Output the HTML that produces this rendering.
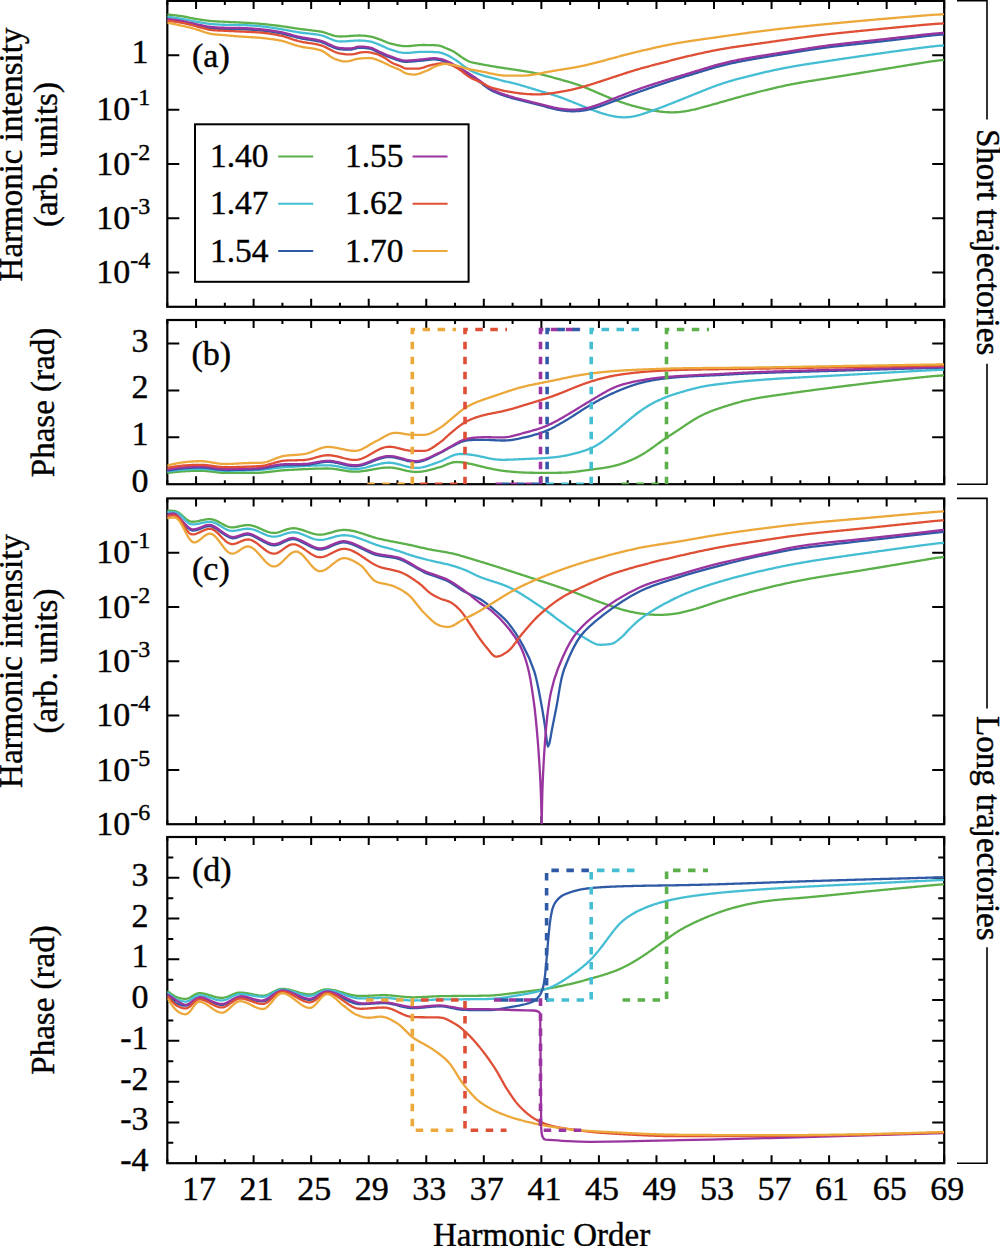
<!DOCTYPE html>
<html><head><meta charset="utf-8"><style>
html,body{margin:0;padding:0;background:#fff;}
svg{display:block;}
text{font-family:"Liberation Serif",serif;font-size:34px;fill:#000;stroke:#000;stroke-width:0.4px;}
</style></head><body>
<svg width="1000" height="1246" viewBox="0 0 1000 1246">
<rect x="167.3" y="0.9" width="776.90" height="305.90" fill="none" stroke="#000" stroke-width="2.2"/>
<path d="M167.30 306.80v-4M167.30 0.90v4M196.07 306.80v-8M196.07 0.90v8M224.85 306.80v-4M224.85 0.90v4M253.62 306.80v-8M253.62 0.90v8M282.40 306.80v-4M282.40 0.90v4M311.17 306.80v-8M311.17 0.90v8M339.94 306.80v-4M339.94 0.90v4M368.72 306.80v-8M368.72 0.90v8M397.49 306.80v-4M397.49 0.90v4M426.27 306.80v-8M426.27 0.90v8M455.04 306.80v-4M455.04 0.90v4M483.81 306.80v-8M483.81 0.90v8M512.59 306.80v-4M512.59 0.90v4M541.36 306.80v-8M541.36 0.90v8M570.14 306.80v-4M570.14 0.90v4M598.91 306.80v-8M598.91 0.90v8M627.69 306.80v-4M627.69 0.90v4M656.46 306.80v-8M656.46 0.90v8M685.23 306.80v-4M685.23 0.90v4M714.01 306.80v-8M714.01 0.90v8M742.78 306.80v-4M742.78 0.90v4M771.56 306.80v-8M771.56 0.90v8M800.33 306.80v-4M800.33 0.90v4M829.10 306.80v-8M829.10 0.90v8M857.88 306.80v-4M857.88 0.90v4M886.65 306.80v-8M886.65 0.90v8M915.43 306.80v-4M915.43 0.90v4M944.20 306.80v-8M944.20 0.90v8" stroke="#000" stroke-width="2" fill="none"/>
<rect x="167.3" y="320.0" width="776.90" height="164.20" fill="none" stroke="#000" stroke-width="2.2"/>
<path d="M167.30 484.20v-4M167.30 320.00v4M196.07 484.20v-8M196.07 320.00v8M224.85 484.20v-4M224.85 320.00v4M253.62 484.20v-8M253.62 320.00v8M282.40 484.20v-4M282.40 320.00v4M311.17 484.20v-8M311.17 320.00v8M339.94 484.20v-4M339.94 320.00v4M368.72 484.20v-8M368.72 320.00v8M397.49 484.20v-4M397.49 320.00v4M426.27 484.20v-8M426.27 320.00v8M455.04 484.20v-4M455.04 320.00v4M483.81 484.20v-8M483.81 320.00v8M512.59 484.20v-4M512.59 320.00v4M541.36 484.20v-8M541.36 320.00v8M570.14 484.20v-4M570.14 320.00v4M598.91 484.20v-8M598.91 320.00v8M627.69 484.20v-4M627.69 320.00v4M656.46 484.20v-8M656.46 320.00v8M685.23 484.20v-4M685.23 320.00v4M714.01 484.20v-8M714.01 320.00v8M742.78 484.20v-4M742.78 320.00v4M771.56 484.20v-8M771.56 320.00v8M800.33 484.20v-4M800.33 320.00v4M829.10 484.20v-8M829.10 320.00v8M857.88 484.20v-4M857.88 320.00v4M886.65 484.20v-8M886.65 320.00v8M915.43 484.20v-4M915.43 320.00v4M944.20 484.20v-8M944.20 320.00v8" stroke="#000" stroke-width="2" fill="none"/>
<rect x="167.3" y="498.4" width="776.90" height="325.80" fill="none" stroke="#000" stroke-width="2.2"/>
<path d="M167.30 824.20v-4M167.30 498.40v4M196.07 824.20v-8M196.07 498.40v8M224.85 824.20v-4M224.85 498.40v4M253.62 824.20v-8M253.62 498.40v8M282.40 824.20v-4M282.40 498.40v4M311.17 824.20v-8M311.17 498.40v8M339.94 824.20v-4M339.94 498.40v4M368.72 824.20v-8M368.72 498.40v8M397.49 824.20v-4M397.49 498.40v4M426.27 824.20v-8M426.27 498.40v8M455.04 824.20v-4M455.04 498.40v4M483.81 824.20v-8M483.81 498.40v8M512.59 824.20v-4M512.59 498.40v4M541.36 824.20v-8M541.36 498.40v8M570.14 824.20v-4M570.14 498.40v4M598.91 824.20v-8M598.91 498.40v8M627.69 824.20v-4M627.69 498.40v4M656.46 824.20v-8M656.46 498.40v8M685.23 824.20v-4M685.23 498.40v4M714.01 824.20v-8M714.01 498.40v8M742.78 824.20v-4M742.78 498.40v4M771.56 824.20v-8M771.56 498.40v8M800.33 824.20v-4M800.33 498.40v4M829.10 824.20v-8M829.10 498.40v8M857.88 824.20v-4M857.88 498.40v4M886.65 824.20v-8M886.65 498.40v8M915.43 824.20v-4M915.43 498.40v4M944.20 824.20v-8M944.20 498.40v8" stroke="#000" stroke-width="2" fill="none"/>
<rect x="167.3" y="837.0" width="776.90" height="326.20" fill="none" stroke="#000" stroke-width="2.2"/>
<path d="M167.30 1163.20v-4M167.30 837.00v4M196.07 1163.20v-8M196.07 837.00v8M224.85 1163.20v-4M224.85 837.00v4M253.62 1163.20v-8M253.62 837.00v8M282.40 1163.20v-4M282.40 837.00v4M311.17 1163.20v-8M311.17 837.00v8M339.94 1163.20v-4M339.94 837.00v4M368.72 1163.20v-8M368.72 837.00v8M397.49 1163.20v-4M397.49 837.00v4M426.27 1163.20v-8M426.27 837.00v8M455.04 1163.20v-4M455.04 837.00v4M483.81 1163.20v-8M483.81 837.00v8M512.59 1163.20v-4M512.59 837.00v4M541.36 1163.20v-8M541.36 837.00v8M570.14 1163.20v-4M570.14 837.00v4M598.91 1163.20v-8M598.91 837.00v8M627.69 1163.20v-4M627.69 837.00v4M656.46 1163.20v-8M656.46 837.00v8M685.23 1163.20v-4M685.23 837.00v4M714.01 1163.20v-8M714.01 837.00v8M742.78 1163.20v-4M742.78 837.00v4M771.56 1163.20v-8M771.56 837.00v8M800.33 1163.20v-4M800.33 837.00v4M829.10 1163.20v-8M829.10 837.00v8M857.88 1163.20v-4M857.88 837.00v4M886.65 1163.20v-8M886.65 837.00v8M915.43 1163.20v-4M915.43 837.00v4M944.20 1163.20v-8M944.20 837.00v8" stroke="#000" stroke-width="2" fill="none"/>
<path d="M167.30 55.30h12M944.20 55.30h-12M167.30 109.63h12M944.20 109.63h-12M167.30 163.96h12M944.20 163.96h-12M167.30 218.29h12M944.20 218.29h-12M167.30 272.62h12M944.20 272.62h-12" stroke="#000" stroke-width="2" fill="none"/>
<path d="M167.30 437.30h12M944.20 437.30h-12M167.30 390.40h12M944.20 390.40h-12M167.30 343.50h12M944.20 343.50h-12" stroke="#000" stroke-width="2" fill="none"/>
<path d="M167.30 552.70h12M944.20 552.70h-12M167.30 607.00h12M944.20 607.00h-12M167.30 661.30h12M944.20 661.30h-12M167.30 715.60h12M944.20 715.60h-12M167.30 769.90h12M944.20 769.90h-12" stroke="#000" stroke-width="2" fill="none"/>
<path d="M167.30 1122.41h12M944.20 1122.41h-12M167.30 1081.64h12M944.20 1081.64h-12M167.30 1040.87h12M944.20 1040.87h-12M167.30 1000.10h12M944.20 1000.10h-12M167.30 959.33h12M944.20 959.33h-12M167.30 918.56h12M944.20 918.56h-12M167.30 877.79h12M944.20 877.79h-12" stroke="#000" stroke-width="2" fill="none"/>
<path d="M167.30 1142.80h6M944.20 1142.80h-6M167.30 1102.03h6M944.20 1102.03h-6M167.30 1061.26h6M944.20 1061.26h-6M167.30 1020.49h6M944.20 1020.49h-6M167.30 979.72h6M944.20 979.72h-6M167.30 938.95h6M944.20 938.95h-6M167.30 898.17h6M944.20 898.17h-6M167.30 857.40h6M944.20 857.40h-6" stroke="#000" stroke-width="2" fill="none"/>
<text x="148.5" y="63.3" text-anchor="end">1</text>
<text x="150.3" y="120.2" text-anchor="end">10<tspan font-size="24" style="font-size:24px" dy="-15">-1</tspan></text>
<text x="150.3" y="174.6" text-anchor="end">10<tspan font-size="24" style="font-size:24px" dy="-15">-2</tspan></text>
<text x="150.3" y="228.9" text-anchor="end">10<tspan font-size="24" style="font-size:24px" dy="-15">-3</tspan></text>
<text x="150.3" y="283.2" text-anchor="end">10<tspan font-size="24" style="font-size:24px" dy="-15">-4</tspan></text>
<text x="148.5" y="492.2" text-anchor="end">0</text>
<text x="148.5" y="445.3" text-anchor="end">1</text>
<text x="148.5" y="398.4" text-anchor="end">2</text>
<text x="148.5" y="351.5" text-anchor="end">3</text>
<text x="150.3" y="563.3" text-anchor="end">10<tspan font-size="24" style="font-size:24px" dy="-15">-1</tspan></text>
<text x="150.3" y="617.6" text-anchor="end">10<tspan font-size="24" style="font-size:24px" dy="-15">-2</tspan></text>
<text x="150.3" y="671.9" text-anchor="end">10<tspan font-size="24" style="font-size:24px" dy="-15">-3</tspan></text>
<text x="150.3" y="726.2" text-anchor="end">10<tspan font-size="24" style="font-size:24px" dy="-15">-4</tspan></text>
<text x="150.3" y="780.5" text-anchor="end">10<tspan font-size="24" style="font-size:24px" dy="-15">-5</tspan></text>
<text x="150.3" y="834.8" text-anchor="end">10<tspan font-size="24" style="font-size:24px" dy="-15">-6</tspan></text>
<text x="148.5" y="1171.2" text-anchor="end">-4</text>
<text x="148.5" y="1130.4" text-anchor="end">-3</text>
<text x="148.5" y="1089.6" text-anchor="end">-2</text>
<text x="148.5" y="1048.9" text-anchor="end">-1</text>
<text x="148.5" y="1008.1" text-anchor="end">0</text>
<text x="148.5" y="967.3" text-anchor="end">1</text>
<text x="148.5" y="926.6" text-anchor="end">2</text>
<text x="148.5" y="885.8" text-anchor="end">3</text>
<text x="199.1" y="1199.5" text-anchor="middle">17</text>
<text x="256.6" y="1199.5" text-anchor="middle">21</text>
<text x="314.2" y="1199.5" text-anchor="middle">25</text>
<text x="371.7" y="1199.5" text-anchor="middle">29</text>
<text x="429.3" y="1199.5" text-anchor="middle">33</text>
<text x="486.8" y="1199.5" text-anchor="middle">37</text>
<text x="544.4" y="1199.5" text-anchor="middle">41</text>
<text x="601.9" y="1199.5" text-anchor="middle">45</text>
<text x="659.5" y="1199.5" text-anchor="middle">49</text>
<text x="717.0" y="1199.5" text-anchor="middle">53</text>
<text x="774.6" y="1199.5" text-anchor="middle">57</text>
<text x="832.1" y="1199.5" text-anchor="middle">61</text>
<text x="889.7" y="1199.5" text-anchor="middle">65</text>
<text x="947.2" y="1199.5" text-anchor="middle">69</text>
<text x="433" y="1246.2" font-size="33" style="font-size:33px">Harmonic Order</text>
<text x="192" y="66.8">(a)</text>
<text x="191.5" y="365.2">(b)</text>
<text x="192" y="580">(c)</text>
<text x="192" y="880.8">(d)</text>
<text transform="translate(22,154.5) rotate(-90)" text-anchor="middle" style="font-size:33px">Harmonic intensity</text>
<text transform="translate(57,154.5) rotate(-90)" text-anchor="middle" style="font-size:33px">(arb. units)</text>
<text transform="translate(54,402.5) rotate(-90)" text-anchor="middle" style="font-size:33px">Phase (rad)</text>
<text transform="translate(22,661) rotate(-90)" text-anchor="middle" style="font-size:33px">Harmonic intensity</text>
<text transform="translate(57,661) rotate(-90)" text-anchor="middle" style="font-size:33px">(arb. units)</text>
<text transform="translate(54,1000) rotate(-90)" text-anchor="middle" style="font-size:33px">Phase (rad)</text>
<path d="M957 0.8H987V119.6 M987 363.8V484.2H957 M957 498.4H987V708.4 M987 947.3V1163.2H957" stroke="#000" stroke-width="1.6" fill="none"/>
<text transform="translate(977,242.1) rotate(90)" text-anchor="middle" style="font-size:33px">Short trajectories</text>
<text transform="translate(977,828.3) rotate(90)" text-anchor="middle" style="font-size:33px">Long trajectories</text>
<defs><clipPath id="clipa"><rect x="167.3" y="0.9" width="776.90" height="305.90"/></clipPath><clipPath id="clipb"><rect x="167.3" y="320.0" width="776.90" height="164.20"/></clipPath><clipPath id="clipc"><rect x="167.3" y="498.4" width="776.90" height="325.80"/></clipPath><clipPath id="clipd"><rect x="167.3" y="837.0" width="776.90" height="326.20"/></clipPath></defs>
<path d="M168.0 14.64L169.0 14.69L170.0 14.77L171.0 14.86L172.0 14.96L173.0 15.07L174.0 15.18L175.0 15.30L176.0 15.42L177.0 15.55L178.0 15.68L179.0 15.82L180.0 15.96L181.0 16.11L182.0 16.25L183.0 16.41L184.0 16.57L185.0 16.75L186.0 16.95L187.0 17.15L188.0 17.37L189.0 17.58L190.0 17.80L191.0 18.02L192.0 18.23L193.0 18.43L194.0 18.62L195.0 18.79L196.0 18.96L197.0 19.12L198.0 19.29L199.0 19.45L200.0 19.60L201.0 19.76L202.0 19.91L203.0 20.06L204.0 20.20L205.0 20.34L206.0 20.47L207.0 20.60L208.0 20.72L209.0 20.83L210.0 20.94L211.0 21.03L212.0 21.12L213.0 21.19L214.0 21.26L215.0 21.33L216.0 21.38L217.0 21.44L218.0 21.49L219.0 21.53L220.0 21.58L221.0 21.62L222.0 21.66L223.0 21.71L224.0 21.75L225.0 21.80L226.0 21.85L227.0 21.89L228.0 21.94L229.0 21.98L230.0 22.03L231.0 22.07L232.0 22.12L233.0 22.16L234.0 22.21L235.0 22.25L236.0 22.30L237.0 22.35L238.0 22.40L239.0 22.45L240.0 22.50L241.0 22.55L242.0 22.61L243.0 22.67L244.0 22.72L245.0 22.78L246.0 22.84L247.0 22.90L248.0 22.96L249.0 23.02L250.0 23.08L251.0 23.15L252.0 23.21L253.0 23.28L254.0 23.35L255.0 23.42L256.0 23.49L257.0 23.57L258.0 23.64L259.0 23.72L260.0 23.80L261.0 23.89L262.0 23.97L263.0 24.06L264.0 24.16L265.0 24.26L266.0 24.36L267.0 24.46L268.0 24.57L269.0 24.68L270.0 24.79L271.0 24.90L272.0 25.02L273.0 25.14L274.0 25.26L275.0 25.38L276.0 25.50L277.0 25.62L278.0 25.75L279.0 25.87L280.0 26.00L281.0 26.13L282.0 26.27L283.0 26.41L284.0 26.55L285.0 26.70L286.0 26.85L287.0 27.00L288.0 27.16L289.0 27.32L290.0 27.48L291.0 27.64L292.0 27.79L293.0 27.95L294.0 28.11L295.0 28.27L296.0 28.42L297.0 28.57L298.0 28.72L299.0 28.86L300.0 29.00L301.0 29.13L302.0 29.26L303.0 29.38L304.0 29.50L305.0 29.62L306.0 29.73L307.0 29.84L308.0 29.95L309.0 30.06L310.0 30.18L311.0 30.29L312.0 30.40L313.0 30.52L314.0 30.65L315.0 30.77L316.0 30.91L317.0 31.04L318.0 31.19L319.0 31.35L320.0 31.52L321.0 31.71L322.0 31.93L323.0 32.18L324.0 32.46L325.0 32.76L326.0 33.08L327.0 33.41L328.0 33.74L329.0 34.08L330.0 34.41L331.0 34.74L332.0 35.05L333.0 35.34L334.0 35.61L335.0 35.85L336.0 36.06L337.0 36.23L338.0 36.36L339.0 36.44L340.0 36.48L341.0 36.48L342.0 36.46L343.0 36.43L344.0 36.39L345.0 36.34L346.0 36.28L347.0 36.22L348.0 36.15L349.0 36.07L350.0 36.00L351.0 35.93L352.0 35.85L353.0 35.78L354.0 35.72L355.0 35.66L356.0 35.61L357.0 35.57L358.0 35.54L359.0 35.52L360.0 35.52L361.0 35.53L362.0 35.57L363.0 35.64L364.0 35.72L365.0 35.82L366.0 35.94L367.0 36.07L368.0 36.21L369.0 36.36L370.0 36.52L371.0 36.70L372.0 36.92L373.0 37.18L374.0 37.46L375.0 37.78L376.0 38.11L377.0 38.45L378.0 38.80L379.0 39.15L380.0 39.51L381.0 39.88L382.0 40.28L383.0 40.69L384.0 41.12L385.0 41.56L386.0 41.98L387.0 42.38L388.0 42.75L389.0 43.09L390.0 43.38L391.0 43.65L392.0 43.90L393.0 44.15L394.0 44.39L395.0 44.63L396.0 44.86L397.0 45.08L398.0 45.29L399.0 45.48L400.0 45.65L401.0 45.80L402.0 45.93L403.0 46.04L404.0 46.11L405.0 46.16L406.0 46.18L407.0 46.17L408.0 46.13L409.0 46.08L410.0 46.00L411.0 45.91L412.0 45.82L413.0 45.71L414.0 45.60L415.0 45.49L416.0 45.38L417.0 45.29L418.0 45.20L419.0 45.12L420.0 45.07L421.0 45.03L422.0 45.01L423.0 45.01L424.0 45.01L425.0 45.02L426.0 45.03L427.0 45.04L428.0 45.06L429.0 45.08L430.0 45.10L431.0 45.13L432.0 45.15L433.0 45.19L434.0 45.22L435.0 45.26L436.0 45.31L437.0 45.36L438.0 45.45L439.0 45.59L440.0 45.81L441.0 46.12L442.0 46.49L443.0 46.90L444.0 47.34L445.0 47.77L446.0 48.19L447.0 48.60L448.0 49.01L449.0 49.43L450.0 49.86L451.0 50.31L452.0 50.79L453.0 51.29L454.0 51.84L455.0 52.44L456.0 53.10L457.0 53.80L458.0 54.54L459.0 55.28L460.0 56.01L461.0 56.71L462.0 57.38L463.0 58.02L464.0 58.66L465.0 59.27L466.0 59.87L467.0 60.43L468.0 60.94L469.0 61.38L470.0 61.76L471.0 62.08L472.0 62.36L473.0 62.60L474.0 62.83L475.0 63.04L476.0 63.24L477.0 63.43L478.0 63.62L479.0 63.81L480.0 64.00L481.0 64.19L482.0 64.39L483.0 64.58L484.0 64.76L485.0 64.95L486.0 65.13L487.0 65.31L488.0 65.49L489.0 65.66L490.0 65.84L491.0 66.01L492.0 66.18L493.0 66.35L494.0 66.52L495.0 66.68L496.0 66.85L497.0 67.01L498.0 67.18L499.0 67.34L500.0 67.50L501.0 67.66L502.0 67.81L503.0 67.97L504.0 68.12L505.0 68.27L506.0 68.42L507.0 68.57L508.0 68.71L509.0 68.86L510.0 69.00L511.0 69.14L512.0 69.29L513.0 69.43L514.0 69.58L515.0 69.73L516.0 69.88L517.0 70.03L518.0 70.19L519.0 70.34L520.0 70.50L521.0 70.66L522.0 70.82L523.0 70.98L524.0 71.15L525.0 71.31L526.0 71.47L527.0 71.64L528.0 71.80L529.0 71.97L530.0 72.15L531.0 72.32L532.0 72.50L533.0 72.68L534.0 72.87L535.0 73.06L536.0 73.26L537.0 73.46L538.0 73.67L539.0 73.88L540.0 74.10L541.0 74.33L542.0 74.57L543.0 74.81L544.0 75.06L545.0 75.32L546.0 75.58L547.0 75.85L548.0 76.12L549.0 76.39L550.0 76.67L551.0 76.95L552.0 77.23L553.0 77.51L554.0 77.79L555.0 78.07L556.0 78.35L557.0 78.63L558.0 78.90L559.0 79.18L560.0 79.45L561.0 79.73L562.0 80.00L563.0 80.27L564.0 80.55L565.0 80.82L566.0 81.10L567.0 81.38L568.0 81.66L569.0 81.95L570.0 82.25L571.0 82.54L572.0 82.85L573.0 83.16L574.0 83.48L575.0 83.80L576.0 84.13L577.0 84.47L578.0 84.82L579.0 85.18L580.0 85.55L581.0 85.91L582.0 86.28L583.0 86.66L584.0 87.05L585.0 87.44L586.0 87.84L587.0 88.25L588.0 88.66L589.0 89.08L590.0 89.50L591.0 89.93L592.0 90.35L593.0 90.78L594.0 91.22L595.0 91.65L596.0 92.09L597.0 92.52L598.0 92.95L599.0 93.39L600.0 93.82L601.0 94.25L602.0 94.68L603.0 95.10L604.0 95.53L605.0 95.95L606.0 96.36L607.0 96.77L608.0 97.18L609.0 97.59L610.0 97.99L611.0 98.38L612.0 98.77L613.0 99.16L614.0 99.54L615.0 99.92L616.0 100.30L617.0 100.66L618.0 101.03L619.0 101.39L620.0 101.74L621.0 102.09L622.0 102.43L623.0 102.77L624.0 103.10L625.0 103.43L626.0 103.76L627.0 104.07L628.0 104.39L629.0 104.69L630.0 104.99L631.0 105.29L632.0 105.58L633.0 105.87L634.0 106.15L635.0 106.42L636.0 106.69L637.0 106.96L638.0 107.21L639.0 107.47L640.0 107.71L641.0 107.96L642.0 108.19L643.0 108.43L644.0 108.65L645.0 108.87L646.0 109.09L647.0 109.30L648.0 109.50L649.0 109.70L650.0 109.90L651.0 110.09L652.0 110.27L653.0 110.45L654.0 110.62L655.0 110.79L656.0 110.95L657.0 111.10L658.0 111.25L659.0 111.39L660.0 111.52L661.0 111.64L662.0 111.75L663.0 111.86L664.0 111.95L665.0 112.04L666.0 112.11L667.0 112.17L668.0 112.23L669.0 112.27L670.0 112.30L671.0 112.32L672.0 112.33L673.0 112.32L674.0 112.30L675.0 112.27L676.0 112.23L677.0 112.18L678.0 112.11L679.0 112.03L680.0 111.94L681.0 111.84L682.0 111.73L683.0 111.60L684.0 111.46L685.0 111.31L686.0 111.15L687.0 110.98L688.0 110.80L689.0 110.61L690.0 110.41L691.0 110.20L692.0 109.98L693.0 109.75L694.0 109.52L695.0 109.28L696.0 109.03L697.0 108.78L698.0 108.53L699.0 108.27L700.0 108.00L701.0 107.74L702.0 107.47L703.0 107.20L704.0 106.92L705.0 106.65L706.0 106.38L707.0 106.10L708.0 105.82L709.0 105.54L710.0 105.27L711.0 104.99L712.0 104.71L713.0 104.43L714.0 104.15L715.0 103.87L716.0 103.59L717.0 103.31L718.0 103.03L719.0 102.75L720.0 102.47L721.0 102.18L722.0 101.90L723.0 101.62L724.0 101.34L725.0 101.05L726.0 100.77L727.0 100.49L728.0 100.20L729.0 99.92L730.0 99.64L731.0 99.35L732.0 99.07L733.0 98.79L734.0 98.50L735.0 98.22L736.0 97.94L737.0 97.66L738.0 97.38L739.0 97.10L740.0 96.82L741.0 96.54L742.0 96.26L743.0 95.99L744.0 95.71L745.0 95.44L746.0 95.16L747.0 94.89L748.0 94.62L749.0 94.36L750.0 94.09L751.0 93.82L752.0 93.56L753.0 93.30L754.0 93.03L755.0 92.77L756.0 92.52L757.0 92.26L758.0 92.00L759.0 91.75L760.0 91.50L761.0 91.25L762.0 91.00L763.0 90.75L764.0 90.50L765.0 90.26L766.0 90.02L767.0 89.77L768.0 89.53L769.0 89.29L770.0 89.05L771.0 88.82L772.0 88.58L773.0 88.35L774.0 88.11L775.0 87.88L776.0 87.65L777.0 87.42L778.0 87.20L779.0 86.97L780.0 86.75L781.0 86.53L782.0 86.31L783.0 86.09L784.0 85.87L785.0 85.66L786.0 85.45L787.0 85.24L788.0 85.03L789.0 84.83L790.0 84.62L791.0 84.43L792.0 84.23L793.0 84.03L794.0 83.84L795.0 83.65L796.0 83.47L797.0 83.28L798.0 83.10L799.0 82.92L800.0 82.75L801.0 82.57L802.0 82.40L803.0 82.23L804.0 82.06L805.0 81.89L806.0 81.72L807.0 81.56L808.0 81.39L809.0 81.23L810.0 81.07L811.0 80.91L812.0 80.75L813.0 80.59L814.0 80.43L815.0 80.27L816.0 80.11L817.0 79.95L818.0 79.79L819.0 79.64L820.0 79.48L821.0 79.32L822.0 79.16L823.0 79.00L824.0 78.84L825.0 78.68L826.0 78.52L827.0 78.36L828.0 78.20L829.0 78.04L830.0 77.88L831.0 77.71L832.0 77.55L833.0 77.39L834.0 77.23L835.0 77.07L836.0 76.91L837.0 76.74L838.0 76.58L839.0 76.42L840.0 76.26L841.0 76.09L842.0 75.93L843.0 75.77L844.0 75.61L845.0 75.44L846.0 75.28L847.0 75.12L848.0 74.95L849.0 74.79L850.0 74.63L851.0 74.47L852.0 74.30L853.0 74.14L854.0 73.98L855.0 73.81L856.0 73.65L857.0 73.49L858.0 73.32L859.0 73.16L860.0 73.00L861.0 72.83L862.0 72.67L863.0 72.51L864.0 72.34L865.0 72.18L866.0 72.02L867.0 71.85L868.0 71.69L869.0 71.53L870.0 71.36L871.0 71.20L872.0 71.03L873.0 70.87L874.0 70.71L875.0 70.54L876.0 70.38L877.0 70.22L878.0 70.05L879.0 69.89L880.0 69.73L881.0 69.56L882.0 69.40L883.0 69.24L884.0 69.07L885.0 68.91L886.0 68.75L887.0 68.58L888.0 68.42L889.0 68.26L890.0 68.09L891.0 67.93L892.0 67.76L893.0 67.60L894.0 67.44L895.0 67.27L896.0 67.11L897.0 66.95L898.0 66.78L899.0 66.62L900.0 66.45L901.0 66.29L902.0 66.13L903.0 65.96L904.0 65.80L905.0 65.64L906.0 65.47L907.0 65.31L908.0 65.14L909.0 64.98L910.0 64.82L911.0 64.65L912.0 64.49L913.0 64.33L914.0 64.16L915.0 64.00L916.0 63.83L917.0 63.67L918.0 63.51L919.0 63.35L920.0 63.18L921.0 63.02L922.0 62.86L923.0 62.70L924.0 62.54L925.0 62.38L926.0 62.22L927.0 62.07L928.0 61.91L929.0 61.76L930.0 61.61L931.0 61.46L932.0 61.32L933.0 61.18L934.0 61.04L935.0 60.91L936.0 60.78L937.0 60.66L938.0 60.55L939.0 60.44L940.0 60.33L941.0 60.23L942.0 60.14L943.0 60.05" stroke="#5bb04a" stroke-width="2.3" fill="none" stroke-linejoin="round" stroke-linecap="round" clip-path="url(#clipa)"/>
<path d="M168.0 16.86L169.0 16.95L170.0 17.07L171.0 17.20L172.0 17.34L173.0 17.49L174.0 17.64L175.0 17.79L176.0 17.94L177.0 18.10L178.0 18.26L179.0 18.42L180.0 18.59L181.0 18.76L182.0 18.93L183.0 19.10L184.0 19.29L185.0 19.48L186.0 19.68L187.0 19.88L188.0 20.09L189.0 20.30L190.0 20.51L191.0 20.72L192.0 20.93L193.0 21.12L194.0 21.31L195.0 21.50L196.0 21.68L197.0 21.85L198.0 22.03L199.0 22.21L200.0 22.39L201.0 22.56L202.0 22.74L203.0 22.91L204.0 23.07L205.0 23.23L206.0 23.39L207.0 23.53L208.0 23.67L209.0 23.80L210.0 23.91L211.0 24.02L212.0 24.11L213.0 24.19L214.0 24.27L215.0 24.34L216.0 24.40L217.0 24.46L218.0 24.52L219.0 24.57L220.0 24.62L221.0 24.67L222.0 24.71L223.0 24.74L224.0 24.77L225.0 24.80L226.0 24.82L227.0 24.84L228.0 24.85L229.0 24.86L230.0 24.88L231.0 24.89L232.0 24.90L233.0 24.91L234.0 24.92L235.0 24.93L236.0 24.94L237.0 24.95L238.0 24.97L239.0 24.98L240.0 25.00L241.0 25.03L242.0 25.06L243.0 25.09L244.0 25.13L245.0 25.17L246.0 25.22L247.0 25.27L248.0 25.32L249.0 25.38L250.0 25.45L251.0 25.51L252.0 25.58L253.0 25.65L254.0 25.72L255.0 25.80L256.0 25.88L257.0 25.95L258.0 26.04L259.0 26.12L260.0 26.20L261.0 26.29L262.0 26.39L263.0 26.50L264.0 26.61L265.0 26.73L266.0 26.86L267.0 26.99L268.0 27.13L269.0 27.28L270.0 27.42L271.0 27.58L272.0 27.73L273.0 27.89L274.0 28.04L275.0 28.20L276.0 28.36L277.0 28.52L278.0 28.68L279.0 28.84L280.0 29.00L281.0 29.16L282.0 29.33L283.0 29.50L284.0 29.67L285.0 29.85L286.0 30.03L287.0 30.22L288.0 30.40L289.0 30.59L290.0 30.77L291.0 30.96L292.0 31.15L293.0 31.33L294.0 31.51L295.0 31.69L296.0 31.86L297.0 32.03L298.0 32.19L299.0 32.35L300.0 32.49L301.0 32.64L302.0 32.77L303.0 32.89L304.0 33.01L305.0 33.13L306.0 33.24L307.0 33.35L308.0 33.45L309.0 33.56L310.0 33.66L311.0 33.77L312.0 33.88L313.0 34.00L314.0 34.12L315.0 34.24L316.0 34.38L317.0 34.52L318.0 34.67L319.0 34.84L320.0 35.02L321.0 35.25L322.0 35.51L323.0 35.82L324.0 36.16L325.0 36.54L326.0 36.95L327.0 37.37L328.0 37.81L329.0 38.25L330.0 38.69L331.0 39.13L332.0 39.54L333.0 39.93L334.0 40.30L335.0 40.62L336.0 40.90L337.0 41.13L338.0 41.30L339.0 41.41L340.0 41.47L341.0 41.48L342.0 41.46L343.0 41.43L344.0 41.39L345.0 41.34L346.0 41.28L347.0 41.22L348.0 41.15L349.0 41.07L350.0 41.00L351.0 40.93L352.0 40.85L353.0 40.78L354.0 40.72L355.0 40.66L356.0 40.61L357.0 40.57L358.0 40.54L359.0 40.52L360.0 40.51L361.0 40.53L362.0 40.57L363.0 40.63L364.0 40.72L365.0 40.82L366.0 40.93L367.0 41.06L368.0 41.20L369.0 41.35L370.0 41.52L371.0 41.73L372.0 41.97L373.0 42.27L374.0 42.61L375.0 42.97L376.0 43.37L377.0 43.77L378.0 44.18L379.0 44.60L380.0 45.01L381.0 45.43L382.0 45.88L383.0 46.34L384.0 46.82L385.0 47.30L386.0 47.77L387.0 48.22L388.0 48.65L389.0 49.03L390.0 49.38L391.0 49.71L392.0 50.02L393.0 50.34L394.0 50.65L395.0 50.95L396.0 51.25L397.0 51.53L398.0 51.80L399.0 52.05L400.0 52.27L401.0 52.47L402.0 52.64L403.0 52.78L404.0 52.88L405.0 52.95L406.0 52.97L407.0 52.97L408.0 52.93L409.0 52.88L410.0 52.80L411.0 52.71L412.0 52.62L413.0 52.51L414.0 52.40L415.0 52.29L416.0 52.18L417.0 52.09L418.0 52.00L419.0 51.92L420.0 51.87L421.0 51.83L422.0 51.81L423.0 51.81L424.0 51.81L425.0 51.82L426.0 51.83L427.0 51.84L428.0 51.86L429.0 51.88L430.0 51.90L431.0 51.93L432.0 51.96L433.0 51.99L434.0 52.03L435.0 52.06L436.0 52.11L437.0 52.16L438.0 52.23L439.0 52.35L440.0 52.54L441.0 52.79L442.0 53.09L443.0 53.44L444.0 53.82L445.0 54.21L446.0 54.62L447.0 55.05L448.0 55.53L449.0 56.04L450.0 56.59L451.0 57.17L452.0 57.77L453.0 58.39L454.0 59.01L455.0 59.66L456.0 60.32L457.0 61.01L458.0 61.72L459.0 62.44L460.0 63.17L461.0 63.89L462.0 64.61L463.0 65.33L464.0 66.07L465.0 66.81L466.0 67.55L467.0 68.26L468.0 68.95L469.0 69.58L470.0 70.17L471.0 70.70L472.0 71.21L473.0 71.69L474.0 72.14L475.0 72.58L476.0 72.99L477.0 73.39L478.0 73.77L479.0 74.14L480.0 74.49L481.0 74.83L482.0 75.16L483.0 75.47L484.0 75.78L485.0 76.07L486.0 76.36L487.0 76.64L488.0 76.92L489.0 77.19L490.0 77.45L491.0 77.71L492.0 77.97L493.0 78.22L494.0 78.47L495.0 78.73L496.0 78.98L497.0 79.23L498.0 79.49L499.0 79.74L500.0 80.00L501.0 80.26L502.0 80.51L503.0 80.76L504.0 81.01L505.0 81.26L506.0 81.51L507.0 81.75L508.0 81.99L509.0 82.23L510.0 82.47L511.0 82.72L512.0 82.96L513.0 83.20L514.0 83.45L515.0 83.70L516.0 83.95L517.0 84.21L518.0 84.47L519.0 84.73L520.0 85.00L521.0 85.28L522.0 85.56L523.0 85.85L524.0 86.14L525.0 86.44L526.0 86.73L527.0 87.03L528.0 87.34L529.0 87.64L530.0 87.94L531.0 88.25L532.0 88.56L533.0 88.86L534.0 89.17L535.0 89.47L536.0 89.78L537.0 90.08L538.0 90.39L539.0 90.69L540.0 90.99L541.0 91.28L542.0 91.58L543.0 91.88L544.0 92.17L545.0 92.46L546.0 92.76L547.0 93.05L548.0 93.35L549.0 93.65L550.0 93.95L551.0 94.26L552.0 94.57L553.0 94.88L554.0 95.19L555.0 95.52L556.0 95.84L557.0 96.18L558.0 96.51L559.0 96.86L560.0 97.21L561.0 97.56L562.0 97.92L563.0 98.29L564.0 98.66L565.0 99.04L566.0 99.43L567.0 99.81L568.0 100.20L569.0 100.59L570.0 100.99L571.0 101.39L572.0 101.79L573.0 102.19L574.0 102.59L575.0 102.99L576.0 103.40L577.0 103.80L578.0 104.21L579.0 104.62L580.0 105.02L581.0 105.43L582.0 105.83L583.0 106.24L584.0 106.64L585.0 107.05L586.0 107.45L587.0 107.84L588.0 108.24L589.0 108.63L590.0 109.02L591.0 109.41L592.0 109.79L593.0 110.16L594.0 110.54L595.0 110.90L596.0 111.26L597.0 111.62L598.0 111.96L599.0 112.31L600.0 112.64L601.0 112.97L602.0 113.28L603.0 113.59L604.0 113.90L605.0 114.19L606.0 114.47L607.0 114.74L608.0 115.01L609.0 115.26L610.0 115.50L611.0 115.72L612.0 115.94L613.0 116.14L614.0 116.33L615.0 116.50L616.0 116.66L617.0 116.80L618.0 116.93L619.0 117.04L620.0 117.13L621.0 117.20L622.0 117.25L623.0 117.29L624.0 117.30L625.0 117.29L626.0 117.26L627.0 117.21L628.0 117.14L629.0 117.05L630.0 116.93L631.0 116.80L632.0 116.64L633.0 116.47L634.0 116.27L635.0 116.06L636.0 115.83L637.0 115.59L638.0 115.33L639.0 115.06L640.0 114.78L641.0 114.48L642.0 114.17L643.0 113.86L644.0 113.54L645.0 113.21L646.0 112.88L647.0 112.54L648.0 112.19L649.0 111.85L650.0 111.50L651.0 111.14L652.0 110.79L653.0 110.43L654.0 110.06L655.0 109.70L656.0 109.34L657.0 108.97L658.0 108.60L659.0 108.23L660.0 107.85L661.0 107.47L662.0 107.10L663.0 106.72L664.0 106.33L665.0 105.95L666.0 105.56L667.0 105.17L668.0 104.78L669.0 104.39L670.0 104.00L671.0 103.60L672.0 103.21L673.0 102.81L674.0 102.41L675.0 102.01L676.0 101.62L677.0 101.22L678.0 100.82L679.0 100.41L680.0 100.01L681.0 99.61L682.0 99.21L683.0 98.81L684.0 98.41L685.0 98.01L686.0 97.60L687.0 97.20L688.0 96.80L689.0 96.40L690.0 95.99L691.0 95.59L692.0 95.19L693.0 94.79L694.0 94.38L695.0 93.98L696.0 93.58L697.0 93.17L698.0 92.77L699.0 92.37L700.0 91.96L701.0 91.56L702.0 91.16L703.0 90.76L704.0 90.36L705.0 89.96L706.0 89.56L707.0 89.17L708.0 88.77L709.0 88.38L710.0 87.99L711.0 87.61L712.0 87.23L713.0 86.85L714.0 86.48L715.0 86.11L716.0 85.74L717.0 85.38L718.0 85.03L719.0 84.68L720.0 84.33L721.0 83.99L722.0 83.66L723.0 83.33L724.0 83.00L725.0 82.68L726.0 82.37L727.0 82.06L728.0 81.75L729.0 81.45L730.0 81.16L731.0 80.86L732.0 80.57L733.0 80.29L734.0 80.00L735.0 79.72L736.0 79.45L737.0 79.17L738.0 78.90L739.0 78.63L740.0 78.36L741.0 78.10L742.0 77.84L743.0 77.57L744.0 77.31L745.0 77.06L746.0 76.80L747.0 76.54L748.0 76.29L749.0 76.04L750.0 75.79L751.0 75.54L752.0 75.29L753.0 75.04L754.0 74.80L755.0 74.55L756.0 74.31L757.0 74.07L758.0 73.83L759.0 73.59L760.0 73.36L761.0 73.12L762.0 72.89L763.0 72.66L764.0 72.43L765.0 72.20L766.0 71.97L767.0 71.74L768.0 71.52L769.0 71.30L770.0 71.08L771.0 70.86L772.0 70.64L773.0 70.42L774.0 70.21L775.0 69.99L776.0 69.78L777.0 69.57L778.0 69.36L779.0 69.16L780.0 68.95L781.0 68.75L782.0 68.55L783.0 68.35L784.0 68.15L785.0 67.96L786.0 67.77L787.0 67.57L788.0 67.38L789.0 67.20L790.0 67.01L791.0 66.83L792.0 66.65L793.0 66.47L794.0 66.29L795.0 66.12L796.0 65.94L797.0 65.77L798.0 65.60L799.0 65.44L800.0 65.27L801.0 65.11L802.0 64.94L803.0 64.78L804.0 64.62L805.0 64.47L806.0 64.31L807.0 64.15L808.0 64.00L809.0 63.84L810.0 63.69L811.0 63.54L812.0 63.39L813.0 63.24L814.0 63.09L815.0 62.94L816.0 62.79L817.0 62.64L818.0 62.49L819.0 62.34L820.0 62.19L821.0 62.04L822.0 61.89L823.0 61.74L824.0 61.60L825.0 61.45L826.0 61.30L827.0 61.15L828.0 61.00L829.0 60.85L830.0 60.70L831.0 60.55L832.0 60.40L833.0 60.25L834.0 60.10L835.0 59.95L836.0 59.81L837.0 59.66L838.0 59.51L839.0 59.36L840.0 59.21L841.0 59.06L842.0 58.91L843.0 58.76L844.0 58.61L845.0 58.47L846.0 58.32L847.0 58.17L848.0 58.02L849.0 57.87L850.0 57.73L851.0 57.58L852.0 57.43L853.0 57.28L854.0 57.14L855.0 56.99L856.0 56.84L857.0 56.70L858.0 56.55L859.0 56.40L860.0 56.26L861.0 56.11L862.0 55.97L863.0 55.82L864.0 55.68L865.0 55.53L866.0 55.39L867.0 55.24L868.0 55.10L869.0 54.96L870.0 54.81L871.0 54.67L872.0 54.53L873.0 54.38L874.0 54.24L875.0 54.10L876.0 53.96L877.0 53.82L878.0 53.68L879.0 53.53L880.0 53.39L881.0 53.25L882.0 53.11L883.0 52.97L884.0 52.83L885.0 52.70L886.0 52.56L887.0 52.42L888.0 52.28L889.0 52.14L890.0 52.00L891.0 51.86L892.0 51.73L893.0 51.59L894.0 51.45L895.0 51.32L896.0 51.18L897.0 51.04L898.0 50.91L899.0 50.77L900.0 50.64L901.0 50.50L902.0 50.36L903.0 50.23L904.0 50.09L905.0 49.96L906.0 49.83L907.0 49.69L908.0 49.56L909.0 49.42L910.0 49.29L911.0 49.16L912.0 49.02L913.0 48.89L914.0 48.76L915.0 48.63L916.0 48.50L917.0 48.36L918.0 48.23L919.0 48.10L920.0 47.97L921.0 47.84L922.0 47.71L923.0 47.59L924.0 47.46L925.0 47.33L926.0 47.21L927.0 47.08L928.0 46.96L929.0 46.84L930.0 46.72L931.0 46.61L932.0 46.50L933.0 46.39L934.0 46.28L935.0 46.18L936.0 46.08L937.0 45.98L938.0 45.89L939.0 45.80L940.0 45.72L941.0 45.65L942.0 45.57L943.0 45.51" stroke="#45bed4" stroke-width="2.3" fill="none" stroke-linejoin="round" stroke-linecap="round" clip-path="url(#clipa)"/>
<path d="M168.0 20.25L169.0 20.32L170.0 20.43L171.0 20.55L172.0 20.67L173.0 20.80L174.0 20.94L175.0 21.09L176.0 21.24L177.0 21.39L178.0 21.55L179.0 21.71L180.0 21.88L181.0 22.05L182.0 22.23L183.0 22.41L184.0 22.60L185.0 22.80L186.0 23.02L187.0 23.24L188.0 23.48L189.0 23.71L190.0 23.96L191.0 24.19L192.0 24.43L193.0 24.66L194.0 24.88L195.0 25.10L196.0 25.31L197.0 25.52L198.0 25.74L199.0 25.96L200.0 26.18L201.0 26.40L202.0 26.61L203.0 26.82L204.0 27.03L205.0 27.23L206.0 27.42L207.0 27.61L208.0 27.77L209.0 27.93L210.0 28.07L211.0 28.19L212.0 28.30L213.0 28.39L214.0 28.47L215.0 28.54L216.0 28.61L217.0 28.67L218.0 28.73L219.0 28.78L220.0 28.83L221.0 28.87L222.0 28.91L223.0 28.94L224.0 28.97L225.0 29.00L226.0 29.02L227.0 29.04L228.0 29.05L229.0 29.06L230.0 29.08L231.0 29.09L232.0 29.10L233.0 29.11L234.0 29.12L235.0 29.13L236.0 29.14L237.0 29.15L238.0 29.17L239.0 29.18L240.0 29.20L241.0 29.23L242.0 29.26L243.0 29.29L244.0 29.33L245.0 29.37L246.0 29.42L247.0 29.47L248.0 29.52L249.0 29.58L250.0 29.65L251.0 29.71L252.0 29.78L253.0 29.85L254.0 29.92L255.0 30.00L256.0 30.08L257.0 30.15L258.0 30.24L259.0 30.32L260.0 30.40L261.0 30.49L262.0 30.59L263.0 30.69L264.0 30.80L265.0 30.91L266.0 31.03L267.0 31.16L268.0 31.29L269.0 31.42L270.0 31.56L271.0 31.71L272.0 31.86L273.0 32.02L274.0 32.18L275.0 32.34L276.0 32.51L277.0 32.68L278.0 32.85L279.0 33.02L280.0 33.21L281.0 33.40L282.0 33.60L283.0 33.82L284.0 34.06L285.0 34.30L286.0 34.55L287.0 34.82L288.0 35.09L289.0 35.36L290.0 35.63L291.0 35.91L292.0 36.19L293.0 36.47L294.0 36.74L295.0 37.00L296.0 37.26L297.0 37.51L298.0 37.75L299.0 37.98L300.0 38.19L301.0 38.39L302.0 38.58L303.0 38.76L304.0 38.93L305.0 39.10L306.0 39.26L307.0 39.41L308.0 39.57L309.0 39.72L310.0 39.87L311.0 40.02L312.0 40.18L313.0 40.34L314.0 40.51L315.0 40.68L316.0 40.86L317.0 41.06L318.0 41.26L319.0 41.48L320.0 41.72L321.0 42.00L322.0 42.31L323.0 42.67L324.0 43.06L325.0 43.48L326.0 43.93L327.0 44.40L328.0 44.87L329.0 45.36L330.0 45.84L331.0 46.31L332.0 46.77L333.0 47.21L334.0 47.62L335.0 47.99L336.0 48.33L337.0 48.62L338.0 48.86L339.0 49.04L340.0 49.17L341.0 49.27L342.0 49.35L343.0 49.42L344.0 49.49L345.0 49.55L346.0 49.60L347.0 49.64L348.0 49.66L349.0 49.68L350.0 49.66L351.0 49.58L352.0 49.44L353.0 49.23L354.0 48.98L355.0 48.70L356.0 48.42L357.0 48.17L358.0 47.96L359.0 47.82L360.0 47.75L361.0 47.74L362.0 47.77L363.0 47.83L364.0 47.91L365.0 48.01L366.0 48.12L367.0 48.25L368.0 48.39L369.0 48.55L370.0 48.74L371.0 48.98L372.0 49.30L373.0 49.68L374.0 50.14L375.0 50.63L376.0 51.15L377.0 51.69L378.0 52.21L379.0 52.71L380.0 53.18L381.0 53.64L382.0 54.09L383.0 54.53L384.0 54.98L385.0 55.41L386.0 55.84L387.0 56.26L388.0 56.65L389.0 57.03L390.0 57.40L391.0 57.75L392.0 58.11L393.0 58.48L394.0 58.85L395.0 59.21L396.0 59.58L397.0 59.93L398.0 60.26L399.0 60.57L400.0 60.86L401.0 61.12L402.0 61.34L403.0 61.52L404.0 61.65L405.0 61.73L406.0 61.77L407.0 61.78L408.0 61.76L409.0 61.72L410.0 61.67L411.0 61.61L412.0 61.54L413.0 61.46L414.0 61.37L415.0 61.28L416.0 61.18L417.0 61.08L418.0 60.98L419.0 60.88L420.0 60.79L421.0 60.69L422.0 60.60L423.0 60.49L424.0 60.38L425.0 60.26L426.0 60.13L427.0 60.00L428.0 59.88L429.0 59.76L430.0 59.65L431.0 59.55L432.0 59.48L433.0 59.44L434.0 59.43L435.0 59.46L436.0 59.54L437.0 59.65L438.0 59.80L439.0 59.98L440.0 60.18L441.0 60.39L442.0 60.63L443.0 60.89L444.0 61.21L445.0 61.57L446.0 61.98L447.0 62.41L448.0 62.87L449.0 63.33L450.0 63.81L451.0 64.30L452.0 64.81L453.0 65.35L454.0 65.90L455.0 66.47L456.0 67.04L457.0 67.62L458.0 68.20L459.0 68.78L460.0 69.35L461.0 69.93L462.0 70.52L463.0 71.11L464.0 71.70L465.0 72.30L466.0 72.91L467.0 73.52L468.0 74.14L469.0 74.77L470.0 75.41L471.0 76.05L472.0 76.71L473.0 77.37L474.0 78.04L475.0 78.72L476.0 79.41L477.0 80.10L478.0 80.80L479.0 81.50L480.0 82.21L481.0 82.94L482.0 83.70L483.0 84.47L484.0 85.26L485.0 86.04L486.0 86.82L487.0 87.57L488.0 88.29L489.0 88.97L490.0 89.59L491.0 90.17L492.0 90.70L493.0 91.20L494.0 91.67L495.0 92.13L496.0 92.57L497.0 93.00L498.0 93.41L499.0 93.80L500.0 94.19L501.0 94.56L502.0 94.92L503.0 95.27L504.0 95.61L505.0 95.95L506.0 96.27L507.0 96.60L508.0 96.91L509.0 97.22L510.0 97.52L511.0 97.81L512.0 98.09L513.0 98.37L514.0 98.65L515.0 98.91L516.0 99.18L517.0 99.43L518.0 99.69L519.0 99.94L520.0 100.18L521.0 100.42L522.0 100.66L523.0 100.90L524.0 101.14L525.0 101.37L526.0 101.61L527.0 101.84L528.0 102.08L529.0 102.31L530.0 102.55L531.0 102.79L532.0 103.03L533.0 103.27L534.0 103.52L535.0 103.77L536.0 104.02L537.0 104.27L538.0 104.53L539.0 104.80L540.0 105.06L541.0 105.34L542.0 105.62L543.0 105.90L544.0 106.19L545.0 106.49L546.0 106.78L547.0 107.07L548.0 107.36L549.0 107.64L550.0 107.92L551.0 108.19L552.0 108.45L553.0 108.71L554.0 108.95L555.0 109.18L556.0 109.39L557.0 109.60L558.0 109.79L559.0 109.96L560.0 110.13L561.0 110.28L562.0 110.42L563.0 110.56L564.0 110.69L565.0 110.80L566.0 110.91L567.0 111.00L568.0 111.08L569.0 111.15L570.0 111.20L571.0 111.24L572.0 111.27L573.0 111.27L574.0 111.27L575.0 111.25L576.0 111.21L577.0 111.15L578.0 111.09L579.0 111.00L580.0 110.90L581.0 110.81L582.0 110.69L583.0 110.56L584.0 110.42L585.0 110.26L586.0 110.09L587.0 109.90L588.0 109.70L589.0 109.48L590.0 109.25L591.0 109.01L592.0 108.75L593.0 108.48L594.0 108.20L595.0 107.91L596.0 107.61L597.0 107.29L598.0 106.97L599.0 106.64L600.0 106.30L601.0 105.95L602.0 105.60L603.0 105.24L604.0 104.87L605.0 104.50L606.0 104.13L607.0 103.76L608.0 103.38L609.0 103.00L610.0 102.62L611.0 102.24L612.0 101.86L613.0 101.48L614.0 101.10L615.0 100.72L616.0 100.34L617.0 99.96L618.0 99.59L619.0 99.21L620.0 98.84L621.0 98.47L622.0 98.09L623.0 97.72L624.0 97.35L625.0 96.98L626.0 96.61L627.0 96.25L628.0 95.88L629.0 95.51L630.0 95.15L631.0 94.78L632.0 94.42L633.0 94.06L634.0 93.69L635.0 93.33L636.0 92.97L637.0 92.61L638.0 92.25L639.0 91.89L640.0 91.53L641.0 91.18L642.0 90.82L643.0 90.47L644.0 90.11L645.0 89.76L646.0 89.40L647.0 89.05L648.0 88.70L649.0 88.35L650.0 88.00L651.0 87.65L652.0 87.30L653.0 86.96L654.0 86.61L655.0 86.27L656.0 85.93L657.0 85.58L658.0 85.24L659.0 84.90L660.0 84.57L661.0 84.23L662.0 83.89L663.0 83.56L664.0 83.22L665.0 82.89L666.0 82.56L667.0 82.23L668.0 81.91L669.0 81.58L670.0 81.25L671.0 80.93L672.0 80.61L673.0 80.29L674.0 79.97L675.0 79.65L676.0 79.33L677.0 79.01L678.0 78.70L679.0 78.38L680.0 78.07L681.0 77.76L682.0 77.45L683.0 77.14L684.0 76.83L685.0 76.52L686.0 76.22L687.0 75.91L688.0 75.60L689.0 75.30L690.0 74.99L691.0 74.69L692.0 74.38L693.0 74.07L694.0 73.77L695.0 73.46L696.0 73.16L697.0 72.85L698.0 72.54L699.0 72.24L700.0 71.93L701.0 71.62L702.0 71.32L703.0 71.01L704.0 70.71L705.0 70.40L706.0 70.10L707.0 69.79L708.0 69.49L709.0 69.19L710.0 68.89L711.0 68.60L712.0 68.30L713.0 68.01L714.0 67.72L715.0 67.44L716.0 67.16L717.0 66.88L718.0 66.61L719.0 66.34L720.0 66.07L721.0 65.81L722.0 65.55L723.0 65.30L724.0 65.05L725.0 64.80L726.0 64.56L727.0 64.33L728.0 64.09L729.0 63.86L730.0 63.64L731.0 63.41L732.0 63.20L733.0 62.98L734.0 62.77L735.0 62.56L736.0 62.35L737.0 62.14L738.0 61.94L739.0 61.74L740.0 61.54L741.0 61.35L742.0 61.16L743.0 60.97L744.0 60.78L745.0 60.59L746.0 60.40L747.0 60.22L748.0 60.04L749.0 59.86L750.0 59.68L751.0 59.50L752.0 59.32L753.0 59.15L754.0 58.97L755.0 58.80L756.0 58.63L757.0 58.46L758.0 58.29L759.0 58.12L760.0 57.95L761.0 57.79L762.0 57.62L763.0 57.45L764.0 57.29L765.0 57.12L766.0 56.95L767.0 56.79L768.0 56.62L769.0 56.46L770.0 56.29L771.0 56.13L772.0 55.96L773.0 55.80L774.0 55.64L775.0 55.47L776.0 55.31L777.0 55.14L778.0 54.98L779.0 54.81L780.0 54.65L781.0 54.49L782.0 54.32L783.0 54.16L784.0 53.99L785.0 53.83L786.0 53.67L787.0 53.50L788.0 53.34L789.0 53.18L790.0 53.02L791.0 52.85L792.0 52.69L793.0 52.53L794.0 52.37L795.0 52.20L796.0 52.04L797.0 51.88L798.0 51.72L799.0 51.56L800.0 51.40L801.0 51.24L802.0 51.08L803.0 50.92L804.0 50.77L805.0 50.61L806.0 50.45L807.0 50.30L808.0 50.14L809.0 49.99L810.0 49.84L811.0 49.69L812.0 49.54L813.0 49.39L814.0 49.24L815.0 49.10L816.0 48.95L817.0 48.81L818.0 48.67L819.0 48.53L820.0 48.39L821.0 48.25L822.0 48.12L823.0 47.98L824.0 47.85L825.0 47.72L826.0 47.59L827.0 47.46L828.0 47.33L829.0 47.21L830.0 47.08L831.0 46.96L832.0 46.84L833.0 46.72L834.0 46.60L835.0 46.48L836.0 46.36L837.0 46.24L838.0 46.13L839.0 46.01L840.0 45.90L841.0 45.78L842.0 45.67L843.0 45.56L844.0 45.45L845.0 45.33L846.0 45.22L847.0 45.11L848.0 45.00L849.0 44.89L850.0 44.78L851.0 44.68L852.0 44.57L853.0 44.46L854.0 44.35L855.0 44.24L856.0 44.14L857.0 44.03L858.0 43.92L859.0 43.81L860.0 43.70L861.0 43.60L862.0 43.49L863.0 43.38L864.0 43.27L865.0 43.17L866.0 43.06L867.0 42.95L868.0 42.84L869.0 42.73L870.0 42.62L871.0 42.51L872.0 42.40L873.0 42.29L874.0 42.18L875.0 42.07L876.0 41.96L877.0 41.85L878.0 41.73L879.0 41.62L880.0 41.51L881.0 41.39L882.0 41.28L883.0 41.17L884.0 41.05L885.0 40.94L886.0 40.82L887.0 40.71L888.0 40.59L889.0 40.47L890.0 40.36L891.0 40.24L892.0 40.12L893.0 40.01L894.0 39.89L895.0 39.77L896.0 39.66L897.0 39.54L898.0 39.42L899.0 39.30L900.0 39.18L901.0 39.07L902.0 38.95L903.0 38.83L904.0 38.71L905.0 38.59L906.0 38.47L907.0 38.35L908.0 38.23L909.0 38.11L910.0 38.00L911.0 37.88L912.0 37.76L913.0 37.64L914.0 37.52L915.0 37.40L916.0 37.28L917.0 37.16L918.0 37.04L919.0 36.92L920.0 36.80L921.0 36.68L922.0 36.56L923.0 36.44L924.0 36.33L925.0 36.21L926.0 36.09L927.0 35.98L928.0 35.86L929.0 35.75L930.0 35.64L931.0 35.53L932.0 35.43L933.0 35.32L934.0 35.22L935.0 35.12L936.0 35.03L937.0 34.94L938.0 34.85L939.0 34.77L940.0 34.69L941.0 34.62L942.0 34.55L943.0 34.49" stroke="#2f5aa6" stroke-width="2.3" fill="none" stroke-linejoin="round" stroke-linecap="round" clip-path="url(#clipa)"/>
<path d="M168.0 19.05L169.0 19.12L170.0 19.23L171.0 19.35L172.0 19.47L173.0 19.60L174.0 19.74L175.0 19.89L176.0 20.04L177.0 20.19L178.0 20.35L179.0 20.51L180.0 20.68L181.0 20.85L182.0 21.03L183.0 21.21L184.0 21.40L185.0 21.60L186.0 21.82L187.0 22.04L188.0 22.28L189.0 22.51L190.0 22.76L191.0 22.99L192.0 23.23L193.0 23.46L194.0 23.68L195.0 23.90L196.0 24.11L197.0 24.32L198.0 24.54L199.0 24.76L200.0 24.98L201.0 25.20L202.0 25.41L203.0 25.62L204.0 25.83L205.0 26.03L206.0 26.22L207.0 26.41L208.0 26.57L209.0 26.73L210.0 26.87L211.0 26.99L212.0 27.10L213.0 27.19L214.0 27.27L215.0 27.34L216.0 27.41L217.0 27.47L218.0 27.53L219.0 27.58L220.0 27.63L221.0 27.67L222.0 27.71L223.0 27.74L224.0 27.77L225.0 27.80L226.0 27.82L227.0 27.84L228.0 27.85L229.0 27.86L230.0 27.88L231.0 27.89L232.0 27.90L233.0 27.91L234.0 27.92L235.0 27.93L236.0 27.94L237.0 27.95L238.0 27.97L239.0 27.98L240.0 28.00L241.0 28.03L242.0 28.06L243.0 28.09L244.0 28.13L245.0 28.17L246.0 28.22L247.0 28.27L248.0 28.32L249.0 28.38L250.0 28.45L251.0 28.51L252.0 28.58L253.0 28.65L254.0 28.72L255.0 28.80L256.0 28.88L257.0 28.95L258.0 29.04L259.0 29.12L260.0 29.20L261.0 29.29L262.0 29.39L263.0 29.49L264.0 29.60L265.0 29.71L266.0 29.83L267.0 29.96L268.0 30.09L269.0 30.22L270.0 30.36L271.0 30.51L272.0 30.66L273.0 30.82L274.0 30.98L275.0 31.14L276.0 31.31L277.0 31.48L278.0 31.65L279.0 31.82L280.0 32.01L281.0 32.20L282.0 32.40L283.0 32.62L284.0 32.86L285.0 33.10L286.0 33.35L287.0 33.62L288.0 33.89L289.0 34.16L290.0 34.43L291.0 34.71L292.0 34.99L293.0 35.27L294.0 35.54L295.0 35.80L296.0 36.06L297.0 36.31L298.0 36.55L299.0 36.78L300.0 36.99L301.0 37.19L302.0 37.38L303.0 37.56L304.0 37.73L305.0 37.90L306.0 38.06L307.0 38.21L308.0 38.37L309.0 38.52L310.0 38.67L311.0 38.82L312.0 38.98L313.0 39.14L314.0 39.31L315.0 39.48L316.0 39.66L317.0 39.86L318.0 40.06L319.0 40.28L320.0 40.52L321.0 40.80L322.0 41.11L323.0 41.47L324.0 41.86L325.0 42.28L326.0 42.73L327.0 43.20L328.0 43.67L329.0 44.16L330.0 44.64L331.0 45.11L332.0 45.57L333.0 46.01L334.0 46.42L335.0 46.79L336.0 47.13L337.0 47.42L338.0 47.66L339.0 47.84L340.0 47.97L341.0 48.07L342.0 48.15L343.0 48.22L344.0 48.29L345.0 48.35L346.0 48.40L347.0 48.44L348.0 48.46L349.0 48.48L350.0 48.46L351.0 48.38L352.0 48.24L353.0 48.03L354.0 47.78L355.0 47.50L356.0 47.22L357.0 46.97L358.0 46.76L359.0 46.62L360.0 46.55L361.0 46.54L362.0 46.57L363.0 46.63L364.0 46.71L365.0 46.81L366.0 46.92L367.0 47.05L368.0 47.19L369.0 47.35L370.0 47.54L371.0 47.78L372.0 48.10L373.0 48.48L374.0 48.94L375.0 49.43L376.0 49.95L377.0 50.49L378.0 51.01L379.0 51.51L380.0 51.98L381.0 52.44L382.0 52.89L383.0 53.33L384.0 53.78L385.0 54.21L386.0 54.64L387.0 55.06L388.0 55.45L389.0 55.83L390.0 56.20L391.0 56.55L392.0 56.91L393.0 57.28L394.0 57.65L395.0 58.01L396.0 58.38L397.0 58.73L398.0 59.06L399.0 59.37L400.0 59.66L401.0 59.92L402.0 60.14L403.0 60.32L404.0 60.45L405.0 60.53L406.0 60.57L407.0 60.58L408.0 60.56L409.0 60.52L410.0 60.47L411.0 60.41L412.0 60.34L413.0 60.26L414.0 60.17L415.0 60.08L416.0 59.98L417.0 59.88L418.0 59.78L419.0 59.68L420.0 59.59L421.0 59.49L422.0 59.40L423.0 59.29L424.0 59.18L425.0 59.06L426.0 58.93L427.0 58.80L428.0 58.68L429.0 58.56L430.0 58.45L431.0 58.35L432.0 58.28L433.0 58.24L434.0 58.23L435.0 58.26L436.0 58.34L437.0 58.45L438.0 58.60L439.0 58.78L440.0 58.98L441.0 59.19L442.0 59.43L443.0 59.69L444.0 60.01L445.0 60.37L446.0 60.78L447.0 61.21L448.0 61.67L449.0 62.13L450.0 62.61L451.0 63.10L452.0 63.61L453.0 64.15L454.0 64.70L455.0 65.27L456.0 65.84L457.0 66.42L458.0 67.00L459.0 67.58L460.0 68.15L461.0 68.73L462.0 69.32L463.0 69.91L464.0 70.50L465.0 71.10L466.0 71.71L467.0 72.32L468.0 72.94L469.0 73.57L470.0 74.21L471.0 74.85L472.0 75.51L473.0 76.17L474.0 76.84L475.0 77.52L476.0 78.21L477.0 78.90L478.0 79.60L479.0 80.30L480.0 81.01L481.0 81.74L482.0 82.50L483.0 83.27L484.0 84.06L485.0 84.84L486.0 85.62L487.0 86.37L488.0 87.09L489.0 87.77L490.0 88.39L491.0 88.97L492.0 89.50L493.0 89.99L494.0 90.47L495.0 90.93L496.0 91.37L497.0 91.79L498.0 92.20L499.0 92.60L500.0 92.98L501.0 93.35L502.0 93.71L503.0 94.06L504.0 94.40L505.0 94.74L506.0 95.07L507.0 95.40L508.0 95.72L509.0 96.03L510.0 96.33L511.0 96.63L512.0 96.93L513.0 97.22L514.0 97.50L515.0 97.78L516.0 98.05L517.0 98.32L518.0 98.59L519.0 98.85L520.0 99.10L521.0 99.36L522.0 99.61L523.0 99.85L524.0 100.10L525.0 100.34L526.0 100.59L527.0 100.83L528.0 101.07L529.0 101.31L530.0 101.55L531.0 101.80L532.0 102.04L533.0 102.28L534.0 102.53L535.0 102.77L536.0 103.02L537.0 103.27L538.0 103.52L539.0 103.78L540.0 104.03L541.0 104.29L542.0 104.55L543.0 104.82L544.0 105.09L545.0 105.36L546.0 105.62L547.0 105.89L548.0 106.15L549.0 106.41L550.0 106.66L551.0 106.90L552.0 107.14L553.0 107.37L554.0 107.59L555.0 107.80L556.0 108.00L557.0 108.19L558.0 108.36L559.0 108.53L560.0 108.68L561.0 108.82L562.0 108.96L563.0 109.09L564.0 109.21L565.0 109.31L566.0 109.41L567.0 109.50L568.0 109.57L569.0 109.63L570.0 109.67L571.0 109.70L572.0 109.71L573.0 109.71L574.0 109.69L575.0 109.65L576.0 109.59L577.0 109.52L578.0 109.43L579.0 109.32L580.0 109.20L581.0 109.08L582.0 108.94L583.0 108.79L584.0 108.62L585.0 108.43L586.0 108.23L587.0 108.01L588.0 107.78L589.0 107.54L590.0 107.28L591.0 107.01L592.0 106.72L593.0 106.42L594.0 106.11L595.0 105.79L596.0 105.46L597.0 105.12L598.0 104.77L599.0 104.41L600.0 104.04L601.0 103.67L602.0 103.29L603.0 102.90L604.0 102.51L605.0 102.12L606.0 101.72L607.0 101.32L608.0 100.92L609.0 100.52L610.0 100.12L611.0 99.71L612.0 99.31L613.0 98.91L614.0 98.51L615.0 98.10L616.0 97.70L617.0 97.31L618.0 96.91L619.0 96.51L620.0 96.12L621.0 95.73L622.0 95.33L623.0 94.95L624.0 94.56L625.0 94.17L626.0 93.79L627.0 93.41L628.0 93.03L629.0 92.65L630.0 92.27L631.0 91.90L632.0 91.53L633.0 91.16L634.0 90.79L635.0 90.43L636.0 90.07L637.0 89.71L638.0 89.35L639.0 89.00L640.0 88.64L641.0 88.29L642.0 87.95L643.0 87.60L644.0 87.26L645.0 86.92L646.0 86.58L647.0 86.25L648.0 85.91L649.0 85.58L650.0 85.25L651.0 84.93L652.0 84.60L653.0 84.28L654.0 83.96L655.0 83.64L656.0 83.32L657.0 83.00L658.0 82.69L659.0 82.38L660.0 82.06L661.0 81.75L662.0 81.44L663.0 81.13L664.0 80.83L665.0 80.52L666.0 80.21L667.0 79.91L668.0 79.61L669.0 79.30L670.0 79.00L671.0 78.70L672.0 78.40L673.0 78.09L674.0 77.79L675.0 77.49L676.0 77.19L677.0 76.89L678.0 76.59L679.0 76.29L680.0 76.00L681.0 75.70L682.0 75.40L683.0 75.10L684.0 74.80L685.0 74.50L686.0 74.20L687.0 73.89L688.0 73.59L689.0 73.29L690.0 72.99L691.0 72.69L692.0 72.38L693.0 72.08L694.0 71.77L695.0 71.47L696.0 71.16L697.0 70.86L698.0 70.55L699.0 70.24L700.0 69.94L701.0 69.63L702.0 69.32L703.0 69.02L704.0 68.71L705.0 68.40L706.0 68.10L707.0 67.79L708.0 67.49L709.0 67.19L710.0 66.89L711.0 66.60L712.0 66.30L713.0 66.01L714.0 65.72L715.0 65.44L716.0 65.15L717.0 64.88L718.0 64.60L719.0 64.33L720.0 64.07L721.0 63.80L722.0 63.55L723.0 63.29L724.0 63.04L725.0 62.80L726.0 62.56L727.0 62.32L728.0 62.09L729.0 61.86L730.0 61.63L731.0 61.41L732.0 61.19L733.0 60.97L734.0 60.76L735.0 60.55L736.0 60.35L737.0 60.14L738.0 59.94L739.0 59.75L740.0 59.55L741.0 59.36L742.0 59.17L743.0 58.98L744.0 58.79L745.0 58.61L746.0 58.43L747.0 58.25L748.0 58.08L749.0 57.90L750.0 57.73L751.0 57.56L752.0 57.39L753.0 57.22L754.0 57.05L755.0 56.88L756.0 56.72L757.0 56.56L758.0 56.39L759.0 56.23L760.0 56.07L761.0 55.91L762.0 55.75L763.0 55.59L764.0 55.43L765.0 55.27L766.0 55.12L767.0 54.96L768.0 54.80L769.0 54.64L770.0 54.48L771.0 54.33L772.0 54.17L773.0 54.01L774.0 53.85L775.0 53.69L776.0 53.53L777.0 53.37L778.0 53.21L779.0 53.05L780.0 52.90L781.0 52.74L782.0 52.58L783.0 52.42L784.0 52.26L785.0 52.10L786.0 51.93L787.0 51.77L788.0 51.61L789.0 51.45L790.0 51.29L791.0 51.13L792.0 50.97L793.0 50.81L794.0 50.64L795.0 50.48L796.0 50.32L797.0 50.16L798.0 50.00L799.0 49.84L800.0 49.67L801.0 49.51L802.0 49.35L803.0 49.19L804.0 49.03L805.0 48.87L806.0 48.71L807.0 48.55L808.0 48.39L809.0 48.24L810.0 48.08L811.0 47.93L812.0 47.77L813.0 47.62L814.0 47.47L815.0 47.32L816.0 47.17L817.0 47.03L818.0 46.88L819.0 46.74L820.0 46.59L821.0 46.45L822.0 46.31L823.0 46.18L824.0 46.04L825.0 45.91L826.0 45.77L827.0 45.64L828.0 45.51L829.0 45.38L830.0 45.26L831.0 45.13L832.0 45.00L833.0 44.88L834.0 44.76L835.0 44.64L836.0 44.52L837.0 44.40L838.0 44.28L839.0 44.16L840.0 44.04L841.0 43.92L842.0 43.81L843.0 43.69L844.0 43.58L845.0 43.46L846.0 43.35L847.0 43.24L848.0 43.13L849.0 43.01L850.0 42.90L851.0 42.79L852.0 42.68L853.0 42.57L854.0 42.46L855.0 42.35L856.0 42.24L857.0 42.13L858.0 42.02L859.0 41.91L860.0 41.80L861.0 41.70L862.0 41.59L863.0 41.48L864.0 41.37L865.0 41.26L866.0 41.15L867.0 41.04L868.0 40.93L869.0 40.83L870.0 40.72L871.0 40.61L872.0 40.50L873.0 40.39L874.0 40.28L875.0 40.17L876.0 40.06L877.0 39.95L878.0 39.83L879.0 39.72L880.0 39.61L881.0 39.50L882.0 39.39L883.0 39.28L884.0 39.16L885.0 39.05L886.0 38.94L887.0 38.83L888.0 38.71L889.0 38.60L890.0 38.49L891.0 38.38L892.0 38.26L893.0 38.15L894.0 38.04L895.0 37.92L896.0 37.81L897.0 37.70L898.0 37.58L899.0 37.47L900.0 37.36L901.0 37.24L902.0 37.13L903.0 37.02L904.0 36.90L905.0 36.79L906.0 36.68L907.0 36.56L908.0 36.45L909.0 36.34L910.0 36.22L911.0 36.11L912.0 36.00L913.0 35.88L914.0 35.77L915.0 35.66L916.0 35.55L917.0 35.43L918.0 35.32L919.0 35.21L920.0 35.10L921.0 34.99L922.0 34.87L923.0 34.76L924.0 34.65L925.0 34.54L926.0 34.44L927.0 34.33L928.0 34.22L929.0 34.12L930.0 34.02L931.0 33.91L932.0 33.82L933.0 33.72L934.0 33.63L935.0 33.54L936.0 33.45L937.0 33.37L938.0 33.29L939.0 33.21L940.0 33.14L941.0 33.07L942.0 33.01L943.0 32.95" stroke="#9a35a0" stroke-width="2.3" fill="none" stroke-linejoin="round" stroke-linecap="round" clip-path="url(#clipa)"/>
<path d="M168.0 20.84L169.0 20.91L170.0 21.01L171.0 21.12L172.0 21.24L173.0 21.37L174.0 21.50L175.0 21.65L176.0 21.80L177.0 21.96L178.0 22.12L179.0 22.29L180.0 22.46L181.0 22.64L182.0 22.82L183.0 23.01L184.0 23.21L185.0 23.43L186.0 23.66L187.0 23.90L188.0 24.16L189.0 24.42L190.0 24.69L191.0 24.96L192.0 25.22L193.0 25.49L194.0 25.75L195.0 26.00L196.0 26.26L197.0 26.52L198.0 26.79L199.0 27.06L200.0 27.35L201.0 27.63L202.0 27.91L203.0 28.19L204.0 28.46L205.0 28.72L206.0 28.97L207.0 29.21L208.0 29.43L209.0 29.63L210.0 29.81L211.0 29.96L212.0 30.08L213.0 30.19L214.0 30.27L215.0 30.34L216.0 30.40L217.0 30.45L218.0 30.50L219.0 30.54L220.0 30.59L221.0 30.63L222.0 30.67L223.0 30.71L224.0 30.76L225.0 30.80L226.0 30.85L227.0 30.90L228.0 30.94L229.0 30.99L230.0 31.04L231.0 31.08L232.0 31.13L233.0 31.17L234.0 31.22L235.0 31.27L236.0 31.31L237.0 31.36L238.0 31.41L239.0 31.45L240.0 31.50L241.0 31.55L242.0 31.59L243.0 31.64L244.0 31.68L245.0 31.72L246.0 31.76L247.0 31.81L248.0 31.85L249.0 31.89L250.0 31.93L251.0 31.98L252.0 32.03L253.0 32.07L254.0 32.13L255.0 32.18L256.0 32.24L257.0 32.30L258.0 32.36L259.0 32.43L260.0 32.51L261.0 32.59L262.0 32.68L263.0 32.77L264.0 32.88L265.0 33.00L266.0 33.12L267.0 33.25L268.0 33.39L269.0 33.54L270.0 33.69L271.0 33.85L272.0 34.02L273.0 34.19L274.0 34.36L275.0 34.54L276.0 34.73L277.0 34.92L278.0 35.11L279.0 35.31L280.0 35.51L281.0 35.73L282.0 35.97L283.0 36.23L284.0 36.51L285.0 36.80L286.0 37.11L287.0 37.44L288.0 37.77L289.0 38.11L290.0 38.45L291.0 38.79L292.0 39.13L293.0 39.47L294.0 39.80L295.0 40.12L296.0 40.43L297.0 40.72L298.0 41.00L299.0 41.25L300.0 41.49L301.0 41.70L302.0 41.90L303.0 42.09L304.0 42.26L305.0 42.43L306.0 42.59L307.0 42.74L308.0 42.89L309.0 43.04L310.0 43.18L311.0 43.33L312.0 43.48L313.0 43.64L314.0 43.80L315.0 43.97L316.0 44.15L317.0 44.34L318.0 44.55L319.0 44.78L320.0 45.03L321.0 45.31L322.0 45.65L323.0 46.03L324.0 46.45L325.0 46.90L326.0 47.39L327.0 47.90L328.0 48.42L329.0 48.95L330.0 49.49L331.0 50.02L332.0 50.53L333.0 51.03L334.0 51.51L335.0 51.95L336.0 52.35L337.0 52.71L338.0 53.02L339.0 53.27L340.0 53.47L341.0 53.64L342.0 53.79L343.0 53.93L344.0 54.06L345.0 54.18L346.0 54.28L347.0 54.36L348.0 54.43L349.0 54.46L350.0 54.47L351.0 54.43L352.0 54.34L353.0 54.21L354.0 54.04L355.0 53.84L356.0 53.61L357.0 53.37L358.0 53.13L359.0 52.89L360.0 52.66L361.0 52.46L362.0 52.29L363.0 52.16L364.0 52.07L365.0 52.04L366.0 52.05L367.0 52.11L368.0 52.20L369.0 52.33L370.0 52.48L371.0 52.66L372.0 52.86L373.0 53.06L374.0 53.28L375.0 53.52L376.0 53.80L377.0 54.12L378.0 54.49L379.0 54.91L380.0 55.37L381.0 55.86L382.0 56.37L383.0 56.91L384.0 57.46L385.0 58.04L386.0 58.66L387.0 59.34L388.0 60.06L389.0 60.80L390.0 61.51L391.0 62.16L392.0 62.74L393.0 63.24L394.0 63.69L395.0 64.10L396.0 64.48L397.0 64.86L398.0 65.23L399.0 65.62L400.0 66.05L401.0 66.53L402.0 67.05L403.0 67.56L404.0 68.01L405.0 68.33L406.0 68.51L407.0 68.58L408.0 68.60L409.0 68.60L410.0 68.60L411.0 68.60L412.0 68.60L413.0 68.60L414.0 68.60L415.0 68.60L416.0 68.60L417.0 68.59L418.0 68.57L419.0 68.50L420.0 68.37L421.0 68.17L422.0 67.92L423.0 67.62L424.0 67.30L425.0 66.95L426.0 66.60L427.0 66.26L428.0 65.95L429.0 65.67L430.0 65.42L431.0 65.19L432.0 64.96L433.0 64.74L434.0 64.52L435.0 64.31L436.0 64.10L437.0 63.92L438.0 63.76L439.0 63.62L440.0 63.52L441.0 63.46L442.0 63.43L443.0 63.46L444.0 63.53L445.0 63.64L446.0 63.79L447.0 63.97L448.0 64.17L449.0 64.39L450.0 64.64L451.0 64.94L452.0 65.32L453.0 65.77L454.0 66.28L455.0 66.83L456.0 67.41L457.0 68.01L458.0 68.62L459.0 69.26L460.0 69.95L461.0 70.68L462.0 71.44L463.0 72.23L464.0 73.04L465.0 73.84L466.0 74.62L467.0 75.38L468.0 76.09L469.0 76.75L470.0 77.36L471.0 77.91L472.0 78.42L473.0 78.90L474.0 79.36L475.0 79.80L476.0 80.24L477.0 80.67L478.0 81.10L479.0 81.55L480.0 82.02L481.0 82.51L482.0 83.02L483.0 83.54L484.0 84.08L485.0 84.61L486.0 85.14L487.0 85.65L488.0 86.14L489.0 86.59L490.0 87.00L491.0 87.38L492.0 87.72L493.0 88.04L494.0 88.35L495.0 88.65L496.0 88.94L497.0 89.22L498.0 89.48L499.0 89.73L500.0 89.98L501.0 90.21L502.0 90.43L503.0 90.65L504.0 90.85L505.0 91.04L506.0 91.22L507.0 91.40L508.0 91.57L509.0 91.73L510.0 91.90L511.0 92.06L512.0 92.22L513.0 92.38L514.0 92.53L515.0 92.68L516.0 92.83L517.0 92.97L518.0 93.11L519.0 93.24L520.0 93.37L521.0 93.49L522.0 93.60L523.0 93.70L524.0 93.80L525.0 93.89L526.0 93.97L527.0 94.04L528.0 94.10L529.0 94.15L530.0 94.20L531.0 94.23L532.0 94.26L533.0 94.29L534.0 94.31L535.0 94.33L536.0 94.34L537.0 94.35L538.0 94.35L539.0 94.34L540.0 94.33L541.0 94.30L542.0 94.25L543.0 94.19L544.0 94.12L545.0 94.03L546.0 93.93L547.0 93.83L548.0 93.71L549.0 93.58L550.0 93.45L551.0 93.31L552.0 93.17L553.0 93.02L554.0 92.87L555.0 92.71L556.0 92.56L557.0 92.40L558.0 92.24L559.0 92.08L560.0 91.91L561.0 91.74L562.0 91.57L563.0 91.40L564.0 91.22L565.0 91.03L566.0 90.84L567.0 90.65L568.0 90.45L569.0 90.25L570.0 90.04L571.0 89.82L572.0 89.60L573.0 89.38L574.0 89.15L575.0 88.91L576.0 88.67L577.0 88.42L578.0 88.17L579.0 87.91L580.0 87.65L581.0 87.38L582.0 87.11L583.0 86.83L584.0 86.55L585.0 86.26L586.0 85.97L587.0 85.68L588.0 85.37L589.0 85.07L590.0 84.76L591.0 84.45L592.0 84.13L593.0 83.82L594.0 83.50L595.0 83.17L596.0 82.85L597.0 82.52L598.0 82.20L599.0 81.87L600.0 81.54L601.0 81.21L602.0 80.89L603.0 80.56L604.0 80.23L605.0 79.90L606.0 79.57L607.0 79.24L608.0 78.91L609.0 78.58L610.0 78.26L611.0 77.93L612.0 77.60L613.0 77.27L614.0 76.94L615.0 76.62L616.0 76.29L617.0 75.96L618.0 75.63L619.0 75.31L620.0 74.98L621.0 74.65L622.0 74.33L623.0 74.00L624.0 73.68L625.0 73.35L626.0 73.03L627.0 72.71L628.0 72.39L629.0 72.07L630.0 71.75L631.0 71.44L632.0 71.13L633.0 70.82L634.0 70.51L635.0 70.21L636.0 69.91L637.0 69.61L638.0 69.31L639.0 69.02L640.0 68.73L641.0 68.45L642.0 68.17L643.0 67.89L644.0 67.61L645.0 67.34L646.0 67.07L647.0 66.80L648.0 66.53L649.0 66.27L650.0 66.00L651.0 65.74L652.0 65.48L653.0 65.22L654.0 64.96L655.0 64.70L656.0 64.44L657.0 64.18L658.0 63.92L659.0 63.65L660.0 63.39L661.0 63.13L662.0 62.87L663.0 62.60L664.0 62.34L665.0 62.07L666.0 61.81L667.0 61.54L668.0 61.28L669.0 61.01L670.0 60.74L671.0 60.48L672.0 60.22L673.0 59.95L674.0 59.69L675.0 59.43L676.0 59.17L677.0 58.92L678.0 58.66L679.0 58.41L680.0 58.16L681.0 57.91L682.0 57.66L683.0 57.41L684.0 57.17L685.0 56.93L686.0 56.69L687.0 56.45L688.0 56.22L689.0 55.98L690.0 55.75L691.0 55.52L692.0 55.29L693.0 55.07L694.0 54.84L695.0 54.61L696.0 54.39L697.0 54.16L698.0 53.94L699.0 53.72L700.0 53.50L701.0 53.28L702.0 53.06L703.0 52.84L704.0 52.62L705.0 52.41L706.0 52.19L707.0 51.98L708.0 51.76L709.0 51.55L710.0 51.35L711.0 51.14L712.0 50.93L713.0 50.73L714.0 50.53L715.0 50.33L716.0 50.14L717.0 49.95L718.0 49.76L719.0 49.57L720.0 49.39L721.0 49.21L722.0 49.03L723.0 48.86L724.0 48.68L725.0 48.51L726.0 48.35L727.0 48.18L728.0 48.02L729.0 47.86L730.0 47.71L731.0 47.55L732.0 47.40L733.0 47.24L734.0 47.09L735.0 46.94L736.0 46.80L737.0 46.65L738.0 46.50L739.0 46.36L740.0 46.21L741.0 46.07L742.0 45.93L743.0 45.79L744.0 45.64L745.0 45.50L746.0 45.36L747.0 45.22L748.0 45.08L749.0 44.94L750.0 44.80L751.0 44.65L752.0 44.51L753.0 44.37L754.0 44.23L755.0 44.09L756.0 43.95L757.0 43.81L758.0 43.67L759.0 43.53L760.0 43.39L761.0 43.25L762.0 43.11L763.0 42.97L764.0 42.83L765.0 42.69L766.0 42.55L767.0 42.41L768.0 42.27L769.0 42.13L770.0 41.99L771.0 41.85L772.0 41.71L773.0 41.57L774.0 41.43L775.0 41.29L776.0 41.15L777.0 41.01L778.0 40.87L779.0 40.73L780.0 40.59L781.0 40.45L782.0 40.31L783.0 40.17L784.0 40.03L785.0 39.90L786.0 39.76L787.0 39.62L788.0 39.48L789.0 39.34L790.0 39.20L791.0 39.06L792.0 38.92L793.0 38.79L794.0 38.65L795.0 38.51L796.0 38.37L797.0 38.24L798.0 38.10L799.0 37.97L800.0 37.83L801.0 37.69L802.0 37.56L803.0 37.43L804.0 37.29L805.0 37.16L806.0 37.03L807.0 36.89L808.0 36.76L809.0 36.63L810.0 36.50L811.0 36.37L812.0 36.25L813.0 36.12L814.0 35.99L815.0 35.87L816.0 35.74L817.0 35.62L818.0 35.50L819.0 35.37L820.0 35.25L821.0 35.13L822.0 35.01L823.0 34.90L824.0 34.78L825.0 34.66L826.0 34.55L827.0 34.43L828.0 34.32L829.0 34.20L830.0 34.09L831.0 33.98L832.0 33.87L833.0 33.76L834.0 33.65L835.0 33.54L836.0 33.43L837.0 33.32L838.0 33.22L839.0 33.11L840.0 33.00L841.0 32.90L842.0 32.79L843.0 32.69L844.0 32.58L845.0 32.48L846.0 32.37L847.0 32.27L848.0 32.17L849.0 32.07L850.0 31.96L851.0 31.86L852.0 31.76L853.0 31.66L854.0 31.56L855.0 31.46L856.0 31.36L857.0 31.26L858.0 31.16L859.0 31.06L860.0 30.96L861.0 30.86L862.0 30.76L863.0 30.66L864.0 30.56L865.0 30.46L866.0 30.37L867.0 30.27L868.0 30.17L869.0 30.07L870.0 29.97L871.0 29.88L872.0 29.78L873.0 29.68L874.0 29.58L875.0 29.48L876.0 29.39L877.0 29.29L878.0 29.19L879.0 29.09L880.0 29.00L881.0 28.90L882.0 28.80L883.0 28.70L884.0 28.61L885.0 28.51L886.0 28.41L887.0 28.32L888.0 28.22L889.0 28.12L890.0 28.03L891.0 27.93L892.0 27.83L893.0 27.74L894.0 27.64L895.0 27.54L896.0 27.45L897.0 27.35L898.0 27.26L899.0 27.16L900.0 27.07L901.0 26.97L902.0 26.88L903.0 26.78L904.0 26.69L905.0 26.59L906.0 26.50L907.0 26.40L908.0 26.31L909.0 26.21L910.0 26.12L911.0 26.03L912.0 25.93L913.0 25.84L914.0 25.75L915.0 25.65L916.0 25.56L917.0 25.47L918.0 25.38L919.0 25.28L920.0 25.19L921.0 25.10L922.0 25.01L923.0 24.92L924.0 24.83L925.0 24.74L926.0 24.65L927.0 24.57L928.0 24.48L929.0 24.40L930.0 24.31L931.0 24.23L932.0 24.15L933.0 24.08L934.0 24.00L935.0 23.93L936.0 23.86L937.0 23.79L938.0 23.73L939.0 23.67L940.0 23.61L941.0 23.55L942.0 23.50L943.0 23.46" stroke="#de4f36" stroke-width="2.3" fill="none" stroke-linejoin="round" stroke-linecap="round" clip-path="url(#clipa)"/>
<path d="M168.0 22.89L169.0 23.02L170.0 23.20L171.0 23.39L172.0 23.60L173.0 23.80L174.0 24.01L175.0 24.22L176.0 24.44L177.0 24.65L178.0 24.87L179.0 25.09L180.0 25.32L181.0 25.54L182.0 25.77L183.0 26.00L184.0 26.24L185.0 26.47L186.0 26.71L187.0 26.95L188.0 27.20L189.0 27.45L190.0 27.70L191.0 27.96L192.0 28.21L193.0 28.47L194.0 28.74L195.0 29.01L196.0 29.29L197.0 29.59L198.0 29.90L199.0 30.22L200.0 30.56L201.0 30.89L202.0 31.24L203.0 31.58L204.0 31.91L205.0 32.24L206.0 32.56L207.0 32.86L208.0 33.15L209.0 33.41L210.0 33.65L211.0 33.85L212.0 34.03L213.0 34.18L214.0 34.31L215.0 34.42L216.0 34.51L217.0 34.60L218.0 34.68L219.0 34.76L220.0 34.83L221.0 34.90L222.0 34.97L223.0 35.05L224.0 35.12L225.0 35.20L226.0 35.29L227.0 35.37L228.0 35.46L229.0 35.55L230.0 35.64L231.0 35.73L232.0 35.82L233.0 35.91L234.0 36.00L235.0 36.09L236.0 36.18L237.0 36.26L238.0 36.34L239.0 36.42L240.0 36.50L241.0 36.57L242.0 36.64L243.0 36.71L244.0 36.77L245.0 36.83L246.0 36.89L247.0 36.95L248.0 37.00L249.0 37.06L250.0 37.12L251.0 37.18L252.0 37.23L253.0 37.29L254.0 37.36L255.0 37.42L256.0 37.49L257.0 37.56L258.0 37.64L259.0 37.72L260.0 37.80L261.0 37.89L262.0 37.99L263.0 38.09L264.0 38.19L265.0 38.30L266.0 38.41L267.0 38.53L268.0 38.65L269.0 38.78L270.0 38.91L271.0 39.04L272.0 39.19L273.0 39.33L274.0 39.48L275.0 39.64L276.0 39.80L277.0 39.97L278.0 40.14L279.0 40.32L280.0 40.51L281.0 40.72L282.0 40.95L283.0 41.20L284.0 41.47L285.0 41.77L286.0 42.07L287.0 42.40L288.0 42.73L289.0 43.07L290.0 43.41L291.0 43.76L292.0 44.11L293.0 44.45L294.0 44.78L295.0 45.11L296.0 45.42L297.0 45.71L298.0 45.99L299.0 46.25L300.0 46.48L301.0 46.70L302.0 46.90L303.0 47.08L304.0 47.24L305.0 47.40L306.0 47.55L307.0 47.69L308.0 47.83L309.0 47.97L310.0 48.11L311.0 48.25L312.0 48.40L313.0 48.55L314.0 48.71L315.0 48.89L316.0 49.08L317.0 49.28L318.0 49.51L319.0 49.76L320.0 50.05L321.0 50.40L322.0 50.84L323.0 51.36L324.0 51.95L325.0 52.60L326.0 53.29L327.0 54.01L328.0 54.75L329.0 55.48L330.0 56.19L331.0 56.86L332.0 57.49L333.0 58.05L334.0 58.54L335.0 58.97L336.0 59.34L337.0 59.69L338.0 60.03L339.0 60.36L340.0 60.65L341.0 60.92L342.0 61.14L343.0 61.31L344.0 61.41L345.0 61.45L346.0 61.42L347.0 61.33L348.0 61.19L349.0 61.01L350.0 60.79L351.0 60.54L352.0 60.28L353.0 60.00L354.0 59.73L355.0 59.46L356.0 59.21L357.0 58.98L358.0 58.79L359.0 58.64L360.0 58.52L361.0 58.43L362.0 58.35L363.0 58.28L364.0 58.22L365.0 58.16L366.0 58.11L367.0 58.07L368.0 58.04L369.0 58.02L370.0 58.04L371.0 58.11L372.0 58.25L373.0 58.46L374.0 58.74L375.0 59.07L376.0 59.43L377.0 59.82L378.0 60.21L379.0 60.61L380.0 61.01L381.0 61.42L382.0 61.85L383.0 62.32L384.0 62.80L385.0 63.31L386.0 63.82L387.0 64.33L388.0 64.83L389.0 65.32L390.0 65.78L391.0 66.22L392.0 66.64L393.0 67.05L394.0 67.45L395.0 67.85L396.0 68.26L397.0 68.67L398.0 69.10L399.0 69.55L400.0 70.05L401.0 70.61L402.0 71.22L403.0 71.85L404.0 72.44L405.0 72.94L406.0 73.32L407.0 73.61L408.0 73.85L409.0 74.05L410.0 74.22L411.0 74.37L412.0 74.47L413.0 74.54L414.0 74.55L415.0 74.50L416.0 74.39L417.0 74.20L418.0 73.96L419.0 73.66L420.0 73.33L421.0 72.96L422.0 72.57L423.0 72.18L424.0 71.78L425.0 71.38L426.0 70.99L427.0 70.57L428.0 70.12L429.0 69.64L430.0 69.13L431.0 68.60L432.0 68.07L433.0 67.54L434.0 67.04L435.0 66.56L436.0 66.13L437.0 65.75L438.0 65.42L439.0 65.13L440.0 64.85L441.0 64.59L442.0 64.35L443.0 64.15L444.0 63.99L445.0 63.89L446.0 63.85L447.0 63.88L448.0 63.98L449.0 64.13L450.0 64.31L451.0 64.53L452.0 64.75L453.0 64.98L454.0 65.20L455.0 65.42L456.0 65.65L457.0 65.89L458.0 66.14L459.0 66.41L460.0 66.67L461.0 66.95L462.0 67.23L463.0 67.50L464.0 67.78L465.0 68.05L466.0 68.32L467.0 68.58L468.0 68.83L469.0 69.07L470.0 69.29L471.0 69.51L472.0 69.71L473.0 69.91L474.0 70.10L475.0 70.29L476.0 70.48L477.0 70.66L478.0 70.84L479.0 71.02L480.0 71.20L481.0 71.39L482.0 71.58L483.0 71.78L484.0 71.99L485.0 72.20L486.0 72.42L487.0 72.64L488.0 72.86L489.0 73.08L490.0 73.30L491.0 73.52L492.0 73.74L493.0 73.95L494.0 74.15L495.0 74.35L496.0 74.54L497.0 74.72L498.0 74.88L499.0 75.04L500.0 75.18L501.0 75.31L502.0 75.42L503.0 75.51L504.0 75.58L505.0 75.64L506.0 75.67L507.0 75.69L508.0 75.70L509.0 75.70L510.0 75.70L511.0 75.70L512.0 75.70L513.0 75.70L514.0 75.70L515.0 75.70L516.0 75.70L517.0 75.70L518.0 75.70L519.0 75.70L520.0 75.70L521.0 75.69L522.0 75.69L523.0 75.67L524.0 75.64L525.0 75.60L526.0 75.54L527.0 75.46L528.0 75.36L529.0 75.25L530.0 75.12L531.0 74.99L532.0 74.85L533.0 74.70L534.0 74.54L535.0 74.38L536.0 74.21L537.0 74.04L538.0 73.87L539.0 73.69L540.0 73.50L541.0 73.30L542.0 73.08L543.0 72.86L544.0 72.64L545.0 72.44L546.0 72.24L547.0 72.05L548.0 71.87L549.0 71.69L550.0 71.51L551.0 71.33L552.0 71.16L553.0 70.99L554.0 70.82L555.0 70.65L556.0 70.48L557.0 70.32L558.0 70.16L559.0 69.99L560.0 69.83L561.0 69.67L562.0 69.51L563.0 69.35L564.0 69.19L565.0 69.03L566.0 68.86L567.0 68.70L568.0 68.54L569.0 68.37L570.0 68.20L571.0 68.03L572.0 67.86L573.0 67.69L574.0 67.51L575.0 67.33L576.0 67.15L577.0 66.96L578.0 66.77L579.0 66.57L580.0 66.38L581.0 66.18L582.0 65.97L583.0 65.77L584.0 65.55L585.0 65.34L586.0 65.12L587.0 64.90L588.0 64.67L589.0 64.44L590.0 64.20L591.0 63.96L592.0 63.71L593.0 63.47L594.0 63.22L595.0 62.96L596.0 62.70L597.0 62.44L598.0 62.18L599.0 61.91L600.0 61.64L601.0 61.37L602.0 61.10L603.0 60.83L604.0 60.56L605.0 60.28L606.0 60.01L607.0 59.73L608.0 59.46L609.0 59.19L610.0 58.91L611.0 58.64L612.0 58.37L613.0 58.10L614.0 57.82L615.0 57.56L616.0 57.29L617.0 57.02L618.0 56.75L619.0 56.49L620.0 56.23L621.0 55.96L622.0 55.70L623.0 55.44L624.0 55.19L625.0 54.93L626.0 54.67L627.0 54.42L628.0 54.16L629.0 53.91L630.0 53.66L631.0 53.41L632.0 53.16L633.0 52.91L634.0 52.66L635.0 52.42L636.0 52.17L637.0 51.93L638.0 51.68L639.0 51.44L640.0 51.20L641.0 50.95L642.0 50.71L643.0 50.47L644.0 50.23L645.0 50.00L646.0 49.76L647.0 49.52L648.0 49.29L649.0 49.06L650.0 48.82L651.0 48.59L652.0 48.36L653.0 48.13L654.0 47.90L655.0 47.68L656.0 47.45L657.0 47.23L658.0 47.01L659.0 46.79L660.0 46.57L661.0 46.36L662.0 46.14L663.0 45.93L664.0 45.72L665.0 45.52L666.0 45.31L667.0 45.11L668.0 44.91L669.0 44.72L670.0 44.52L671.0 44.33L672.0 44.14L673.0 43.95L674.0 43.77L675.0 43.59L676.0 43.41L677.0 43.23L678.0 43.06L679.0 42.88L680.0 42.71L681.0 42.55L682.0 42.38L683.0 42.21L684.0 42.05L685.0 41.89L686.0 41.73L687.0 41.57L688.0 41.41L689.0 41.26L690.0 41.11L691.0 40.95L692.0 40.80L693.0 40.65L694.0 40.50L695.0 40.35L696.0 40.21L697.0 40.06L698.0 39.91L699.0 39.77L700.0 39.62L701.0 39.48L702.0 39.34L703.0 39.19L704.0 39.05L705.0 38.91L706.0 38.77L707.0 38.62L708.0 38.48L709.0 38.34L710.0 38.20L711.0 38.06L712.0 37.92L713.0 37.78L714.0 37.64L715.0 37.50L716.0 37.36L717.0 37.21L718.0 37.07L719.0 36.93L720.0 36.79L721.0 36.65L722.0 36.51L723.0 36.37L724.0 36.22L725.0 36.08L726.0 35.94L727.0 35.80L728.0 35.66L729.0 35.52L730.0 35.37L731.0 35.23L732.0 35.09L733.0 34.95L734.0 34.81L735.0 34.67L736.0 34.53L737.0 34.39L738.0 34.25L739.0 34.11L740.0 33.97L741.0 33.83L742.0 33.69L743.0 33.55L744.0 33.41L745.0 33.28L746.0 33.14L747.0 33.00L748.0 32.87L749.0 32.73L750.0 32.60L751.0 32.46L752.0 32.33L753.0 32.19L754.0 32.06L755.0 31.93L756.0 31.80L757.0 31.67L758.0 31.54L759.0 31.41L760.0 31.28L761.0 31.15L762.0 31.03L763.0 30.90L764.0 30.78L765.0 30.65L766.0 30.53L767.0 30.40L768.0 30.28L769.0 30.16L770.0 30.04L771.0 29.92L772.0 29.80L773.0 29.68L774.0 29.57L775.0 29.45L776.0 29.33L777.0 29.22L778.0 29.10L779.0 28.99L780.0 28.88L781.0 28.76L782.0 28.65L783.0 28.54L784.0 28.43L785.0 28.32L786.0 28.21L787.0 28.10L788.0 27.99L789.0 27.88L790.0 27.77L791.0 27.67L792.0 27.56L793.0 27.45L794.0 27.35L795.0 27.24L796.0 27.14L797.0 27.03L798.0 26.93L799.0 26.82L800.0 26.72L801.0 26.62L802.0 26.52L803.0 26.41L804.0 26.31L805.0 26.21L806.0 26.11L807.0 26.01L808.0 25.90L809.0 25.80L810.0 25.70L811.0 25.60L812.0 25.50L813.0 25.40L814.0 25.30L815.0 25.20L816.0 25.10L817.0 25.01L818.0 24.91L819.0 24.81L820.0 24.71L821.0 24.61L822.0 24.51L823.0 24.42L824.0 24.32L825.0 24.22L826.0 24.12L827.0 24.03L828.0 23.93L829.0 23.83L830.0 23.74L831.0 23.64L832.0 23.55L833.0 23.45L834.0 23.35L835.0 23.26L836.0 23.16L837.0 23.07L838.0 22.98L839.0 22.88L840.0 22.79L841.0 22.69L842.0 22.60L843.0 22.51L844.0 22.41L845.0 22.32L846.0 22.23L847.0 22.13L848.0 22.04L849.0 21.95L850.0 21.86L851.0 21.77L852.0 21.67L853.0 21.58L854.0 21.49L855.0 21.40L856.0 21.31L857.0 21.22L858.0 21.13L859.0 21.04L860.0 20.95L861.0 20.86L862.0 20.77L863.0 20.68L864.0 20.59L865.0 20.50L866.0 20.41L867.0 20.32L868.0 20.23L869.0 20.15L870.0 20.06L871.0 19.97L872.0 19.88L873.0 19.79L874.0 19.70L875.0 19.62L876.0 19.53L877.0 19.44L878.0 19.35L879.0 19.27L880.0 19.18L881.0 19.09L882.0 19.01L883.0 18.92L884.0 18.83L885.0 18.75L886.0 18.66L887.0 18.58L888.0 18.49L889.0 18.40L890.0 18.32L891.0 18.23L892.0 18.15L893.0 18.06L894.0 17.98L895.0 17.89L896.0 17.81L897.0 17.72L898.0 17.64L899.0 17.56L900.0 17.47L901.0 17.39L902.0 17.30L903.0 17.22L904.0 17.14L905.0 17.05L906.0 16.97L907.0 16.89L908.0 16.81L909.0 16.72L910.0 16.64L911.0 16.56L912.0 16.48L913.0 16.39L914.0 16.31L915.0 16.23L916.0 16.15L917.0 16.07L918.0 15.99L919.0 15.91L920.0 15.83L921.0 15.75L922.0 15.67L923.0 15.59L924.0 15.51L925.0 15.43L926.0 15.36L927.0 15.28L928.0 15.20L929.0 15.13L930.0 15.06L931.0 14.99L932.0 14.92L933.0 14.85L934.0 14.78L935.0 14.72L936.0 14.66L937.0 14.60L938.0 14.55L939.0 14.49L940.0 14.44L941.0 14.40L942.0 14.35L943.0 14.31" stroke="#eca83a" stroke-width="2.3" fill="none" stroke-linejoin="round" stroke-linecap="round" clip-path="url(#clipa)"/>
<path d="M168.0 472.93L169.0 472.83L170.0 472.70L171.0 472.57L172.0 472.43L173.0 472.31L174.0 472.19L175.0 472.07L176.0 471.96L177.0 471.86L178.0 471.76L179.0 471.67L180.0 471.58L181.0 471.50L182.0 471.43L183.0 471.36L184.0 471.29L185.0 471.23L186.0 471.17L187.0 471.12L188.0 471.07L189.0 471.03L190.0 470.99L191.0 470.96L192.0 470.93L193.0 470.90L194.0 470.88L195.0 470.86L196.0 470.84L197.0 470.82L198.0 470.81L199.0 470.81L200.0 470.80L201.0 470.81L202.0 470.82L203.0 470.85L204.0 470.90L205.0 470.97L206.0 471.04L207.0 471.14L208.0 471.24L209.0 471.35L210.0 471.47L211.0 471.59L212.0 471.72L213.0 471.85L214.0 471.98L215.0 472.11L216.0 472.23L217.0 472.35L218.0 472.46L219.0 472.56L220.0 472.66L221.0 472.73L222.0 472.80L223.0 472.85L224.0 472.88L225.0 472.89L226.0 472.90L227.0 472.90L228.0 472.90L229.0 472.90L230.0 472.90L231.0 472.90L232.0 472.90L233.0 472.90L234.0 472.90L235.0 472.90L236.0 472.90L237.0 472.90L238.0 472.90L239.0 472.90L240.0 472.90L241.0 472.90L242.0 472.90L243.0 472.90L244.0 472.90L245.0 472.90L246.0 472.90L247.0 472.90L248.0 472.90L249.0 472.90L250.0 472.90L251.0 472.90L252.0 472.90L253.0 472.90L254.0 472.90L255.0 472.90L256.0 472.88L257.0 472.86L258.0 472.83L259.0 472.79L260.0 472.73L261.0 472.67L262.0 472.59L263.0 472.51L264.0 472.42L265.0 472.32L266.0 472.22L267.0 472.11L268.0 472.00L269.0 471.88L270.0 471.76L271.0 471.64L272.0 471.52L273.0 471.39L274.0 471.27L275.0 471.15L276.0 471.03L277.0 470.92L278.0 470.81L279.0 470.70L280.0 470.60L281.0 470.51L282.0 470.42L283.0 470.34L284.0 470.27L285.0 470.20L286.0 470.14L287.0 470.09L288.0 470.03L289.0 469.97L290.0 469.92L291.0 469.86L292.0 469.80L293.0 469.75L294.0 469.69L295.0 469.64L296.0 469.58L297.0 469.53L298.0 469.47L299.0 469.42L300.0 469.37L301.0 469.31L302.0 469.26L303.0 469.21L304.0 469.17L305.0 469.12L306.0 469.07L307.0 469.03L308.0 468.98L309.0 468.94L310.0 468.90L311.0 468.86L312.0 468.82L313.0 468.79L314.0 468.75L315.0 468.72L316.0 468.69L317.0 468.66L318.0 468.63L319.0 468.61L320.0 468.59L321.0 468.57L322.0 468.55L323.0 468.54L324.0 468.52L325.0 468.51L326.0 468.51L327.0 468.51L328.0 468.51L329.0 468.53L330.0 468.57L331.0 468.62L332.0 468.70L333.0 468.80L334.0 468.91L335.0 469.04L336.0 469.18L337.0 469.34L338.0 469.50L339.0 469.66L340.0 469.84L341.0 470.01L342.0 470.19L343.0 470.36L344.0 470.54L345.0 470.70L346.0 470.86L347.0 471.02L348.0 471.16L349.0 471.29L350.0 471.40L351.0 471.50L352.0 471.58L353.0 471.63L354.0 471.67L355.0 471.68L356.0 471.67L357.0 471.64L358.0 471.59L359.0 471.53L360.0 471.44L361.0 471.34L362.0 471.23L363.0 471.10L364.0 470.97L365.0 470.82L366.0 470.66L367.0 470.50L368.0 470.32L369.0 470.15L370.0 469.97L371.0 469.78L372.0 469.60L373.0 469.42L374.0 469.23L375.0 469.05L376.0 468.88L377.0 468.70L378.0 468.54L379.0 468.38L380.0 468.23L381.0 468.10L382.0 467.97L383.0 467.86L384.0 467.76L385.0 467.67L386.0 467.61L387.0 467.56L388.0 467.53L389.0 467.52L390.0 467.54L391.0 467.59L392.0 467.68L393.0 467.79L394.0 467.92L395.0 468.08L396.0 468.26L397.0 468.46L398.0 468.68L399.0 468.90L400.0 469.14L401.0 469.38L402.0 469.63L403.0 469.87L404.0 470.12L405.0 470.36L406.0 470.60L407.0 470.82L408.0 471.04L409.0 471.24L410.0 471.42L411.0 471.58L412.0 471.71L413.0 471.82L414.0 471.91L415.0 471.96L416.0 471.98L417.0 471.97L418.0 471.93L419.0 471.86L420.0 471.77L421.0 471.66L422.0 471.53L423.0 471.38L424.0 471.20L425.0 471.02L426.0 470.81L427.0 470.60L428.0 470.37L429.0 470.13L430.0 469.88L431.0 469.62L432.0 469.36L433.0 469.09L434.0 468.82L435.0 468.54L436.0 468.26L437.0 467.98L438.0 467.70L439.0 467.42L440.0 467.13L441.0 466.81L442.0 466.46L443.0 466.08L444.0 465.67L445.0 465.25L446.0 464.83L447.0 464.40L448.0 463.99L449.0 463.61L450.0 463.25L451.0 462.92L452.0 462.64L453.0 462.41L454.0 462.24L455.0 462.12L456.0 462.05L457.0 462.02L458.0 462.04L459.0 462.08L460.0 462.15L461.0 462.24L462.0 462.35L463.0 462.49L464.0 462.64L465.0 462.80L466.0 462.98L467.0 463.16L468.0 463.36L469.0 463.56L470.0 463.77L471.0 463.98L472.0 464.19L473.0 464.41L474.0 464.63L475.0 464.85L476.0 465.08L477.0 465.31L478.0 465.55L479.0 465.79L480.0 466.04L481.0 466.28L482.0 466.53L483.0 466.78L484.0 467.03L485.0 467.28L486.0 467.53L487.0 467.78L488.0 468.02L489.0 468.26L490.0 468.49L491.0 468.72L492.0 468.94L493.0 469.15L494.0 469.35L495.0 469.55L496.0 469.73L497.0 469.91L498.0 470.07L499.0 470.23L500.0 470.38L501.0 470.52L502.0 470.66L503.0 470.79L504.0 470.91L505.0 471.03L506.0 471.14L507.0 471.25L508.0 471.36L509.0 471.46L510.0 471.56L511.0 471.65L512.0 471.74L513.0 471.83L514.0 471.92L515.0 472.00L516.0 472.08L517.0 472.15L518.0 472.22L519.0 472.29L520.0 472.35L521.0 472.41L522.0 472.46L523.0 472.51L524.0 472.55L525.0 472.59L526.0 472.63L527.0 472.66L528.0 472.69L529.0 472.71L530.0 472.73L531.0 472.74L532.0 472.76L533.0 472.77L534.0 472.78L535.0 472.78L536.0 472.79L537.0 472.79L538.0 472.79L539.0 472.80L540.0 472.80L541.0 472.80L542.0 472.80L543.0 472.80L544.0 472.80L545.0 472.80L546.0 472.80L547.0 472.80L548.0 472.80L549.0 472.80L550.0 472.80L551.0 472.80L552.0 472.80L553.0 472.80L554.0 472.79L555.0 472.79L556.0 472.79L557.0 472.78L558.0 472.77L559.0 472.76L560.0 472.75L561.0 472.73L562.0 472.71L563.0 472.68L564.0 472.64L565.0 472.60L566.0 472.55L567.0 472.50L568.0 472.44L569.0 472.36L570.0 472.28L571.0 472.20L572.0 472.10L573.0 472.00L574.0 471.89L575.0 471.77L576.0 471.65L577.0 471.52L578.0 471.39L579.0 471.26L580.0 471.12L581.0 470.99L582.0 470.85L583.0 470.71L584.0 470.57L585.0 470.43L586.0 470.29L587.0 470.15L588.0 470.02L589.0 469.88L590.0 469.75L591.0 469.62L592.0 469.49L593.0 469.36L594.0 469.23L595.0 469.10L596.0 468.98L597.0 468.85L598.0 468.72L599.0 468.59L600.0 468.45L601.0 468.31L602.0 468.17L603.0 468.02L604.0 467.87L605.0 467.71L606.0 467.55L607.0 467.38L608.0 467.20L609.0 467.01L610.0 466.81L611.0 466.60L612.0 466.38L613.0 466.15L614.0 465.91L615.0 465.66L616.0 465.40L617.0 465.13L618.0 464.84L619.0 464.55L620.0 464.24L621.0 463.92L622.0 463.60L623.0 463.26L624.0 462.91L625.0 462.56L626.0 462.19L627.0 461.81L628.0 461.42L629.0 461.02L630.0 460.61L631.0 460.18L632.0 459.75L633.0 459.30L634.0 458.83L635.0 458.36L636.0 457.86L637.0 457.36L638.0 456.84L639.0 456.30L640.0 455.75L641.0 455.18L642.0 454.60L643.0 454.01L644.0 453.40L645.0 452.77L646.0 452.13L647.0 451.48L648.0 450.82L649.0 450.14L650.0 449.45L651.0 448.75L652.0 448.05L653.0 447.33L654.0 446.61L655.0 445.88L656.0 445.15L657.0 444.42L658.0 443.69L659.0 442.96L660.0 442.24L661.0 441.52L662.0 440.81L663.0 440.11L664.0 439.41L665.0 438.73L666.0 438.05L667.0 437.37L668.0 436.71L669.0 436.05L670.0 435.39L671.0 434.74L672.0 434.09L673.0 433.44L674.0 432.80L675.0 432.15L676.0 431.50L677.0 430.84L678.0 430.19L679.0 429.52L680.0 428.86L681.0 428.19L682.0 427.52L683.0 426.85L684.0 426.17L685.0 425.50L686.0 424.83L687.0 424.16L688.0 423.49L689.0 422.84L690.0 422.19L691.0 421.54L692.0 420.91L693.0 420.29L694.0 419.68L695.0 419.08L696.0 418.49L697.0 417.92L698.0 417.36L699.0 416.81L700.0 416.28L701.0 415.76L702.0 415.26L703.0 414.77L704.0 414.29L705.0 413.82L706.0 413.37L707.0 412.93L708.0 412.50L709.0 412.09L710.0 411.68L711.0 411.28L712.0 410.90L713.0 410.52L714.0 410.15L715.0 409.78L716.0 409.43L717.0 409.08L718.0 408.73L719.0 408.39L720.0 408.06L721.0 407.73L722.0 407.40L723.0 407.07L724.0 406.75L725.0 406.43L726.0 406.12L727.0 405.80L728.0 405.49L729.0 405.18L730.0 404.88L731.0 404.57L732.0 404.27L733.0 403.97L734.0 403.68L735.0 403.39L736.0 403.10L737.0 402.82L738.0 402.54L739.0 402.26L740.0 401.99L741.0 401.73L742.0 401.47L743.0 401.22L744.0 400.97L745.0 400.73L746.0 400.49L747.0 400.26L748.0 400.04L749.0 399.82L750.0 399.60L751.0 399.39L752.0 399.19L753.0 398.99L754.0 398.80L755.0 398.61L756.0 398.42L757.0 398.24L758.0 398.07L759.0 397.89L760.0 397.72L761.0 397.55L762.0 397.39L763.0 397.23L764.0 397.07L765.0 396.91L766.0 396.75L767.0 396.60L768.0 396.45L769.0 396.30L770.0 396.15L771.0 396.00L772.0 395.86L773.0 395.71L774.0 395.57L775.0 395.42L776.0 395.28L777.0 395.14L778.0 394.99L779.0 394.85L780.0 394.71L781.0 394.57L782.0 394.43L783.0 394.28L784.0 394.14L785.0 394.00L786.0 393.85L787.0 393.71L788.0 393.57L789.0 393.43L790.0 393.29L791.0 393.14L792.0 393.00L793.0 392.86L794.0 392.72L795.0 392.58L796.0 392.44L797.0 392.30L798.0 392.16L799.0 392.02L800.0 391.88L801.0 391.74L802.0 391.61L803.0 391.47L804.0 391.33L805.0 391.19L806.0 391.06L807.0 390.92L808.0 390.79L809.0 390.65L810.0 390.52L811.0 390.38L812.0 390.25L813.0 390.12L814.0 389.98L815.0 389.85L816.0 389.72L817.0 389.59L818.0 389.45L819.0 389.32L820.0 389.19L821.0 389.06L822.0 388.93L823.0 388.80L824.0 388.67L825.0 388.54L826.0 388.41L827.0 388.28L828.0 388.15L829.0 388.02L830.0 387.90L831.0 387.77L832.0 387.64L833.0 387.51L834.0 387.39L835.0 387.26L836.0 387.13L837.0 387.01L838.0 386.88L839.0 386.75L840.0 386.63L841.0 386.50L842.0 386.38L843.0 386.25L844.0 386.13L845.0 386.00L846.0 385.88L847.0 385.76L848.0 385.63L849.0 385.51L850.0 385.38L851.0 385.26L852.0 385.14L853.0 385.02L854.0 384.89L855.0 384.77L856.0 384.65L857.0 384.53L858.0 384.40L859.0 384.28L860.0 384.16L861.0 384.04L862.0 383.92L863.0 383.80L864.0 383.68L865.0 383.56L866.0 383.44L867.0 383.32L868.0 383.20L869.0 383.08L870.0 382.96L871.0 382.85L872.0 382.73L873.0 382.61L874.0 382.49L875.0 382.37L876.0 382.26L877.0 382.14L878.0 382.03L879.0 381.91L880.0 381.79L881.0 381.68L882.0 381.56L883.0 381.45L884.0 381.33L885.0 381.22L886.0 381.11L887.0 380.99L888.0 380.88L889.0 380.77L890.0 380.65L891.0 380.54L892.0 380.43L893.0 380.32L894.0 380.21L895.0 380.10L896.0 379.99L897.0 379.87L898.0 379.77L899.0 379.66L900.0 379.55L901.0 379.44L902.0 379.33L903.0 379.22L904.0 379.11L905.0 379.01L906.0 378.90L907.0 378.79L908.0 378.69L909.0 378.58L910.0 378.48L911.0 378.37L912.0 378.27L913.0 378.16L914.0 378.06L915.0 377.96L916.0 377.85L917.0 377.75L918.0 377.65L919.0 377.55L920.0 377.44L921.0 377.34L922.0 377.24L923.0 377.14L924.0 377.04L925.0 376.94L926.0 376.84L927.0 376.74L928.0 376.65L929.0 376.55L930.0 376.45L931.0 376.36L932.0 376.26L933.0 376.17L934.0 376.08L935.0 375.99L936.0 375.90L937.0 375.82L938.0 375.74L939.0 375.67L940.0 375.60L941.0 375.53L942.0 375.48L943.0 375.43" stroke="#5bb04a" stroke-width="2.3" fill="none" stroke-linejoin="round" stroke-linecap="round" clip-path="url(#clipb)"/>
<path d="M168.0 471.43L169.0 471.32L170.0 471.19L171.0 471.04L172.0 470.90L173.0 470.76L174.0 470.63L175.0 470.51L176.0 470.39L177.0 470.27L178.0 470.16L179.0 470.06L180.0 469.96L181.0 469.87L182.0 469.78L183.0 469.70L184.0 469.62L185.0 469.55L186.0 469.48L187.0 469.41L188.0 469.36L189.0 469.30L190.0 469.25L191.0 469.21L192.0 469.17L193.0 469.13L194.0 469.10L195.0 469.08L196.0 469.05L197.0 469.03L198.0 469.02L199.0 469.01L200.0 469.01L201.0 469.01L202.0 469.02L203.0 469.05L204.0 469.09L205.0 469.14L206.0 469.21L207.0 469.29L208.0 469.38L209.0 469.47L210.0 469.57L211.0 469.68L212.0 469.79L213.0 469.90L214.0 470.01L215.0 470.12L216.0 470.23L217.0 470.33L218.0 470.42L219.0 470.51L220.0 470.59L221.0 470.66L222.0 470.71L223.0 470.75L224.0 470.78L225.0 470.79L226.0 470.80L227.0 470.80L228.0 470.79L229.0 470.79L230.0 470.78L231.0 470.77L232.0 470.76L233.0 470.75L234.0 470.73L235.0 470.72L236.0 470.70L237.0 470.68L238.0 470.67L239.0 470.65L240.0 470.62L241.0 470.60L242.0 470.58L243.0 470.55L244.0 470.53L245.0 470.50L246.0 470.48L247.0 470.45L248.0 470.42L249.0 470.39L250.0 470.36L251.0 470.33L252.0 470.30L253.0 470.27L254.0 470.23L255.0 470.20L256.0 470.15L257.0 470.10L258.0 470.05L259.0 469.98L260.0 469.90L261.0 469.82L262.0 469.72L263.0 469.62L264.0 469.52L265.0 469.41L266.0 469.30L267.0 469.18L268.0 469.06L269.0 468.93L270.0 468.81L271.0 468.68L272.0 468.56L273.0 468.43L274.0 468.31L275.0 468.18L276.0 468.06L277.0 467.95L278.0 467.83L279.0 467.72L280.0 467.62L281.0 467.52L282.0 467.43L283.0 467.35L284.0 467.27L285.0 467.20L286.0 467.14L287.0 467.07L288.0 467.01L289.0 466.95L290.0 466.88L291.0 466.82L292.0 466.76L293.0 466.69L294.0 466.63L295.0 466.57L296.0 466.51L297.0 466.45L298.0 466.39L299.0 466.33L300.0 466.27L301.0 466.21L302.0 466.15L303.0 466.10L304.0 466.04L305.0 465.99L306.0 465.94L307.0 465.89L308.0 465.84L309.0 465.79L310.0 465.75L311.0 465.70L312.0 465.66L313.0 465.62L314.0 465.58L315.0 465.55L316.0 465.51L317.0 465.48L318.0 465.45L319.0 465.42L320.0 465.40L321.0 465.38L322.0 465.36L323.0 465.34L324.0 465.33L325.0 465.32L326.0 465.31L327.0 465.31L328.0 465.31L329.0 465.33L330.0 465.38L331.0 465.45L332.0 465.54L333.0 465.66L334.0 465.79L335.0 465.94L336.0 466.11L337.0 466.29L338.0 466.48L339.0 466.68L340.0 466.89L341.0 467.10L342.0 467.30L343.0 467.51L344.0 467.72L345.0 467.92L346.0 468.11L347.0 468.29L348.0 468.46L349.0 468.61L350.0 468.74L351.0 468.86L352.0 468.95L353.0 469.02L354.0 469.06L355.0 469.08L356.0 469.06L357.0 469.02L358.0 468.94L359.0 468.84L360.0 468.71L361.0 468.56L362.0 468.38L363.0 468.19L364.0 467.98L365.0 467.75L366.0 467.52L367.0 467.26L368.0 467.00L369.0 466.73L370.0 466.46L371.0 466.18L372.0 465.90L373.0 465.62L374.0 465.34L375.0 465.07L376.0 464.80L377.0 464.54L378.0 464.28L379.0 464.05L380.0 463.82L381.0 463.61L382.0 463.42L383.0 463.24L384.0 463.09L385.0 462.96L386.0 462.86L387.0 462.79L388.0 462.74L389.0 462.73L390.0 462.75L391.0 462.81L392.0 462.91L393.0 463.04L394.0 463.20L395.0 463.39L396.0 463.60L397.0 463.83L398.0 464.08L399.0 464.35L400.0 464.63L401.0 464.91L402.0 465.20L403.0 465.50L404.0 465.79L405.0 466.07L406.0 466.35L407.0 466.62L408.0 466.87L409.0 467.10L410.0 467.31L411.0 467.50L412.0 467.66L413.0 467.79L414.0 467.89L415.0 467.95L416.0 467.97L417.0 467.95L418.0 467.90L419.0 467.81L420.0 467.69L421.0 467.53L422.0 467.35L423.0 467.14L424.0 466.91L425.0 466.66L426.0 466.38L427.0 466.09L428.0 465.78L429.0 465.46L430.0 465.12L431.0 464.77L432.0 464.42L433.0 464.06L434.0 463.70L435.0 463.34L436.0 462.98L437.0 462.62L438.0 462.26L439.0 461.90L440.0 461.53L441.0 461.14L442.0 460.71L443.0 460.26L444.0 459.77L445.0 459.26L446.0 458.74L447.0 458.22L448.0 457.70L449.0 457.19L450.0 456.70L451.0 456.24L452.0 455.81L453.0 455.41L454.0 455.06L455.0 454.76L456.0 454.50L457.0 454.31L458.0 454.16L459.0 454.07L460.0 454.02L461.0 454.00L462.0 454.00L463.0 454.02L464.0 454.06L465.0 454.12L466.0 454.20L467.0 454.29L468.0 454.39L469.0 454.50L470.0 454.62L471.0 454.75L472.0 454.89L473.0 455.04L474.0 455.19L475.0 455.36L476.0 455.54L477.0 455.72L478.0 455.92L479.0 456.12L480.0 456.33L481.0 456.55L482.0 456.77L483.0 456.99L484.0 457.22L485.0 457.44L486.0 457.67L487.0 457.89L488.0 458.11L489.0 458.32L490.0 458.52L491.0 458.71L492.0 458.89L493.0 459.05L494.0 459.20L495.0 459.33L496.0 459.44L497.0 459.54L498.0 459.62L499.0 459.68L500.0 459.73L501.0 459.76L502.0 459.79L503.0 459.80L504.0 459.80L505.0 459.79L506.0 459.77L507.0 459.75L508.0 459.72L509.0 459.69L510.0 459.65L511.0 459.61L512.0 459.57L513.0 459.53L514.0 459.48L515.0 459.44L516.0 459.40L517.0 459.35L518.0 459.31L519.0 459.26L520.0 459.22L521.0 459.17L522.0 459.13L523.0 459.09L524.0 459.04L525.0 459.00L526.0 458.96L527.0 458.92L528.0 458.88L529.0 458.84L530.0 458.79L531.0 458.75L532.0 458.71L533.0 458.66L534.0 458.62L535.0 458.58L536.0 458.53L537.0 458.48L538.0 458.43L539.0 458.38L540.0 458.33L541.0 458.28L542.0 458.22L543.0 458.16L544.0 458.10L545.0 458.04L546.0 457.97L547.0 457.91L548.0 457.83L549.0 457.76L550.0 457.67L551.0 457.59L552.0 457.50L553.0 457.40L554.0 457.30L555.0 457.19L556.0 457.07L557.0 456.95L558.0 456.82L559.0 456.68L560.0 456.54L561.0 456.38L562.0 456.22L563.0 456.05L564.0 455.88L565.0 455.70L566.0 455.50L567.0 455.31L568.0 455.10L569.0 454.89L570.0 454.67L571.0 454.44L572.0 454.20L573.0 453.96L574.0 453.71L575.0 453.45L576.0 453.19L577.0 452.92L578.0 452.64L579.0 452.36L580.0 452.07L581.0 451.77L582.0 451.46L583.0 451.14L584.0 450.81L585.0 450.47L586.0 450.12L587.0 449.76L588.0 449.38L589.0 448.99L590.0 448.58L591.0 448.14L592.0 447.69L593.0 447.22L594.0 446.72L595.0 446.19L596.0 445.64L597.0 445.07L598.0 444.47L599.0 443.85L600.0 443.20L601.0 442.53L602.0 441.83L603.0 441.12L604.0 440.39L605.0 439.65L606.0 438.88L607.0 438.11L608.0 437.32L609.0 436.52L610.0 435.72L611.0 434.91L612.0 434.09L613.0 433.27L614.0 432.44L615.0 431.62L616.0 430.79L617.0 429.96L618.0 429.12L619.0 428.29L620.0 427.45L621.0 426.62L622.0 425.78L623.0 424.94L624.0 424.11L625.0 423.27L626.0 422.43L627.0 421.59L628.0 420.76L629.0 419.93L630.0 419.10L631.0 418.28L632.0 417.46L633.0 416.65L634.0 415.85L635.0 415.06L636.0 414.28L637.0 413.51L638.0 412.75L639.0 412.01L640.0 411.28L641.0 410.56L642.0 409.86L643.0 409.17L644.0 408.50L645.0 407.84L646.0 407.20L647.0 406.57L648.0 405.96L649.0 405.36L650.0 404.78L651.0 404.21L652.0 403.65L653.0 403.11L654.0 402.58L655.0 402.07L656.0 401.57L657.0 401.08L658.0 400.60L659.0 400.13L660.0 399.68L661.0 399.23L662.0 398.80L663.0 398.37L664.0 397.96L665.0 397.56L666.0 397.16L667.0 396.78L668.0 396.41L669.0 396.04L670.0 395.69L671.0 395.34L672.0 395.00L673.0 394.67L674.0 394.35L675.0 394.03L676.0 393.71L677.0 393.40L678.0 393.10L679.0 392.79L680.0 392.49L681.0 392.19L682.0 391.89L683.0 391.59L684.0 391.30L685.0 391.01L686.0 390.72L687.0 390.43L688.0 390.15L689.0 389.87L690.0 389.59L691.0 389.32L692.0 389.05L693.0 388.79L694.0 388.53L695.0 388.28L696.0 388.04L697.0 387.80L698.0 387.57L699.0 387.35L700.0 387.13L701.0 386.92L702.0 386.71L703.0 386.51L704.0 386.32L705.0 386.14L706.0 385.96L707.0 385.79L708.0 385.63L709.0 385.47L710.0 385.31L711.0 385.16L712.0 385.02L713.0 384.88L714.0 384.75L715.0 384.62L716.0 384.49L717.0 384.36L718.0 384.24L719.0 384.12L720.0 384.00L721.0 383.88L722.0 383.76L723.0 383.64L724.0 383.52L725.0 383.41L726.0 383.29L727.0 383.17L728.0 383.05L729.0 382.94L730.0 382.82L731.0 382.70L732.0 382.59L733.0 382.47L734.0 382.36L735.0 382.24L736.0 382.13L737.0 382.02L738.0 381.91L739.0 381.80L740.0 381.70L741.0 381.59L742.0 381.49L743.0 381.39L744.0 381.29L745.0 381.19L746.0 381.09L747.0 381.00L748.0 380.91L749.0 380.82L750.0 380.73L751.0 380.65L752.0 380.56L753.0 380.48L754.0 380.40L755.0 380.32L756.0 380.24L757.0 380.16L758.0 380.09L759.0 380.01L760.0 379.94L761.0 379.86L762.0 379.79L763.0 379.72L764.0 379.65L765.0 379.57L766.0 379.50L767.0 379.44L768.0 379.37L769.0 379.30L770.0 379.23L771.0 379.16L772.0 379.10L773.0 379.03L774.0 378.97L775.0 378.90L776.0 378.84L777.0 378.77L778.0 378.71L779.0 378.65L780.0 378.59L781.0 378.52L782.0 378.46L783.0 378.40L784.0 378.34L785.0 378.28L786.0 378.22L787.0 378.16L788.0 378.11L789.0 378.05L790.0 377.99L791.0 377.93L792.0 377.87L793.0 377.82L794.0 377.76L795.0 377.70L796.0 377.65L797.0 377.59L798.0 377.54L799.0 377.48L800.0 377.43L801.0 377.37L802.0 377.32L803.0 377.26L804.0 377.21L805.0 377.16L806.0 377.10L807.0 377.05L808.0 377.00L809.0 376.94L810.0 376.89L811.0 376.84L812.0 376.78L813.0 376.73L814.0 376.68L815.0 376.62L816.0 376.57L817.0 376.52L818.0 376.46L819.0 376.41L820.0 376.36L821.0 376.31L822.0 376.25L823.0 376.20L824.0 376.15L825.0 376.09L826.0 376.04L827.0 375.99L828.0 375.93L829.0 375.88L830.0 375.83L831.0 375.77L832.0 375.72L833.0 375.66L834.0 375.61L835.0 375.56L836.0 375.50L837.0 375.45L838.0 375.39L839.0 375.33L840.0 375.28L841.0 375.22L842.0 375.17L843.0 375.11L844.0 375.05L845.0 375.00L846.0 374.94L847.0 374.88L848.0 374.83L849.0 374.77L850.0 374.71L851.0 374.66L852.0 374.60L853.0 374.54L854.0 374.49L855.0 374.43L856.0 374.37L857.0 374.31L858.0 374.26L859.0 374.20L860.0 374.14L861.0 374.09L862.0 374.03L863.0 373.97L864.0 373.92L865.0 373.86L866.0 373.80L867.0 373.75L868.0 373.69L869.0 373.64L870.0 373.58L871.0 373.52L872.0 373.47L873.0 373.41L874.0 373.35L875.0 373.30L876.0 373.24L877.0 373.19L878.0 373.13L879.0 373.07L880.0 373.02L881.0 372.96L882.0 372.91L883.0 372.85L884.0 372.80L885.0 372.74L886.0 372.68L887.0 372.63L888.0 372.57L889.0 372.52L890.0 372.46L891.0 372.41L892.0 372.35L893.0 372.30L894.0 372.24L895.0 372.19L896.0 372.13L897.0 372.08L898.0 372.02L899.0 371.97L900.0 371.91L901.0 371.86L902.0 371.80L903.0 371.75L904.0 371.69L905.0 371.64L906.0 371.58L907.0 371.53L908.0 371.47L909.0 371.42L910.0 371.37L911.0 371.31L912.0 371.26L913.0 371.20L914.0 371.15L915.0 371.09L916.0 371.04L917.0 370.99L918.0 370.93L919.0 370.88L920.0 370.83L921.0 370.77L922.0 370.72L923.0 370.66L924.0 370.61L925.0 370.56L926.0 370.50L927.0 370.45L928.0 370.40L929.0 370.34L930.0 370.29L931.0 370.24L932.0 370.19L933.0 370.14L934.0 370.09L935.0 370.04L936.0 369.99L937.0 369.94L938.0 369.90L939.0 369.86L940.0 369.82L941.0 369.79L942.0 369.75L943.0 369.73" stroke="#45bed4" stroke-width="2.3" fill="none" stroke-linejoin="round" stroke-linecap="round" clip-path="url(#clipb)"/>
<path d="M168.0 470.51L169.0 470.38L170.0 470.21L171.0 470.04L172.0 469.86L173.0 469.69L174.0 469.53L175.0 469.38L176.0 469.24L177.0 469.10L178.0 468.97L179.0 468.84L180.0 468.72L181.0 468.61L182.0 468.51L183.0 468.41L184.0 468.32L185.0 468.23L186.0 468.15L187.0 468.08L188.0 468.01L189.0 467.95L190.0 467.89L191.0 467.84L192.0 467.79L193.0 467.75L194.0 467.72L195.0 467.69L196.0 467.66L197.0 467.64L198.0 467.62L199.0 467.61L200.0 467.61L201.0 467.61L202.0 467.63L203.0 467.66L204.0 467.72L205.0 467.79L206.0 467.88L207.0 467.98L208.0 468.10L209.0 468.23L210.0 468.36L211.0 468.51L212.0 468.65L213.0 468.80L214.0 468.95L215.0 469.09L216.0 469.24L217.0 469.37L218.0 469.50L219.0 469.62L220.0 469.72L221.0 469.81L222.0 469.88L223.0 469.94L224.0 469.97L225.0 469.99L226.0 470.00L227.0 470.00L228.0 469.99L229.0 469.99L230.0 469.98L231.0 469.97L232.0 469.96L233.0 469.95L234.0 469.94L235.0 469.92L236.0 469.91L237.0 469.89L238.0 469.87L239.0 469.85L240.0 469.83L241.0 469.81L242.0 469.79L243.0 469.76L244.0 469.74L245.0 469.71L246.0 469.68L247.0 469.66L248.0 469.63L249.0 469.60L250.0 469.57L251.0 469.53L252.0 469.50L253.0 469.47L254.0 469.43L255.0 469.39L256.0 469.34L257.0 469.27L258.0 469.19L259.0 469.09L260.0 468.97L261.0 468.84L262.0 468.69L263.0 468.53L264.0 468.37L265.0 468.19L266.0 468.01L267.0 467.82L268.0 467.63L269.0 467.43L270.0 467.24L271.0 467.04L272.0 466.85L273.0 466.66L274.0 466.48L275.0 466.30L276.0 466.13L277.0 465.97L278.0 465.82L279.0 465.68L280.0 465.56L281.0 465.46L282.0 465.37L283.0 465.30L284.0 465.24L285.0 465.21L286.0 465.19L287.0 465.17L288.0 465.16L289.0 465.14L290.0 465.13L291.0 465.13L292.0 465.12L293.0 465.11L294.0 465.10L295.0 465.10L296.0 465.09L297.0 465.08L298.0 465.08L299.0 465.07L300.0 465.06L301.0 465.04L302.0 465.03L303.0 465.01L304.0 464.99L305.0 464.95L306.0 464.89L307.0 464.80L308.0 464.70L309.0 464.57L310.0 464.43L311.0 464.27L312.0 464.10L313.0 463.92L314.0 463.73L315.0 463.54L316.0 463.34L317.0 463.15L318.0 462.96L319.0 462.78L320.0 462.60L321.0 462.44L322.0 462.29L323.0 462.16L324.0 462.04L325.0 461.95L326.0 461.88L327.0 461.84L328.0 461.82L329.0 461.84L330.0 461.89L331.0 461.98L332.0 462.09L333.0 462.22L334.0 462.38L335.0 462.56L336.0 462.76L337.0 462.98L338.0 463.20L339.0 463.44L340.0 463.68L341.0 463.93L342.0 464.17L343.0 464.42L344.0 464.66L345.0 464.90L346.0 465.12L347.0 465.34L348.0 465.54L349.0 465.72L350.0 465.88L351.0 466.01L352.0 466.12L353.0 466.21L354.0 466.26L355.0 466.27L356.0 466.24L357.0 466.18L358.0 466.07L359.0 465.92L360.0 465.73L361.0 465.51L362.0 465.26L363.0 464.98L364.0 464.67L365.0 464.35L366.0 464.00L367.0 463.63L368.0 463.25L369.0 462.86L370.0 462.46L371.0 462.06L372.0 461.65L373.0 461.24L374.0 460.84L375.0 460.44L376.0 460.05L377.0 459.67L378.0 459.30L379.0 458.95L380.0 458.63L381.0 458.32L382.0 458.04L383.0 457.79L384.0 457.57L385.0 457.38L386.0 457.23L387.0 457.12L388.0 457.06L389.0 457.03L390.0 457.05L391.0 457.11L392.0 457.20L393.0 457.32L394.0 457.48L395.0 457.66L396.0 457.87L397.0 458.09L398.0 458.33L399.0 458.59L400.0 458.86L401.0 459.13L402.0 459.41L403.0 459.69L404.0 459.97L405.0 460.24L406.0 460.51L407.0 460.77L408.0 461.01L409.0 461.23L410.0 461.44L411.0 461.62L412.0 461.78L413.0 461.90L414.0 461.99L415.0 462.05L416.0 462.07L417.0 462.04L418.0 461.95L419.0 461.83L420.0 461.65L421.0 461.43L422.0 461.17L423.0 460.87L424.0 460.53L425.0 460.17L426.0 459.77L427.0 459.35L428.0 458.91L429.0 458.45L430.0 457.97L431.0 457.48L432.0 456.98L433.0 456.47L434.0 455.96L435.0 455.45L436.0 454.95L437.0 454.44L438.0 453.95L439.0 453.46L440.0 452.97L441.0 452.47L442.0 451.96L443.0 451.42L444.0 450.87L445.0 450.31L446.0 449.74L447.0 449.18L448.0 448.62L449.0 448.08L450.0 447.54L451.0 447.01L452.0 446.49L453.0 445.96L454.0 445.42L455.0 444.89L456.0 444.36L457.0 443.85L458.0 443.36L459.0 442.89L460.0 442.45L461.0 442.04L462.0 441.67L463.0 441.35L464.0 441.07L465.0 440.83L466.0 440.63L467.0 440.47L468.0 440.34L469.0 440.23L470.0 440.14L471.0 440.06L472.0 440.00L473.0 439.94L474.0 439.90L475.0 439.86L476.0 439.83L477.0 439.81L478.0 439.80L479.0 439.79L480.0 439.78L481.0 439.78L482.0 439.79L483.0 439.80L484.0 439.81L485.0 439.83L486.0 439.86L487.0 439.89L488.0 439.92L489.0 439.96L490.0 440.00L491.0 440.05L492.0 440.09L493.0 440.14L494.0 440.19L495.0 440.25L496.0 440.30L497.0 440.34L498.0 440.39L499.0 440.43L500.0 440.46L501.0 440.49L502.0 440.51L503.0 440.52L504.0 440.51L505.0 440.49L506.0 440.46L507.0 440.41L508.0 440.34L509.0 440.26L510.0 440.16L511.0 440.04L512.0 439.91L513.0 439.76L514.0 439.59L515.0 439.42L516.0 439.23L517.0 439.03L518.0 438.82L519.0 438.61L520.0 438.40L521.0 438.17L522.0 437.95L523.0 437.72L524.0 437.49L525.0 437.26L526.0 437.02L527.0 436.78L528.0 436.54L529.0 436.29L530.0 436.04L531.0 435.78L532.0 435.52L533.0 435.25L534.0 434.97L535.0 434.69L536.0 434.40L537.0 434.10L538.0 433.80L539.0 433.48L540.0 433.15L541.0 432.82L542.0 432.47L543.0 432.10L544.0 431.73L545.0 431.34L546.0 430.93L547.0 430.51L548.0 430.08L549.0 429.63L550.0 429.17L551.0 428.69L552.0 428.20L553.0 427.70L554.0 427.18L555.0 426.65L556.0 426.11L557.0 425.56L558.0 425.01L559.0 424.44L560.0 423.87L561.0 423.29L562.0 422.71L563.0 422.12L564.0 421.53L565.0 420.93L566.0 420.33L567.0 419.72L568.0 419.11L569.0 418.49L570.0 417.87L571.0 417.24L572.0 416.61L573.0 415.98L574.0 415.34L575.0 414.69L576.0 414.05L577.0 413.40L578.0 412.75L579.0 412.10L580.0 411.44L581.0 410.80L582.0 410.15L583.0 409.51L584.0 408.87L585.0 408.24L586.0 407.62L587.0 407.00L588.0 406.39L589.0 405.79L590.0 405.19L591.0 404.60L592.0 404.02L593.0 403.45L594.0 402.88L595.0 402.32L596.0 401.76L597.0 401.21L598.0 400.67L599.0 400.13L600.0 399.60L601.0 399.07L602.0 398.55L603.0 398.03L604.0 397.52L605.0 397.01L606.0 396.51L607.0 396.01L608.0 395.52L609.0 395.04L610.0 394.56L611.0 394.08L612.0 393.62L613.0 393.16L614.0 392.70L615.0 392.25L616.0 391.81L617.0 391.37L618.0 390.94L619.0 390.52L620.0 390.10L621.0 389.69L622.0 389.28L623.0 388.88L624.0 388.49L625.0 388.10L626.0 387.72L627.0 387.34L628.0 386.97L629.0 386.61L630.0 386.25L631.0 385.91L632.0 385.57L633.0 385.24L634.0 384.91L635.0 384.60L636.0 384.29L637.0 383.99L638.0 383.70L639.0 383.42L640.0 383.15L641.0 382.88L642.0 382.62L643.0 382.37L644.0 382.13L645.0 381.89L646.0 381.66L647.0 381.44L648.0 381.22L649.0 381.01L650.0 380.81L651.0 380.61L652.0 380.42L653.0 380.23L654.0 380.05L655.0 379.88L656.0 379.71L657.0 379.55L658.0 379.39L659.0 379.24L660.0 379.10L661.0 378.96L662.0 378.82L663.0 378.69L664.0 378.57L665.0 378.45L666.0 378.33L667.0 378.22L668.0 378.11L669.0 378.00L670.0 377.90L671.0 377.80L672.0 377.70L673.0 377.61L674.0 377.52L675.0 377.43L676.0 377.35L677.0 377.27L678.0 377.19L679.0 377.12L680.0 377.04L681.0 376.97L682.0 376.90L683.0 376.84L684.0 376.77L685.0 376.71L686.0 376.65L687.0 376.59L688.0 376.53L689.0 376.47L690.0 376.42L691.0 376.36L692.0 376.31L693.0 376.26L694.0 376.21L695.0 376.16L696.0 376.11L697.0 376.06L698.0 376.01L699.0 375.97L700.0 375.92L701.0 375.87L702.0 375.83L703.0 375.78L704.0 375.74L705.0 375.69L706.0 375.65L707.0 375.60L708.0 375.56L709.0 375.51L710.0 375.47L711.0 375.42L712.0 375.38L713.0 375.33L714.0 375.28L715.0 375.23L716.0 375.19L717.0 375.14L718.0 375.09L719.0 375.04L720.0 374.99L721.0 374.93L722.0 374.88L723.0 374.83L724.0 374.77L725.0 374.72L726.0 374.67L727.0 374.61L728.0 374.56L729.0 374.50L730.0 374.44L731.0 374.39L732.0 374.33L733.0 374.28L734.0 374.22L735.0 374.17L736.0 374.11L737.0 374.06L738.0 374.00L739.0 373.95L740.0 373.90L741.0 373.84L742.0 373.79L743.0 373.74L744.0 373.69L745.0 373.64L746.0 373.60L747.0 373.55L748.0 373.51L749.0 373.46L750.0 373.42L751.0 373.37L752.0 373.33L753.0 373.29L754.0 373.25L755.0 373.21L756.0 373.17L757.0 373.13L758.0 373.09L759.0 373.06L760.0 373.02L761.0 372.98L762.0 372.95L763.0 372.91L764.0 372.87L765.0 372.84L766.0 372.80L767.0 372.77L768.0 372.73L769.0 372.70L770.0 372.67L771.0 372.63L772.0 372.60L773.0 372.57L774.0 372.53L775.0 372.50L776.0 372.47L777.0 372.44L778.0 372.40L779.0 372.37L780.0 372.34L781.0 372.31L782.0 372.28L783.0 372.25L784.0 372.22L785.0 372.19L786.0 372.16L787.0 372.13L788.0 372.10L789.0 372.07L790.0 372.04L791.0 372.01L792.0 371.98L793.0 371.95L794.0 371.92L795.0 371.90L796.0 371.87L797.0 371.84L798.0 371.81L799.0 371.78L800.0 371.75L801.0 371.73L802.0 371.70L803.0 371.67L804.0 371.64L805.0 371.62L806.0 371.59L807.0 371.56L808.0 371.53L809.0 371.51L810.0 371.48L811.0 371.45L812.0 371.42L813.0 371.40L814.0 371.37L815.0 371.34L816.0 371.32L817.0 371.29L818.0 371.26L819.0 371.23L820.0 371.21L821.0 371.18L822.0 371.15L823.0 371.12L824.0 371.10L825.0 371.07L826.0 371.04L827.0 371.01L828.0 370.99L829.0 370.96L830.0 370.93L831.0 370.90L832.0 370.87L833.0 370.85L834.0 370.82L835.0 370.79L836.0 370.76L837.0 370.73L838.0 370.70L839.0 370.67L840.0 370.65L841.0 370.62L842.0 370.59L843.0 370.56L844.0 370.53L845.0 370.50L846.0 370.47L847.0 370.44L848.0 370.41L849.0 370.38L850.0 370.35L851.0 370.32L852.0 370.29L853.0 370.26L854.0 370.23L855.0 370.20L856.0 370.17L857.0 370.14L858.0 370.11L859.0 370.08L860.0 370.05L861.0 370.02L862.0 369.99L863.0 369.96L864.0 369.93L865.0 369.90L866.0 369.87L867.0 369.84L868.0 369.81L869.0 369.78L870.0 369.75L871.0 369.72L872.0 369.69L873.0 369.66L874.0 369.63L875.0 369.60L876.0 369.57L877.0 369.54L878.0 369.51L879.0 369.48L880.0 369.45L881.0 369.42L882.0 369.39L883.0 369.36L884.0 369.34L885.0 369.31L886.0 369.28L887.0 369.25L888.0 369.22L889.0 369.19L890.0 369.16L891.0 369.13L892.0 369.10L893.0 369.07L894.0 369.04L895.0 369.01L896.0 368.98L897.0 368.95L898.0 368.92L899.0 368.89L900.0 368.86L901.0 368.83L902.0 368.80L903.0 368.77L904.0 368.74L905.0 368.71L906.0 368.68L907.0 368.65L908.0 368.63L909.0 368.60L910.0 368.57L911.0 368.54L912.0 368.51L913.0 368.48L914.0 368.45L915.0 368.42L916.0 368.39L917.0 368.36L918.0 368.33L919.0 368.30L920.0 368.27L921.0 368.24L922.0 368.21L923.0 368.18L924.0 368.16L925.0 368.13L926.0 368.10L927.0 368.07L928.0 368.04L929.0 368.01L930.0 367.98L931.0 367.95L932.0 367.92L933.0 367.90L934.0 367.87L935.0 367.84L936.0 367.81L937.0 367.79L938.0 367.77L939.0 367.74L940.0 367.72L941.0 367.70L942.0 367.69L943.0 367.67" stroke="#2f5aa6" stroke-width="2.3" fill="none" stroke-linejoin="round" stroke-linecap="round" clip-path="url(#clipb)"/>
<path d="M168.0 469.51L169.0 469.38L170.0 469.21L171.0 469.04L172.0 468.86L173.0 468.69L174.0 468.53L175.0 468.38L176.0 468.24L177.0 468.10L178.0 467.97L179.0 467.84L180.0 467.72L181.0 467.61L182.0 467.51L183.0 467.41L184.0 467.32L185.0 467.23L186.0 467.15L187.0 467.08L188.0 467.01L189.0 466.95L190.0 466.89L191.0 466.84L192.0 466.79L193.0 466.75L194.0 466.72L195.0 466.69L196.0 466.66L197.0 466.64L198.0 466.62L199.0 466.61L200.0 466.61L201.0 466.61L202.0 466.63L203.0 466.66L204.0 466.72L205.0 466.79L206.0 466.88L207.0 466.98L208.0 467.10L209.0 467.23L210.0 467.36L211.0 467.51L212.0 467.65L213.0 467.80L214.0 467.95L215.0 468.09L216.0 468.24L217.0 468.37L218.0 468.50L219.0 468.62L220.0 468.72L221.0 468.81L222.0 468.88L223.0 468.94L224.0 468.97L225.0 468.99L226.0 469.00L227.0 469.00L228.0 468.99L229.0 468.99L230.0 468.98L231.0 468.97L232.0 468.96L233.0 468.95L234.0 468.94L235.0 468.92L236.0 468.91L237.0 468.89L238.0 468.87L239.0 468.85L240.0 468.83L241.0 468.81L242.0 468.79L243.0 468.76L244.0 468.74L245.0 468.71L246.0 468.68L247.0 468.66L248.0 468.63L249.0 468.60L250.0 468.57L251.0 468.53L252.0 468.50L253.0 468.47L254.0 468.43L255.0 468.39L256.0 468.34L257.0 468.27L258.0 468.19L259.0 468.09L260.0 467.97L261.0 467.84L262.0 467.69L263.0 467.53L264.0 467.37L265.0 467.19L266.0 467.01L267.0 466.82L268.0 466.63L269.0 466.43L270.0 466.24L271.0 466.04L272.0 465.85L273.0 465.66L274.0 465.48L275.0 465.30L276.0 465.13L277.0 464.97L278.0 464.82L279.0 464.68L280.0 464.56L281.0 464.46L282.0 464.37L283.0 464.30L284.0 464.24L285.0 464.21L286.0 464.19L287.0 464.17L288.0 464.16L289.0 464.14L290.0 464.13L291.0 464.13L292.0 464.12L293.0 464.11L294.0 464.10L295.0 464.10L296.0 464.09L297.0 464.08L298.0 464.08L299.0 464.07L300.0 464.06L301.0 464.04L302.0 464.03L303.0 464.01L304.0 463.99L305.0 463.95L306.0 463.89L307.0 463.80L308.0 463.70L309.0 463.57L310.0 463.43L311.0 463.27L312.0 463.10L313.0 462.92L314.0 462.73L315.0 462.54L316.0 462.34L317.0 462.15L318.0 461.96L319.0 461.78L320.0 461.60L321.0 461.44L322.0 461.29L323.0 461.16L324.0 461.04L325.0 460.95L326.0 460.88L327.0 460.84L328.0 460.82L329.0 460.84L330.0 460.89L331.0 460.98L332.0 461.09L333.0 461.22L334.0 461.38L335.0 461.56L336.0 461.76L337.0 461.98L338.0 462.20L339.0 462.44L340.0 462.68L341.0 462.93L342.0 463.17L343.0 463.42L344.0 463.66L345.0 463.90L346.0 464.12L347.0 464.34L348.0 464.54L349.0 464.72L350.0 464.88L351.0 465.01L352.0 465.12L353.0 465.21L354.0 465.26L355.0 465.27L356.0 465.24L357.0 465.18L358.0 465.07L359.0 464.92L360.0 464.73L361.0 464.51L362.0 464.26L363.0 463.98L364.0 463.67L365.0 463.35L366.0 463.00L367.0 462.63L368.0 462.25L369.0 461.86L370.0 461.46L371.0 461.06L372.0 460.65L373.0 460.24L374.0 459.84L375.0 459.44L376.0 459.05L377.0 458.67L378.0 458.30L379.0 457.95L380.0 457.63L381.0 457.32L382.0 457.04L383.0 456.79L384.0 456.57L385.0 456.38L386.0 456.23L387.0 456.12L388.0 456.06L389.0 456.03L390.0 456.05L391.0 456.11L392.0 456.20L393.0 456.32L394.0 456.48L395.0 456.66L396.0 456.87L397.0 457.09L398.0 457.33L399.0 457.59L400.0 457.86L401.0 458.13L402.0 458.41L403.0 458.69L404.0 458.97L405.0 459.24L406.0 459.51L407.0 459.77L408.0 460.01L409.0 460.23L410.0 460.44L411.0 460.62L412.0 460.78L413.0 460.90L414.0 460.99L415.0 461.05L416.0 461.07L417.0 461.04L418.0 460.97L419.0 460.85L420.0 460.68L421.0 460.48L422.0 460.23L423.0 459.96L424.0 459.64L425.0 459.30L426.0 458.93L427.0 458.54L428.0 458.13L429.0 457.70L430.0 457.25L431.0 456.78L432.0 456.31L433.0 455.83L434.0 455.34L435.0 454.86L436.0 454.37L437.0 453.89L438.0 453.41L439.0 452.94L440.0 452.46L441.0 451.97L442.0 451.46L443.0 450.92L444.0 450.37L445.0 449.80L446.0 449.23L447.0 448.65L448.0 448.08L449.0 447.51L450.0 446.94L451.0 446.38L452.0 445.82L453.0 445.25L454.0 444.67L455.0 444.09L456.0 443.52L457.0 442.95L458.0 442.40L459.0 441.87L460.0 441.37L461.0 440.90L462.0 440.46L463.0 440.06L464.0 439.70L465.0 439.38L466.0 439.10L467.0 438.86L468.0 438.65L469.0 438.45L470.0 438.28L471.0 438.12L472.0 437.98L473.0 437.85L474.0 437.74L475.0 437.64L476.0 437.56L477.0 437.48L478.0 437.42L479.0 437.37L480.0 437.33L481.0 437.29L482.0 437.26L483.0 437.24L484.0 437.22L485.0 437.21L486.0 437.21L487.0 437.21L488.0 437.22L489.0 437.23L490.0 437.25L491.0 437.26L492.0 437.28L493.0 437.30L494.0 437.32L495.0 437.34L496.0 437.36L497.0 437.38L498.0 437.39L499.0 437.40L500.0 437.40L501.0 437.40L502.0 437.38L503.0 437.35L504.0 437.31L505.0 437.25L506.0 437.16L507.0 437.06L508.0 436.94L509.0 436.79L510.0 436.63L511.0 436.43L512.0 436.22L513.0 435.99L514.0 435.74L515.0 435.48L516.0 435.21L517.0 434.93L518.0 434.64L519.0 434.35L520.0 434.06L521.0 433.77L522.0 433.48L523.0 433.20L524.0 432.92L525.0 432.64L526.0 432.37L527.0 432.09L528.0 431.82L529.0 431.55L530.0 431.28L531.0 431.01L532.0 430.74L533.0 430.46L534.0 430.18L535.0 429.90L536.0 429.60L537.0 429.30L538.0 429.00L539.0 428.68L540.0 428.35L541.0 428.01L542.0 427.65L543.0 427.29L544.0 426.91L545.0 426.52L546.0 426.11L547.0 425.68L548.0 425.24L549.0 424.79L550.0 424.32L551.0 423.84L552.0 423.35L553.0 422.84L554.0 422.32L555.0 421.79L556.0 421.25L557.0 420.71L558.0 420.15L559.0 419.59L560.0 419.02L561.0 418.45L562.0 417.88L563.0 417.30L564.0 416.72L565.0 416.13L566.0 415.55L567.0 414.96L568.0 414.37L569.0 413.77L570.0 413.18L571.0 412.58L572.0 411.98L573.0 411.38L574.0 410.77L575.0 410.17L576.0 409.56L577.0 408.95L578.0 408.34L579.0 407.73L580.0 407.11L581.0 406.50L582.0 405.89L583.0 405.28L584.0 404.67L585.0 404.06L586.0 403.46L587.0 402.85L588.0 402.25L589.0 401.65L590.0 401.05L591.0 400.45L592.0 399.85L593.0 399.25L594.0 398.66L595.0 398.06L596.0 397.46L597.0 396.87L598.0 396.27L599.0 395.68L600.0 395.09L601.0 394.50L602.0 393.92L603.0 393.34L604.0 392.77L605.0 392.20L606.0 391.65L607.0 391.10L608.0 390.57L609.0 390.04L610.0 389.53L611.0 389.04L612.0 388.56L613.0 388.09L614.0 387.64L615.0 387.21L616.0 386.80L617.0 386.40L618.0 386.02L619.0 385.66L620.0 385.31L621.0 384.98L622.0 384.66L623.0 384.36L624.0 384.06L625.0 383.79L626.0 383.52L627.0 383.26L628.0 383.02L629.0 382.78L630.0 382.55L631.0 382.32L632.0 382.11L633.0 381.90L634.0 381.69L635.0 381.49L636.0 381.29L637.0 381.10L638.0 380.91L639.0 380.72L640.0 380.54L641.0 380.36L642.0 380.18L643.0 380.01L644.0 379.84L645.0 379.67L646.0 379.50L647.0 379.34L648.0 379.18L649.0 379.02L650.0 378.87L651.0 378.72L652.0 378.58L653.0 378.44L654.0 378.30L655.0 378.17L656.0 378.04L657.0 377.92L658.0 377.80L659.0 377.69L660.0 377.58L661.0 377.48L662.0 377.38L663.0 377.28L664.0 377.19L665.0 377.10L666.0 377.01L667.0 376.93L668.0 376.84L669.0 376.77L670.0 376.69L671.0 376.61L672.0 376.54L673.0 376.47L674.0 376.40L675.0 376.34L676.0 376.27L677.0 376.20L678.0 376.14L679.0 376.08L680.0 376.02L681.0 375.96L682.0 375.90L683.0 375.84L684.0 375.78L685.0 375.72L686.0 375.67L687.0 375.61L688.0 375.56L689.0 375.50L690.0 375.45L691.0 375.40L692.0 375.35L693.0 375.30L694.0 375.25L695.0 375.20L696.0 375.15L697.0 375.10L698.0 375.05L699.0 375.00L700.0 374.96L701.0 374.91L702.0 374.86L703.0 374.81L704.0 374.77L705.0 374.72L706.0 374.67L707.0 374.63L708.0 374.58L709.0 374.53L710.0 374.48L711.0 374.44L712.0 374.39L713.0 374.34L714.0 374.29L715.0 374.24L716.0 374.19L717.0 374.14L718.0 374.09L719.0 374.04L720.0 373.99L721.0 373.94L722.0 373.88L723.0 373.83L724.0 373.78L725.0 373.72L726.0 373.67L727.0 373.61L728.0 373.56L729.0 373.50L730.0 373.44L731.0 373.39L732.0 373.33L733.0 373.28L734.0 373.22L735.0 373.17L736.0 373.11L737.0 373.06L738.0 373.00L739.0 372.95L740.0 372.90L741.0 372.84L742.0 372.79L743.0 372.74L744.0 372.69L745.0 372.64L746.0 372.60L747.0 372.55L748.0 372.50L749.0 372.46L750.0 372.42L751.0 372.37L752.0 372.33L753.0 372.29L754.0 372.25L755.0 372.21L756.0 372.17L757.0 372.13L758.0 372.09L759.0 372.05L760.0 372.02L761.0 371.98L762.0 371.94L763.0 371.91L764.0 371.87L765.0 371.83L766.0 371.80L767.0 371.76L768.0 371.73L769.0 371.69L770.0 371.66L771.0 371.62L772.0 371.59L773.0 371.56L774.0 371.52L775.0 371.49L776.0 371.46L777.0 371.42L778.0 371.39L779.0 371.36L780.0 371.33L781.0 371.30L782.0 371.26L783.0 371.23L784.0 371.20L785.0 371.17L786.0 371.14L787.0 371.11L788.0 371.08L789.0 371.05L790.0 371.02L791.0 370.99L792.0 370.96L793.0 370.93L794.0 370.90L795.0 370.87L796.0 370.84L797.0 370.81L798.0 370.78L799.0 370.76L800.0 370.73L801.0 370.70L802.0 370.67L803.0 370.64L804.0 370.61L805.0 370.59L806.0 370.56L807.0 370.53L808.0 370.50L809.0 370.48L810.0 370.45L811.0 370.42L812.0 370.39L813.0 370.37L814.0 370.34L815.0 370.31L816.0 370.29L817.0 370.26L818.0 370.23L819.0 370.20L820.0 370.18L821.0 370.15L822.0 370.12L823.0 370.10L824.0 370.07L825.0 370.04L826.0 370.02L827.0 369.99L828.0 369.96L829.0 369.94L830.0 369.91L831.0 369.88L832.0 369.85L833.0 369.83L834.0 369.80L835.0 369.77L836.0 369.75L837.0 369.72L838.0 369.69L839.0 369.66L840.0 369.64L841.0 369.61L842.0 369.58L843.0 369.55L844.0 369.53L845.0 369.50L846.0 369.47L847.0 369.44L848.0 369.42L849.0 369.39L850.0 369.36L851.0 369.33L852.0 369.31L853.0 369.28L854.0 369.25L855.0 369.22L856.0 369.20L857.0 369.17L858.0 369.14L859.0 369.12L860.0 369.09L861.0 369.06L862.0 369.03L863.0 369.01L864.0 368.98L865.0 368.95L866.0 368.93L867.0 368.90L868.0 368.87L869.0 368.85L870.0 368.82L871.0 368.79L872.0 368.77L873.0 368.74L874.0 368.71L875.0 368.69L876.0 368.66L877.0 368.63L878.0 368.61L879.0 368.58L880.0 368.55L881.0 368.53L882.0 368.50L883.0 368.48L884.0 368.45L885.0 368.42L886.0 368.40L887.0 368.37L888.0 368.35L889.0 368.32L890.0 368.29L891.0 368.27L892.0 368.24L893.0 368.22L894.0 368.19L895.0 368.17L896.0 368.14L897.0 368.12L898.0 368.09L899.0 368.06L900.0 368.04L901.0 368.01L902.0 367.99L903.0 367.96L904.0 367.94L905.0 367.91L906.0 367.89L907.0 367.86L908.0 367.84L909.0 367.81L910.0 367.79L911.0 367.76L912.0 367.74L913.0 367.71L914.0 367.69L915.0 367.67L916.0 367.64L917.0 367.62L918.0 367.59L919.0 367.57L920.0 367.54L921.0 367.52L922.0 367.50L923.0 367.47L924.0 367.45L925.0 367.42L926.0 367.40L927.0 367.38L928.0 367.35L929.0 367.33L930.0 367.30L931.0 367.28L932.0 367.26L933.0 367.24L934.0 367.21L935.0 367.19L936.0 367.17L937.0 367.15L938.0 367.13L939.0 367.11L940.0 367.10L941.0 367.08L942.0 367.07L943.0 367.06" stroke="#9a35a0" stroke-width="2.3" fill="none" stroke-linejoin="round" stroke-linecap="round" clip-path="url(#clipb)"/>
<path d="M168.0 467.71L169.0 467.58L170.0 467.41L171.0 467.24L172.0 467.06L173.0 466.89L174.0 466.73L175.0 466.58L176.0 466.44L177.0 466.30L178.0 466.17L179.0 466.04L180.0 465.92L181.0 465.81L182.0 465.71L183.0 465.61L184.0 465.52L185.0 465.43L186.0 465.35L187.0 465.28L188.0 465.21L189.0 465.15L190.0 465.09L191.0 465.04L192.0 464.99L193.0 464.95L194.0 464.92L195.0 464.89L196.0 464.86L197.0 464.84L198.0 464.82L199.0 464.81L200.0 464.81L201.0 464.81L202.0 464.83L203.0 464.86L204.0 464.92L205.0 464.99L206.0 465.08L207.0 465.18L208.0 465.30L209.0 465.43L210.0 465.56L211.0 465.71L212.0 465.85L213.0 466.00L214.0 466.15L215.0 466.29L216.0 466.44L217.0 466.57L218.0 466.70L219.0 466.82L220.0 466.92L221.0 467.01L222.0 467.08L223.0 467.14L224.0 467.17L225.0 467.19L226.0 467.19L227.0 467.19L228.0 467.18L229.0 467.17L230.0 467.16L231.0 467.14L232.0 467.13L233.0 467.10L234.0 467.08L235.0 467.06L236.0 467.03L237.0 467.00L238.0 466.97L239.0 466.94L240.0 466.91L241.0 466.88L242.0 466.84L243.0 466.81L244.0 466.78L245.0 466.74L246.0 466.71L247.0 466.67L248.0 466.63L249.0 466.60L250.0 466.56L251.0 466.53L252.0 466.49L253.0 466.45L254.0 466.41L255.0 466.36L256.0 466.31L257.0 466.26L258.0 466.20L259.0 466.14L260.0 466.07L261.0 465.98L262.0 465.88L263.0 465.75L264.0 465.59L265.0 465.40L266.0 465.18L267.0 464.95L268.0 464.69L269.0 464.42L270.0 464.13L271.0 463.84L272.0 463.54L273.0 463.23L274.0 462.93L275.0 462.63L276.0 462.34L277.0 462.07L278.0 461.80L279.0 461.55L280.0 461.33L281.0 461.13L282.0 460.95L283.0 460.81L284.0 460.70L285.0 460.62L286.0 460.56L287.0 460.51L288.0 460.47L289.0 460.44L290.0 460.40L291.0 460.38L292.0 460.35L293.0 460.33L294.0 460.31L295.0 460.29L296.0 460.27L297.0 460.24L298.0 460.22L299.0 460.19L300.0 460.16L301.0 460.13L302.0 460.09L303.0 460.04L304.0 459.98L305.0 459.90L306.0 459.79L307.0 459.65L308.0 459.48L309.0 459.28L310.0 459.06L311.0 458.82L312.0 458.56L313.0 458.29L314.0 458.01L315.0 457.73L316.0 457.44L317.0 457.16L318.0 456.88L319.0 456.62L320.0 456.36L321.0 456.12L322.0 455.91L323.0 455.71L324.0 455.55L325.0 455.41L326.0 455.31L327.0 455.25L328.0 455.23L329.0 455.25L330.0 455.30L331.0 455.39L332.0 455.50L333.0 455.65L334.0 455.82L335.0 456.01L336.0 456.23L337.0 456.45L338.0 456.69L339.0 456.95L340.0 457.20L341.0 457.47L342.0 457.73L343.0 458.00L344.0 458.25L345.0 458.51L346.0 458.75L347.0 458.97L348.0 459.19L349.0 459.38L350.0 459.55L351.0 459.70L352.0 459.81L353.0 459.90L354.0 459.95L355.0 459.96L356.0 459.92L357.0 459.82L358.0 459.67L359.0 459.45L360.0 459.19L361.0 458.87L362.0 458.51L363.0 458.11L364.0 457.67L365.0 457.20L366.0 456.71L367.0 456.18L368.0 455.64L369.0 455.08L370.0 454.51L371.0 453.93L372.0 453.35L373.0 452.77L374.0 452.19L375.0 451.62L376.0 451.06L377.0 450.52L378.0 449.99L379.0 449.50L380.0 449.03L381.0 448.59L382.0 448.19L383.0 447.83L384.0 447.51L385.0 447.25L386.0 447.03L387.0 446.88L388.0 446.78L389.0 446.74L390.0 446.75L391.0 446.81L392.0 446.90L393.0 447.03L394.0 447.19L395.0 447.37L396.0 447.58L397.0 447.80L398.0 448.04L399.0 448.29L400.0 448.54L401.0 448.80L402.0 449.06L403.0 449.31L404.0 449.56L405.0 449.80L406.0 450.02L407.0 450.23L408.0 450.41L409.0 450.57L410.0 450.70L411.0 450.79L412.0 450.85L413.0 450.89L414.0 450.90L415.0 450.90L416.0 450.90L417.0 450.90L418.0 450.90L419.0 450.90L420.0 450.90L421.0 450.90L422.0 450.90L423.0 450.89L424.0 450.86L425.0 450.78L426.0 450.62L427.0 450.37L428.0 450.03L429.0 449.62L430.0 449.14L431.0 448.58L432.0 447.98L433.0 447.34L434.0 446.67L435.0 445.97L436.0 445.27L437.0 444.55L438.0 443.84L439.0 443.12L440.0 442.40L441.0 441.65L442.0 440.86L443.0 440.02L444.0 439.14L445.0 438.24L446.0 437.33L447.0 436.41L448.0 435.50L449.0 434.61L450.0 433.73L451.0 432.88L452.0 432.04L453.0 431.20L454.0 430.37L455.0 429.54L456.0 428.72L457.0 427.92L458.0 427.13L459.0 426.35L460.0 425.61L461.0 424.89L462.0 424.20L463.0 423.54L464.0 422.91L465.0 422.31L466.0 421.75L467.0 421.22L468.0 420.72L469.0 420.24L470.0 419.79L471.0 419.35L472.0 418.94L473.0 418.54L474.0 418.17L475.0 417.80L476.0 417.46L477.0 417.13L478.0 416.81L479.0 416.50L480.0 416.21L481.0 415.92L482.0 415.64L483.0 415.38L484.0 415.12L485.0 414.88L486.0 414.64L487.0 414.41L488.0 414.19L489.0 413.97L490.0 413.76L491.0 413.56L492.0 413.36L493.0 413.16L494.0 412.97L495.0 412.77L496.0 412.58L497.0 412.39L498.0 412.19L499.0 411.99L500.0 411.79L501.0 411.59L502.0 411.37L503.0 411.16L504.0 410.93L505.0 410.70L506.0 410.46L507.0 410.21L508.0 409.95L509.0 409.69L510.0 409.42L511.0 409.14L512.0 408.85L513.0 408.56L514.0 408.27L515.0 407.97L516.0 407.66L517.0 407.36L518.0 407.05L519.0 406.74L520.0 406.43L521.0 406.13L522.0 405.82L523.0 405.51L524.0 405.20L525.0 404.90L526.0 404.60L527.0 404.29L528.0 403.99L529.0 403.69L530.0 403.39L531.0 403.08L532.0 402.78L533.0 402.48L534.0 402.18L535.0 401.87L536.0 401.57L537.0 401.26L538.0 400.96L539.0 400.65L540.0 400.34L541.0 400.03L542.0 399.71L543.0 399.40L544.0 399.08L545.0 398.76L546.0 398.43L547.0 398.10L548.0 397.77L549.0 397.44L550.0 397.09L551.0 396.75L552.0 396.40L553.0 396.05L554.0 395.69L555.0 395.32L556.0 394.95L557.0 394.58L558.0 394.19L559.0 393.81L560.0 393.42L561.0 393.03L562.0 392.63L563.0 392.23L564.0 391.82L565.0 391.41L566.0 391.01L567.0 390.59L568.0 390.18L569.0 389.77L570.0 389.36L571.0 388.94L572.0 388.53L573.0 388.12L574.0 387.72L575.0 387.31L576.0 386.91L577.0 386.51L578.0 386.12L579.0 385.73L580.0 385.34L581.0 384.96L582.0 384.59L583.0 384.22L584.0 383.86L585.0 383.51L586.0 383.16L587.0 382.82L588.0 382.48L589.0 382.16L590.0 381.83L591.0 381.52L592.0 381.20L593.0 380.90L594.0 380.60L595.0 380.30L596.0 380.01L597.0 379.72L598.0 379.44L599.0 379.16L600.0 378.89L601.0 378.62L602.0 378.36L603.0 378.10L604.0 377.85L605.0 377.60L606.0 377.36L607.0 377.13L608.0 376.90L609.0 376.68L610.0 376.46L611.0 376.25L612.0 376.05L613.0 375.86L614.0 375.67L615.0 375.48L616.0 375.31L617.0 375.13L618.0 374.97L619.0 374.80L620.0 374.65L621.0 374.49L622.0 374.35L623.0 374.20L624.0 374.06L625.0 373.92L626.0 373.79L627.0 373.65L628.0 373.53L629.0 373.40L630.0 373.28L631.0 373.16L632.0 373.04L633.0 372.92L634.0 372.81L635.0 372.70L636.0 372.60L637.0 372.50L638.0 372.39L639.0 372.30L640.0 372.20L641.0 372.11L642.0 372.02L643.0 371.93L644.0 371.85L645.0 371.77L646.0 371.69L647.0 371.61L648.0 371.54L649.0 371.46L650.0 371.39L651.0 371.32L652.0 371.25L653.0 371.19L654.0 371.12L655.0 371.06L656.0 371.00L657.0 370.94L658.0 370.88L659.0 370.82L660.0 370.76L661.0 370.71L662.0 370.65L663.0 370.60L664.0 370.55L665.0 370.50L666.0 370.45L667.0 370.40L668.0 370.36L669.0 370.31L670.0 370.27L671.0 370.23L672.0 370.19L673.0 370.15L674.0 370.11L675.0 370.08L676.0 370.04L677.0 370.01L678.0 369.98L679.0 369.95L680.0 369.92L681.0 369.89L682.0 369.87L683.0 369.84L684.0 369.81L685.0 369.79L686.0 369.77L687.0 369.74L688.0 369.72L689.0 369.70L690.0 369.68L691.0 369.66L692.0 369.64L693.0 369.62L694.0 369.60L695.0 369.58L696.0 369.56L697.0 369.54L698.0 369.53L699.0 369.51L700.0 369.49L701.0 369.48L702.0 369.46L703.0 369.44L704.0 369.43L705.0 369.41L706.0 369.40L707.0 369.38L708.0 369.37L709.0 369.35L710.0 369.34L711.0 369.33L712.0 369.31L713.0 369.30L714.0 369.28L715.0 369.27L716.0 369.26L717.0 369.24L718.0 369.23L719.0 369.22L720.0 369.21L721.0 369.19L722.0 369.18L723.0 369.17L724.0 369.15L725.0 369.14L726.0 369.13L727.0 369.12L728.0 369.10L729.0 369.09L730.0 369.08L731.0 369.07L732.0 369.05L733.0 369.04L734.0 369.03L735.0 369.01L736.0 369.00L737.0 368.99L738.0 368.97L739.0 368.96L740.0 368.95L741.0 368.93L742.0 368.92L743.0 368.90L744.0 368.89L745.0 368.87L746.0 368.86L747.0 368.84L748.0 368.83L749.0 368.81L750.0 368.80L751.0 368.78L752.0 368.77L753.0 368.75L754.0 368.73L755.0 368.72L756.0 368.70L757.0 368.68L758.0 368.67L759.0 368.65L760.0 368.64L761.0 368.62L762.0 368.60L763.0 368.59L764.0 368.57L765.0 368.55L766.0 368.54L767.0 368.52L768.0 368.50L769.0 368.49L770.0 368.47L771.0 368.45L772.0 368.44L773.0 368.42L774.0 368.40L775.0 368.39L776.0 368.37L777.0 368.35L778.0 368.34L779.0 368.32L780.0 368.30L781.0 368.28L782.0 368.27L783.0 368.25L784.0 368.23L785.0 368.22L786.0 368.20L787.0 368.18L788.0 368.17L789.0 368.15L790.0 368.13L791.0 368.11L792.0 368.10L793.0 368.08L794.0 368.06L795.0 368.05L796.0 368.03L797.0 368.01L798.0 368.00L799.0 367.98L800.0 367.96L801.0 367.94L802.0 367.93L803.0 367.91L804.0 367.89L805.0 367.88L806.0 367.86L807.0 367.84L808.0 367.82L809.0 367.81L810.0 367.79L811.0 367.77L812.0 367.76L813.0 367.74L814.0 367.72L815.0 367.71L816.0 367.69L817.0 367.67L818.0 367.65L819.0 367.64L820.0 367.62L821.0 367.60L822.0 367.59L823.0 367.57L824.0 367.55L825.0 367.54L826.0 367.52L827.0 367.50L828.0 367.49L829.0 367.47L830.0 367.45L831.0 367.43L832.0 367.42L833.0 367.40L834.0 367.38L835.0 367.37L836.0 367.35L837.0 367.33L838.0 367.32L839.0 367.30L840.0 367.28L841.0 367.27L842.0 367.25L843.0 367.23L844.0 367.22L845.0 367.20L846.0 367.18L847.0 367.17L848.0 367.15L849.0 367.13L850.0 367.12L851.0 367.10L852.0 367.08L853.0 367.07L854.0 367.05L855.0 367.03L856.0 367.02L857.0 367.00L858.0 366.98L859.0 366.97L860.0 366.95L861.0 366.94L862.0 366.92L863.0 366.90L864.0 366.89L865.0 366.87L866.0 366.85L867.0 366.84L868.0 366.82L869.0 366.80L870.0 366.79L871.0 366.77L872.0 366.75L873.0 366.74L874.0 366.72L875.0 366.70L876.0 366.69L877.0 366.67L878.0 366.66L879.0 366.64L880.0 366.62L881.0 366.61L882.0 366.59L883.0 366.57L884.0 366.56L885.0 366.54L886.0 366.52L887.0 366.51L888.0 366.49L889.0 366.48L890.0 366.46L891.0 366.44L892.0 366.43L893.0 366.41L894.0 366.39L895.0 366.38L896.0 366.36L897.0 366.34L898.0 366.33L899.0 366.31L900.0 366.30L901.0 366.28L902.0 366.26L903.0 366.25L904.0 366.23L905.0 366.21L906.0 366.20L907.0 366.18L908.0 366.17L909.0 366.15L910.0 366.13L911.0 366.12L912.0 366.10L913.0 366.08L914.0 366.07L915.0 366.05L916.0 366.04L917.0 366.02L918.0 366.00L919.0 365.99L920.0 365.97L921.0 365.95L922.0 365.94L923.0 365.92L924.0 365.91L925.0 365.89L926.0 365.87L927.0 365.86L928.0 365.84L929.0 365.83L930.0 365.81L931.0 365.79L932.0 365.78L933.0 365.76L934.0 365.75L935.0 365.73L936.0 365.72L937.0 365.70L938.0 365.69L939.0 365.68L940.0 365.67L941.0 365.66L942.0 365.65L943.0 365.64" stroke="#de4f36" stroke-width="2.3" fill="none" stroke-linejoin="round" stroke-linecap="round" clip-path="url(#clipb)"/>
<path d="M168.0 465.28L169.0 465.11L170.0 464.88L171.0 464.64L172.0 464.41L173.0 464.18L174.0 463.96L175.0 463.75L176.0 463.55L177.0 463.36L178.0 463.18L179.0 463.00L180.0 462.84L181.0 462.68L182.0 462.53L183.0 462.39L184.0 462.26L185.0 462.14L186.0 462.02L187.0 461.91L188.0 461.81L189.0 461.72L190.0 461.64L191.0 461.56L192.0 461.49L193.0 461.43L194.0 461.38L195.0 461.33L196.0 461.29L197.0 461.26L198.0 461.24L199.0 461.22L200.0 461.21L201.0 461.21L202.0 461.23L203.0 461.27L204.0 461.34L205.0 461.42L206.0 461.53L207.0 461.65L208.0 461.78L209.0 461.93L210.0 462.09L211.0 462.26L212.0 462.43L213.0 462.60L214.0 462.77L215.0 462.94L216.0 463.11L217.0 463.27L218.0 463.42L219.0 463.55L220.0 463.67L221.0 463.78L222.0 463.86L223.0 463.93L224.0 463.97L225.0 463.99L226.0 463.99L227.0 463.98L228.0 463.96L229.0 463.93L230.0 463.90L231.0 463.87L232.0 463.82L233.0 463.78L234.0 463.73L235.0 463.68L236.0 463.62L237.0 463.57L238.0 463.51L239.0 463.45L240.0 463.40L241.0 463.34L242.0 463.29L243.0 463.23L244.0 463.19L245.0 463.14L246.0 463.10L247.0 463.06L248.0 463.03L249.0 463.00L250.0 462.98L251.0 462.96L252.0 462.95L253.0 462.93L254.0 462.92L255.0 462.91L256.0 462.90L257.0 462.88L258.0 462.86L259.0 462.85L260.0 462.82L261.0 462.78L262.0 462.71L263.0 462.60L264.0 462.45L265.0 462.25L266.0 462.01L267.0 461.74L268.0 461.44L269.0 461.11L270.0 460.75L271.0 460.39L272.0 460.00L273.0 459.61L274.0 459.22L275.0 458.82L276.0 458.43L277.0 458.05L278.0 457.68L279.0 457.33L280.0 457.00L281.0 456.70L282.0 456.42L283.0 456.19L284.0 455.99L285.0 455.82L286.0 455.68L287.0 455.57L288.0 455.46L289.0 455.37L290.0 455.28L291.0 455.20L292.0 455.13L293.0 455.05L294.0 454.99L295.0 454.92L296.0 454.85L297.0 454.78L298.0 454.70L299.0 454.62L300.0 454.54L301.0 454.44L302.0 454.33L303.0 454.22L304.0 454.08L305.0 453.91L306.0 453.70L307.0 453.45L308.0 453.17L309.0 452.85L310.0 452.50L311.0 452.13L312.0 451.74L313.0 451.34L314.0 450.93L315.0 450.51L316.0 450.10L317.0 449.69L318.0 449.29L319.0 448.91L320.0 448.54L321.0 448.21L322.0 447.90L323.0 447.62L324.0 447.39L325.0 447.20L326.0 447.06L327.0 446.97L328.0 446.93L329.0 446.94L330.0 446.98L331.0 447.06L332.0 447.15L333.0 447.28L334.0 447.42L335.0 447.58L336.0 447.76L337.0 447.94L338.0 448.15L339.0 448.36L340.0 448.57L341.0 448.79L342.0 449.01L343.0 449.23L344.0 449.44L345.0 449.65L346.0 449.86L347.0 450.04L348.0 450.22L349.0 450.38L350.0 450.52L351.0 450.65L352.0 450.74L353.0 450.82L354.0 450.86L355.0 450.86L356.0 450.80L357.0 450.68L358.0 450.48L359.0 450.22L360.0 449.90L361.0 449.51L362.0 449.08L363.0 448.61L364.0 448.10L365.0 447.55L366.0 446.98L367.0 446.40L368.0 445.80L369.0 445.20L370.0 444.59L371.0 444.00L372.0 443.41L373.0 442.85L374.0 442.31L375.0 441.79L376.0 441.30L377.0 440.81L378.0 440.29L379.0 439.75L380.0 439.19L381.0 438.61L382.0 438.02L383.0 437.43L384.0 436.85L385.0 436.27L386.0 435.72L387.0 435.20L388.0 434.71L389.0 434.26L390.0 433.86L391.0 433.52L392.0 433.24L393.0 433.03L394.0 432.90L395.0 432.85L396.0 432.85L397.0 432.89L398.0 432.97L399.0 433.08L400.0 433.21L401.0 433.35L402.0 433.51L403.0 433.68L404.0 433.85L405.0 434.02L406.0 434.19L407.0 434.35L408.0 434.49L409.0 434.62L410.0 434.73L411.0 434.81L412.0 434.86L413.0 434.89L414.0 434.90L415.0 434.90L416.0 434.90L417.0 434.90L418.0 434.90L419.0 434.90L420.0 434.90L421.0 434.90L422.0 434.90L423.0 434.89L424.0 434.87L425.0 434.80L426.0 434.67L427.0 434.47L428.0 434.20L429.0 433.87L430.0 433.48L431.0 433.03L432.0 432.54L433.0 432.02L434.0 431.47L435.0 430.90L436.0 430.31L437.0 429.72L438.0 429.12L439.0 428.51L440.0 427.89L441.0 427.24L442.0 426.55L443.0 425.81L444.0 425.03L445.0 424.22L446.0 423.38L447.0 422.54L448.0 421.69L449.0 420.85L450.0 420.01L451.0 419.18L452.0 418.35L453.0 417.50L454.0 416.66L455.0 415.80L456.0 414.95L457.0 414.10L458.0 413.27L459.0 412.44L460.0 411.64L461.0 410.86L462.0 410.11L463.0 409.39L464.0 408.70L465.0 408.04L466.0 407.42L467.0 406.82L468.0 406.26L469.0 405.72L470.0 405.20L471.0 404.70L472.0 404.22L473.0 403.75L474.0 403.30L475.0 402.87L476.0 402.44L477.0 402.03L478.0 401.64L479.0 401.25L480.0 400.87L481.0 400.50L482.0 400.13L483.0 399.77L484.0 399.42L485.0 399.07L486.0 398.72L487.0 398.38L488.0 398.05L489.0 397.71L490.0 397.38L491.0 397.04L492.0 396.71L493.0 396.38L494.0 396.04L495.0 395.71L496.0 395.37L497.0 395.04L498.0 394.70L499.0 394.36L500.0 394.02L501.0 393.67L502.0 393.33L503.0 392.99L504.0 392.65L505.0 392.30L506.0 391.96L507.0 391.63L508.0 391.29L509.0 390.96L510.0 390.63L511.0 390.30L512.0 389.98L513.0 389.67L514.0 389.36L515.0 389.05L516.0 388.75L517.0 388.46L518.0 388.18L519.0 387.90L520.0 387.63L521.0 387.36L522.0 387.10L523.0 386.85L524.0 386.60L525.0 386.36L526.0 386.12L527.0 385.89L528.0 385.66L529.0 385.44L530.0 385.22L531.0 385.00L532.0 384.79L533.0 384.58L534.0 384.37L535.0 384.16L536.0 383.96L537.0 383.76L538.0 383.56L539.0 383.36L540.0 383.16L541.0 382.96L542.0 382.77L543.0 382.57L544.0 382.37L545.0 382.17L546.0 381.98L547.0 381.78L548.0 381.58L549.0 381.38L550.0 381.17L551.0 380.97L552.0 380.77L553.0 380.56L554.0 380.35L555.0 380.14L556.0 379.93L557.0 379.72L558.0 379.51L559.0 379.30L560.0 379.08L561.0 378.87L562.0 378.65L563.0 378.44L564.0 378.23L565.0 378.01L566.0 377.80L567.0 377.59L568.0 377.38L569.0 377.18L570.0 376.97L571.0 376.77L572.0 376.57L573.0 376.37L574.0 376.18L575.0 375.99L576.0 375.81L577.0 375.63L578.0 375.45L579.0 375.27L580.0 375.11L581.0 374.94L582.0 374.78L583.0 374.62L584.0 374.47L585.0 374.32L586.0 374.17L587.0 374.03L588.0 373.89L589.0 373.75L590.0 373.62L591.0 373.49L592.0 373.36L593.0 373.23L594.0 373.10L595.0 372.98L596.0 372.86L597.0 372.74L598.0 372.63L599.0 372.51L600.0 372.40L601.0 372.29L602.0 372.18L603.0 372.08L604.0 371.98L605.0 371.88L606.0 371.78L607.0 371.68L608.0 371.59L609.0 371.50L610.0 371.41L611.0 371.33L612.0 371.25L613.0 371.17L614.0 371.09L615.0 371.01L616.0 370.94L617.0 370.87L618.0 370.80L619.0 370.73L620.0 370.67L621.0 370.60L622.0 370.54L623.0 370.48L624.0 370.42L625.0 370.37L626.0 370.31L627.0 370.25L628.0 370.20L629.0 370.15L630.0 370.10L631.0 370.05L632.0 370.00L633.0 369.95L634.0 369.90L635.0 369.85L636.0 369.81L637.0 369.76L638.0 369.72L639.0 369.67L640.0 369.63L641.0 369.59L642.0 369.55L643.0 369.51L644.0 369.46L645.0 369.42L646.0 369.38L647.0 369.34L648.0 369.30L649.0 369.27L650.0 369.23L651.0 369.19L652.0 369.15L653.0 369.11L654.0 369.08L655.0 369.04L656.0 369.00L657.0 368.96L658.0 368.93L659.0 368.89L660.0 368.86L661.0 368.82L662.0 368.79L663.0 368.76L664.0 368.72L665.0 368.69L666.0 368.66L667.0 368.63L668.0 368.60L669.0 368.57L670.0 368.54L671.0 368.52L672.0 368.49L673.0 368.46L674.0 368.44L675.0 368.42L676.0 368.40L677.0 368.37L678.0 368.35L679.0 368.33L680.0 368.32L681.0 368.30L682.0 368.28L683.0 368.26L684.0 368.25L685.0 368.23L686.0 368.22L687.0 368.20L688.0 368.19L689.0 368.18L690.0 368.16L691.0 368.15L692.0 368.14L693.0 368.13L694.0 368.11L695.0 368.10L696.0 368.09L697.0 368.08L698.0 368.07L699.0 368.06L700.0 368.05L701.0 368.04L702.0 368.03L703.0 368.02L704.0 368.01L705.0 368.00L706.0 367.99L707.0 367.98L708.0 367.98L709.0 367.97L710.0 367.96L711.0 367.95L712.0 367.94L713.0 367.93L714.0 367.93L715.0 367.92L716.0 367.91L717.0 367.90L718.0 367.89L719.0 367.89L720.0 367.88L721.0 367.87L722.0 367.86L723.0 367.85L724.0 367.85L725.0 367.84L726.0 367.83L727.0 367.82L728.0 367.81L729.0 367.81L730.0 367.80L731.0 367.79L732.0 367.78L733.0 367.77L734.0 367.76L735.0 367.75L736.0 367.74L737.0 367.74L738.0 367.73L739.0 367.72L740.0 367.71L741.0 367.70L742.0 367.69L743.0 367.68L744.0 367.66L745.0 367.65L746.0 367.64L747.0 367.63L748.0 367.62L749.0 367.61L750.0 367.60L751.0 367.58L752.0 367.57L753.0 367.56L754.0 367.55L755.0 367.53L756.0 367.52L757.0 367.51L758.0 367.49L759.0 367.48L760.0 367.46L761.0 367.45L762.0 367.44L763.0 367.42L764.0 367.41L765.0 367.39L766.0 367.38L767.0 367.36L768.0 367.35L769.0 367.33L770.0 367.32L771.0 367.30L772.0 367.28L773.0 367.27L774.0 367.25L775.0 367.24L776.0 367.22L777.0 367.20L778.0 367.19L779.0 367.17L780.0 367.15L781.0 367.14L782.0 367.12L783.0 367.10L784.0 367.09L785.0 367.07L786.0 367.05L787.0 367.03L788.0 367.02L789.0 367.00L790.0 366.98L791.0 366.96L792.0 366.95L793.0 366.93L794.0 366.91L795.0 366.89L796.0 366.88L797.0 366.86L798.0 366.84L799.0 366.82L800.0 366.80L801.0 366.79L802.0 366.77L803.0 366.75L804.0 366.73L805.0 366.71L806.0 366.70L807.0 366.68L808.0 366.66L809.0 366.64L810.0 366.62L811.0 366.60L812.0 366.59L813.0 366.57L814.0 366.55L815.0 366.53L816.0 366.51L817.0 366.49L818.0 366.48L819.0 366.46L820.0 366.44L821.0 366.42L822.0 366.40L823.0 366.39L824.0 366.37L825.0 366.35L826.0 366.33L827.0 366.31L828.0 366.30L829.0 366.28L830.0 366.26L831.0 366.24L832.0 366.22L833.0 366.21L834.0 366.19L835.0 366.17L836.0 366.15L837.0 366.14L838.0 366.12L839.0 366.10L840.0 366.09L841.0 366.07L842.0 366.05L843.0 366.03L844.0 366.02L845.0 366.00L846.0 365.98L847.0 365.97L848.0 365.95L849.0 365.93L850.0 365.92L851.0 365.90L852.0 365.88L853.0 365.87L854.0 365.85L855.0 365.83L856.0 365.82L857.0 365.80L858.0 365.78L859.0 365.77L860.0 365.75L861.0 365.74L862.0 365.72L863.0 365.70L864.0 365.69L865.0 365.67L866.0 365.65L867.0 365.64L868.0 365.62L869.0 365.60L870.0 365.59L871.0 365.57L872.0 365.55L873.0 365.54L874.0 365.52L875.0 365.50L876.0 365.49L877.0 365.47L878.0 365.46L879.0 365.44L880.0 365.42L881.0 365.41L882.0 365.39L883.0 365.37L884.0 365.36L885.0 365.34L886.0 365.32L887.0 365.31L888.0 365.29L889.0 365.28L890.0 365.26L891.0 365.24L892.0 365.23L893.0 365.21L894.0 365.19L895.0 365.18L896.0 365.16L897.0 365.14L898.0 365.13L899.0 365.11L900.0 365.10L901.0 365.08L902.0 365.06L903.0 365.05L904.0 365.03L905.0 365.01L906.0 365.00L907.0 364.98L908.0 364.97L909.0 364.95L910.0 364.93L911.0 364.92L912.0 364.90L913.0 364.88L914.0 364.87L915.0 364.85L916.0 364.84L917.0 364.82L918.0 364.80L919.0 364.79L920.0 364.77L921.0 364.75L922.0 364.74L923.0 364.72L924.0 364.71L925.0 364.69L926.0 364.67L927.0 364.66L928.0 364.64L929.0 364.63L930.0 364.61L931.0 364.59L932.0 364.58L933.0 364.56L934.0 364.55L935.0 364.53L936.0 364.52L937.0 364.50L938.0 364.49L939.0 364.48L940.0 364.47L941.0 364.46L942.0 364.45L943.0 364.44" stroke="#eca83a" stroke-width="2.3" fill="none" stroke-linejoin="round" stroke-linecap="round" clip-path="url(#clipb)"/>
<path d="M168.0 510.61L169.0 510.63L170.0 510.67L171.0 510.72L172.0 510.80L173.0 510.89L174.0 511.01L175.0 511.17L176.0 511.42L177.0 511.79L178.0 512.31L179.0 512.94L180.0 513.68L181.0 514.49L182.0 515.35L183.0 516.24L184.0 517.14L185.0 518.02L186.0 518.85L187.0 519.62L188.0 520.30L189.0 520.87L190.0 521.30L191.0 521.58L192.0 521.71L193.0 521.73L194.0 521.68L195.0 521.58L196.0 521.44L197.0 521.27L198.0 521.09L199.0 520.88L200.0 520.67L201.0 520.45L202.0 520.23L203.0 520.02L204.0 519.81L205.0 519.63L206.0 519.46L207.0 519.32L208.0 519.22L209.0 519.16L210.0 519.15L211.0 519.21L212.0 519.35L213.0 519.57L214.0 519.87L215.0 520.23L216.0 520.65L217.0 521.11L218.0 521.61L219.0 522.14L220.0 522.69L221.0 523.25L222.0 523.81L223.0 524.36L224.0 524.89L225.0 525.39L226.0 525.85L227.0 526.27L228.0 526.63L229.0 526.93L230.0 527.15L231.0 527.29L232.0 527.35L233.0 527.33L234.0 527.27L235.0 527.15L236.0 527.00L237.0 526.83L238.0 526.63L239.0 526.42L240.0 526.20L241.0 525.98L242.0 525.77L243.0 525.57L244.0 525.40L245.0 525.25L246.0 525.13L247.0 525.06L248.0 525.04L249.0 525.08L250.0 525.18L251.0 525.33L252.0 525.55L253.0 525.81L254.0 526.11L255.0 526.45L256.0 526.83L257.0 527.23L258.0 527.65L259.0 528.09L260.0 528.54L261.0 529.00L262.0 529.46L263.0 529.91L264.0 530.35L265.0 530.77L266.0 531.17L267.0 531.55L268.0 531.89L269.0 532.19L270.0 532.45L271.0 532.67L272.0 532.82L273.0 532.92L274.0 532.95L275.0 532.91L276.0 532.81L277.0 532.64L278.0 532.42L279.0 532.15L280.0 531.85L281.0 531.51L282.0 531.15L283.0 530.79L284.0 530.41L285.0 530.05L286.0 529.69L287.0 529.35L288.0 529.05L289.0 528.78L290.0 528.56L291.0 528.39L292.0 528.29L293.0 528.25L294.0 528.26L295.0 528.33L296.0 528.45L297.0 528.61L298.0 528.81L299.0 529.04L300.0 529.30L301.0 529.59L302.0 529.90L303.0 530.22L304.0 530.56L305.0 530.91L306.0 531.27L307.0 531.63L308.0 531.99L309.0 532.34L310.0 532.68L311.0 533.00L312.0 533.31L313.0 533.60L314.0 533.86L315.0 534.09L316.0 534.29L317.0 534.45L318.0 534.57L319.0 534.64L320.0 534.66L321.0 534.64L322.0 534.58L323.0 534.47L324.0 534.32L325.0 534.14L326.0 533.93L327.0 533.70L328.0 533.44L329.0 533.17L330.0 532.89L331.0 532.60L332.0 532.30L333.0 532.00L334.0 531.71L335.0 531.43L336.0 531.16L337.0 530.90L338.0 530.67L339.0 530.46L340.0 530.28L341.0 530.13L342.0 530.02L343.0 529.96L344.0 529.93L345.0 529.94L346.0 529.98L347.0 530.05L348.0 530.14L349.0 530.26L350.0 530.40L351.0 530.57L352.0 530.75L353.0 530.96L354.0 531.18L355.0 531.42L356.0 531.68L357.0 531.94L358.0 532.23L359.0 532.52L360.0 532.82L361.0 533.13L362.0 533.45L363.0 533.78L364.0 534.11L365.0 534.44L366.0 534.78L367.0 535.12L368.0 535.45L369.0 535.79L370.0 536.12L371.0 536.45L372.0 536.77L373.0 537.08L374.0 537.39L375.0 537.69L376.0 537.98L377.0 538.25L378.0 538.51L379.0 538.76L380.0 538.99L381.0 539.22L382.0 539.44L383.0 539.65L384.0 539.86L385.0 540.07L386.0 540.27L387.0 540.48L388.0 540.68L389.0 540.87L390.0 541.07L391.0 541.27L392.0 541.46L393.0 541.65L394.0 541.85L395.0 542.04L396.0 542.23L397.0 542.42L398.0 542.61L399.0 542.80L400.0 542.99L401.0 543.19L402.0 543.38L403.0 543.58L404.0 543.77L405.0 543.97L406.0 544.17L407.0 544.38L408.0 544.58L409.0 544.79L410.0 545.00L411.0 545.22L412.0 545.44L413.0 545.66L414.0 545.89L415.0 546.12L416.0 546.35L417.0 546.58L418.0 546.82L419.0 547.05L420.0 547.29L421.0 547.52L422.0 547.76L423.0 547.99L424.0 548.21L425.0 548.44L426.0 548.66L427.0 548.88L428.0 549.09L429.0 549.30L430.0 549.49L431.0 549.69L432.0 549.87L433.0 550.05L434.0 550.23L435.0 550.40L436.0 550.56L437.0 550.73L438.0 550.89L439.0 551.05L440.0 551.21L441.0 551.37L442.0 551.53L443.0 551.70L444.0 551.87L445.0 552.04L446.0 552.22L447.0 552.41L448.0 552.60L449.0 552.80L450.0 553.01L451.0 553.22L452.0 553.45L453.0 553.68L454.0 553.92L455.0 554.17L456.0 554.42L457.0 554.68L458.0 554.94L459.0 555.21L460.0 555.49L461.0 555.77L462.0 556.05L463.0 556.34L464.0 556.63L465.0 556.93L466.0 557.23L467.0 557.53L468.0 557.83L469.0 558.14L470.0 558.44L471.0 558.75L472.0 559.06L473.0 559.36L474.0 559.67L475.0 559.98L476.0 560.29L477.0 560.59L478.0 560.90L479.0 561.20L480.0 561.50L481.0 561.80L482.0 562.10L483.0 562.40L484.0 562.71L485.0 563.01L486.0 563.32L487.0 563.63L488.0 563.94L489.0 564.25L490.0 564.56L491.0 564.87L492.0 565.18L493.0 565.50L494.0 565.81L495.0 566.13L496.0 566.45L497.0 566.77L498.0 567.08L499.0 567.40L500.0 567.72L501.0 568.05L502.0 568.37L503.0 568.69L504.0 569.01L505.0 569.34L506.0 569.66L507.0 569.98L508.0 570.31L509.0 570.63L510.0 570.96L511.0 571.29L512.0 571.61L513.0 571.94L514.0 572.26L515.0 572.59L516.0 572.92L517.0 573.24L518.0 573.57L519.0 573.90L520.0 574.22L521.0 574.55L522.0 574.87L523.0 575.20L524.0 575.53L525.0 575.85L526.0 576.18L527.0 576.50L528.0 576.83L529.0 577.15L530.0 577.48L531.0 577.80L532.0 578.13L533.0 578.45L534.0 578.78L535.0 579.10L536.0 579.43L537.0 579.75L538.0 580.08L539.0 580.40L540.0 580.73L541.0 581.06L542.0 581.39L543.0 581.71L544.0 582.04L545.0 582.37L546.0 582.70L547.0 583.03L548.0 583.36L549.0 583.69L550.0 584.02L551.0 584.35L552.0 584.69L553.0 585.02L554.0 585.36L555.0 585.69L556.0 586.03L557.0 586.36L558.0 586.70L559.0 587.04L560.0 587.38L561.0 587.72L562.0 588.07L563.0 588.41L564.0 588.75L565.0 589.10L566.0 589.45L567.0 589.79L568.0 590.14L569.0 590.50L570.0 590.85L571.0 591.20L572.0 591.56L573.0 591.92L574.0 592.29L575.0 592.65L576.0 593.03L577.0 593.40L578.0 593.78L579.0 594.16L580.0 594.55L581.0 594.93L582.0 595.32L583.0 595.70L584.0 596.09L585.0 596.48L586.0 596.87L587.0 597.26L588.0 597.65L589.0 598.04L590.0 598.42L591.0 598.81L592.0 599.19L593.0 599.57L594.0 599.95L595.0 600.33L596.0 600.70L597.0 601.07L598.0 601.44L599.0 601.80L600.0 602.15L601.0 602.51L602.0 602.85L603.0 603.20L604.0 603.54L605.0 603.89L606.0 604.23L607.0 604.58L608.0 604.93L609.0 605.28L610.0 605.62L611.0 605.97L612.0 606.32L613.0 606.66L614.0 607.00L615.0 607.34L616.0 607.67L617.0 608.00L618.0 608.33L619.0 608.65L620.0 608.96L621.0 609.26L622.0 609.56L623.0 609.85L624.0 610.13L625.0 610.40L626.0 610.66L627.0 610.91L628.0 611.14L629.0 611.37L630.0 611.58L631.0 611.79L632.0 611.99L633.0 612.19L634.0 612.39L635.0 612.58L636.0 612.76L637.0 612.94L638.0 613.11L639.0 613.27L640.0 613.43L641.0 613.57L642.0 613.71L643.0 613.83L644.0 613.95L645.0 614.05L646.0 614.15L647.0 614.24L648.0 614.32L649.0 614.41L650.0 614.48L651.0 614.56L652.0 614.62L653.0 614.68L654.0 614.74L655.0 614.78L656.0 614.82L657.0 614.85L658.0 614.87L659.0 614.87L660.0 614.87L661.0 614.86L662.0 614.84L663.0 614.80L664.0 614.76L665.0 614.70L666.0 614.64L667.0 614.57L668.0 614.49L669.0 614.40L670.0 614.31L671.0 614.20L672.0 614.09L673.0 613.97L674.0 613.84L675.0 613.70L676.0 613.55L677.0 613.38L678.0 613.21L679.0 613.03L680.0 612.83L681.0 612.63L682.0 612.42L683.0 612.20L684.0 611.97L685.0 611.73L686.0 611.48L687.0 611.23L688.0 610.97L689.0 610.71L690.0 610.44L691.0 610.16L692.0 609.89L693.0 609.60L694.0 609.32L695.0 609.02L696.0 608.73L697.0 608.43L698.0 608.13L699.0 607.82L700.0 607.51L701.0 607.19L702.0 606.87L703.0 606.54L704.0 606.21L705.0 605.88L706.0 605.55L707.0 605.21L708.0 604.87L709.0 604.53L710.0 604.19L711.0 603.85L712.0 603.51L713.0 603.17L714.0 602.83L715.0 602.50L716.0 602.17L717.0 601.84L718.0 601.51L719.0 601.19L720.0 600.87L721.0 600.55L722.0 600.24L723.0 599.93L724.0 599.62L725.0 599.32L726.0 599.01L727.0 598.71L728.0 598.41L729.0 598.12L730.0 597.82L731.0 597.53L732.0 597.24L733.0 596.94L734.0 596.65L735.0 596.37L736.0 596.08L737.0 595.79L738.0 595.51L739.0 595.23L740.0 594.95L741.0 594.67L742.0 594.39L743.0 594.11L744.0 593.84L745.0 593.56L746.0 593.29L747.0 593.02L748.0 592.75L749.0 592.48L750.0 592.21L751.0 591.95L752.0 591.68L753.0 591.42L754.0 591.16L755.0 590.90L756.0 590.64L757.0 590.38L758.0 590.13L759.0 589.87L760.0 589.62L761.0 589.37L762.0 589.12L763.0 588.87L764.0 588.62L765.0 588.37L766.0 588.12L767.0 587.88L768.0 587.63L769.0 587.39L770.0 587.15L771.0 586.91L772.0 586.67L773.0 586.43L774.0 586.19L775.0 585.95L776.0 585.72L777.0 585.48L778.0 585.25L779.0 585.02L780.0 584.79L781.0 584.56L782.0 584.33L783.0 584.11L784.0 583.88L785.0 583.66L786.0 583.44L787.0 583.22L788.0 583.00L789.0 582.79L790.0 582.57L791.0 582.36L792.0 582.15L793.0 581.94L794.0 581.73L795.0 581.53L796.0 581.33L797.0 581.13L798.0 580.93L799.0 580.73L800.0 580.53L801.0 580.34L802.0 580.15L803.0 579.96L804.0 579.77L805.0 579.58L806.0 579.40L807.0 579.21L808.0 579.03L809.0 578.85L810.0 578.67L811.0 578.49L812.0 578.31L813.0 578.14L814.0 577.96L815.0 577.79L816.0 577.62L817.0 577.45L818.0 577.28L819.0 577.11L820.0 576.94L821.0 576.77L822.0 576.61L823.0 576.44L824.0 576.28L825.0 576.12L826.0 575.95L827.0 575.79L828.0 575.63L829.0 575.47L830.0 575.31L831.0 575.15L832.0 574.99L833.0 574.83L834.0 574.68L835.0 574.52L836.0 574.36L837.0 574.20L838.0 574.05L839.0 573.89L840.0 573.74L841.0 573.58L842.0 573.43L843.0 573.27L844.0 573.12L845.0 572.96L846.0 572.80L847.0 572.65L848.0 572.49L849.0 572.34L850.0 572.18L851.0 572.03L852.0 571.87L853.0 571.72L854.0 571.56L855.0 571.40L856.0 571.25L857.0 571.09L858.0 570.93L859.0 570.77L860.0 570.61L861.0 570.45L862.0 570.29L863.0 570.13L864.0 569.97L865.0 569.81L866.0 569.65L867.0 569.48L868.0 569.32L869.0 569.16L870.0 568.99L871.0 568.83L872.0 568.66L873.0 568.50L874.0 568.33L875.0 568.16L876.0 568.00L877.0 567.83L878.0 567.67L879.0 567.50L880.0 567.33L881.0 567.17L882.0 567.00L883.0 566.83L884.0 566.66L885.0 566.50L886.0 566.33L887.0 566.16L888.0 566.00L889.0 565.83L890.0 565.66L891.0 565.49L892.0 565.33L893.0 565.16L894.0 564.99L895.0 564.82L896.0 564.65L897.0 564.49L898.0 564.32L899.0 564.15L900.0 563.98L901.0 563.81L902.0 563.65L903.0 563.48L904.0 563.31L905.0 563.14L906.0 562.97L907.0 562.80L908.0 562.64L909.0 562.47L910.0 562.30L911.0 562.13L912.0 561.96L913.0 561.79L914.0 561.62L915.0 561.45L916.0 561.28L917.0 561.12L918.0 560.95L919.0 560.78L920.0 560.61L921.0 560.44L922.0 560.27L923.0 560.10L924.0 559.93L925.0 559.76L926.0 559.59L927.0 559.42L928.0 559.25L929.0 559.09L930.0 558.92L931.0 558.75L932.0 558.59L933.0 558.42L934.0 558.26L935.0 558.11L936.0 557.95L937.0 557.81L938.0 557.67L939.0 557.54L940.0 557.41L941.0 557.30L942.0 557.20L943.0 557.11" stroke="#5bb04a" stroke-width="2.3" fill="none" stroke-linejoin="round" stroke-linecap="round" clip-path="url(#clipc)"/>
<path d="M168.0 512.20L169.0 512.20L170.0 512.20L171.0 512.20L172.0 512.20L173.0 512.20L174.0 512.22L175.0 512.29L176.0 512.46L177.0 512.81L178.0 513.33L179.0 514.02L180.0 514.84L181.0 515.77L182.0 516.77L183.0 517.82L184.0 518.88L185.0 519.93L186.0 520.93L187.0 521.86L188.0 522.68L189.0 523.37L190.0 523.89L191.0 524.23L192.0 524.40L193.0 524.43L194.0 524.38L195.0 524.28L196.0 524.14L197.0 523.97L198.0 523.79L199.0 523.58L200.0 523.37L201.0 523.15L202.0 522.93L203.0 522.72L204.0 522.51L205.0 522.33L206.0 522.16L207.0 522.02L208.0 521.92L209.0 521.86L210.0 521.85L211.0 521.92L212.0 522.08L213.0 522.32L214.0 522.64L215.0 523.04L216.0 523.50L217.0 524.01L218.0 524.56L219.0 525.14L220.0 525.74L221.0 526.35L222.0 526.96L223.0 527.56L224.0 528.14L225.0 528.69L226.0 529.20L227.0 529.66L228.0 530.06L229.0 530.38L230.0 530.62L231.0 530.78L232.0 530.84L233.0 530.84L234.0 530.78L235.0 530.67L236.0 530.54L237.0 530.38L238.0 530.19L239.0 530.00L240.0 529.80L241.0 529.60L242.0 529.41L243.0 529.22L244.0 529.06L245.0 528.93L246.0 528.82L247.0 528.76L248.0 528.74L249.0 528.78L250.0 528.88L251.0 529.03L252.0 529.25L253.0 529.51L254.0 529.81L255.0 530.15L256.0 530.53L257.0 530.93L258.0 531.35L259.0 531.79L260.0 532.24L261.0 532.70L262.0 533.16L263.0 533.61L264.0 534.05L265.0 534.47L266.0 534.87L267.0 535.25L268.0 535.59L269.0 535.89L270.0 536.15L271.0 536.37L272.0 536.52L273.0 536.62L274.0 536.65L275.0 536.62L276.0 536.52L277.0 536.36L278.0 536.15L279.0 535.90L280.0 535.62L281.0 535.30L282.0 534.97L283.0 534.62L284.0 534.28L285.0 533.93L286.0 533.60L287.0 533.28L288.0 533.00L289.0 532.75L290.0 532.54L291.0 532.38L292.0 532.28L293.0 532.25L294.0 532.27L295.0 532.36L296.0 532.50L297.0 532.70L298.0 532.93L299.0 533.21L300.0 533.52L301.0 533.87L302.0 534.24L303.0 534.63L304.0 535.04L305.0 535.46L306.0 535.89L307.0 536.31L308.0 536.74L309.0 537.16L310.0 537.57L311.0 537.96L312.0 538.33L313.0 538.68L314.0 538.99L315.0 539.27L316.0 539.50L317.0 539.70L318.0 539.84L319.0 539.93L320.0 539.96L321.0 539.94L322.0 539.88L323.0 539.77L324.0 539.62L325.0 539.44L326.0 539.23L327.0 539.00L328.0 538.74L329.0 538.47L330.0 538.19L331.0 537.90L332.0 537.60L333.0 537.30L334.0 537.01L335.0 536.73L336.0 536.46L337.0 536.20L338.0 535.97L339.0 535.76L340.0 535.58L341.0 535.43L342.0 535.32L343.0 535.26L344.0 535.23L345.0 535.24L346.0 535.29L347.0 535.37L348.0 535.48L349.0 535.62L350.0 535.78L351.0 535.97L352.0 536.18L353.0 536.42L354.0 536.68L355.0 536.95L356.0 537.25L357.0 537.56L358.0 537.89L359.0 538.23L360.0 538.58L361.0 538.95L362.0 539.32L363.0 539.70L364.0 540.09L365.0 540.48L366.0 540.88L367.0 541.28L368.0 541.68L369.0 542.07L370.0 542.47L371.0 542.86L372.0 543.25L373.0 543.63L374.0 544.00L375.0 544.37L376.0 544.72L377.0 545.06L378.0 545.38L379.0 545.69L380.0 545.99L381.0 546.28L382.0 546.56L383.0 546.83L384.0 547.10L385.0 547.37L386.0 547.63L387.0 547.90L388.0 548.16L389.0 548.42L390.0 548.68L391.0 548.95L392.0 549.22L393.0 549.48L394.0 549.76L395.0 550.03L396.0 550.32L397.0 550.60L398.0 550.90L399.0 551.20L400.0 551.51L401.0 551.83L402.0 552.17L403.0 552.52L404.0 552.89L405.0 553.25L406.0 553.61L407.0 553.98L408.0 554.33L409.0 554.67L410.0 554.99L411.0 555.31L412.0 555.61L413.0 555.91L414.0 556.21L415.0 556.50L416.0 556.79L417.0 557.08L418.0 557.36L419.0 557.63L420.0 557.91L421.0 558.18L422.0 558.45L423.0 558.71L424.0 558.98L425.0 559.24L426.0 559.49L427.0 559.75L428.0 560.00L429.0 560.25L430.0 560.50L431.0 560.74L432.0 560.97L433.0 561.20L434.0 561.42L435.0 561.64L436.0 561.86L437.0 562.07L438.0 562.28L439.0 562.48L440.0 562.69L441.0 562.90L442.0 563.11L443.0 563.33L444.0 563.55L445.0 563.77L446.0 564.00L447.0 564.24L448.0 564.49L449.0 564.74L450.0 565.01L451.0 565.28L452.0 565.57L453.0 565.86L454.0 566.16L455.0 566.47L456.0 566.79L457.0 567.12L458.0 567.45L459.0 567.80L460.0 568.15L461.0 568.50L462.0 568.87L463.0 569.24L464.0 569.62L465.0 570.01L466.0 570.42L467.0 570.85L468.0 571.29L469.0 571.76L470.0 572.24L471.0 572.73L472.0 573.22L473.0 573.72L474.0 574.22L475.0 574.71L476.0 575.20L477.0 575.67L478.0 576.13L479.0 576.57L480.0 576.99L481.0 577.39L482.0 577.77L483.0 578.14L484.0 578.50L485.0 578.85L486.0 579.19L487.0 579.53L488.0 579.86L489.0 580.18L490.0 580.49L491.0 580.81L492.0 581.12L493.0 581.43L494.0 581.75L495.0 582.06L496.0 582.38L497.0 582.70L498.0 583.03L499.0 583.36L500.0 583.70L501.0 584.05L502.0 584.41L503.0 584.79L504.0 585.17L505.0 585.57L506.0 585.98L507.0 586.41L508.0 586.86L509.0 587.32L510.0 587.79L511.0 588.28L512.0 588.79L513.0 589.31L514.0 589.84L515.0 590.38L516.0 590.94L517.0 591.50L518.0 592.08L519.0 592.67L520.0 593.26L521.0 593.87L522.0 594.48L523.0 595.10L524.0 595.73L525.0 596.36L526.0 597.00L527.0 597.65L528.0 598.30L529.0 598.95L530.0 599.61L531.0 600.27L532.0 600.94L533.0 601.60L534.0 602.27L535.0 602.94L536.0 603.60L537.0 604.27L538.0 604.94L539.0 605.60L540.0 606.28L541.0 606.96L542.0 607.65L543.0 608.36L544.0 609.07L545.0 609.80L546.0 610.53L547.0 611.27L548.0 612.01L549.0 612.76L550.0 613.51L551.0 614.27L552.0 615.02L553.0 615.78L554.0 616.54L555.0 617.30L556.0 618.05L557.0 618.80L558.0 619.55L559.0 620.29L560.0 621.03L561.0 621.76L562.0 622.48L563.0 623.20L564.0 623.92L565.0 624.64L566.0 625.36L567.0 626.09L568.0 626.83L569.0 627.56L570.0 628.30L571.0 629.03L572.0 629.76L573.0 630.48L574.0 631.20L575.0 631.90L576.0 632.60L577.0 633.28L578.0 633.95L579.0 634.61L580.0 635.24L581.0 635.86L582.0 636.46L583.0 637.04L584.0 637.60L585.0 638.17L586.0 638.75L587.0 639.34L588.0 639.94L589.0 640.54L590.0 641.13L591.0 641.70L592.0 642.25L593.0 642.77L594.0 643.24L595.0 643.67L596.0 644.03L597.0 644.33L598.0 644.55L599.0 644.69L600.0 644.76L601.0 644.78L602.0 644.76L603.0 644.72L604.0 644.67L605.0 644.61L606.0 644.53L607.0 644.44L608.0 644.35L609.0 644.24L610.0 644.11L611.0 643.94L612.0 643.70L613.0 643.35L614.0 642.89L615.0 642.32L616.0 641.66L617.0 640.92L618.0 640.14L619.0 639.32L620.0 638.48L621.0 637.63L622.0 636.77L623.0 635.86L624.0 634.88L625.0 633.84L626.0 632.75L627.0 631.64L628.0 630.54L629.0 629.47L630.0 628.44L631.0 627.45L632.0 626.47L633.0 625.50L634.0 624.55L635.0 623.61L636.0 622.70L637.0 621.81L638.0 620.95L639.0 620.13L640.0 619.33L641.0 618.56L642.0 617.80L643.0 617.07L644.0 616.35L645.0 615.64L646.0 614.94L647.0 614.26L648.0 613.59L649.0 612.93L650.0 612.28L651.0 611.64L652.0 611.01L653.0 610.40L654.0 609.79L655.0 609.18L656.0 608.59L657.0 608.00L658.0 607.42L659.0 606.85L660.0 606.28L661.0 605.72L662.0 605.16L663.0 604.61L664.0 604.06L665.0 603.52L666.0 602.99L667.0 602.45L668.0 601.93L669.0 601.41L670.0 600.89L671.0 600.38L672.0 599.88L673.0 599.38L674.0 598.89L675.0 598.40L676.0 597.92L677.0 597.44L678.0 596.97L679.0 596.51L680.0 596.05L681.0 595.60L682.0 595.15L683.0 594.71L684.0 594.28L685.0 593.85L686.0 593.43L687.0 593.01L688.0 592.60L689.0 592.20L690.0 591.80L691.0 591.41L692.0 591.02L693.0 590.63L694.0 590.25L695.0 589.88L696.0 589.51L697.0 589.14L698.0 588.78L699.0 588.42L700.0 588.07L701.0 587.72L702.0 587.37L703.0 587.03L704.0 586.69L705.0 586.35L706.0 586.02L707.0 585.69L708.0 585.36L709.0 585.04L710.0 584.72L711.0 584.40L712.0 584.08L713.0 583.77L714.0 583.46L715.0 583.15L716.0 582.84L717.0 582.54L718.0 582.23L719.0 581.93L720.0 581.64L721.0 581.34L722.0 581.05L723.0 580.76L724.0 580.47L725.0 580.18L726.0 579.89L727.0 579.61L728.0 579.33L729.0 579.05L730.0 578.77L731.0 578.50L732.0 578.22L733.0 577.95L734.0 577.68L735.0 577.41L736.0 577.14L737.0 576.88L738.0 576.62L739.0 576.35L740.0 576.09L741.0 575.84L742.0 575.58L743.0 575.33L744.0 575.07L745.0 574.82L746.0 574.57L747.0 574.32L748.0 574.07L749.0 573.83L750.0 573.59L751.0 573.34L752.0 573.10L753.0 572.86L754.0 572.62L755.0 572.39L756.0 572.15L757.0 571.92L758.0 571.68L759.0 571.45L760.0 571.22L761.0 570.99L762.0 570.76L763.0 570.54L764.0 570.31L765.0 570.09L766.0 569.86L767.0 569.64L768.0 569.42L769.0 569.20L770.0 568.98L771.0 568.76L772.0 568.55L773.0 568.33L774.0 568.12L775.0 567.90L776.0 567.69L777.0 567.48L778.0 567.27L779.0 567.06L780.0 566.86L781.0 566.65L782.0 566.45L783.0 566.24L784.0 566.04L785.0 565.84L786.0 565.65L787.0 565.45L788.0 565.25L789.0 565.06L790.0 564.87L791.0 564.68L792.0 564.49L793.0 564.30L794.0 564.11L795.0 563.93L796.0 563.74L797.0 563.56L798.0 563.38L799.0 563.20L800.0 563.03L801.0 562.85L802.0 562.67L803.0 562.50L804.0 562.33L805.0 562.16L806.0 561.99L807.0 561.82L808.0 561.65L809.0 561.49L810.0 561.32L811.0 561.16L812.0 560.99L813.0 560.83L814.0 560.67L815.0 560.51L816.0 560.35L817.0 560.19L818.0 560.03L819.0 559.88L820.0 559.72L821.0 559.57L822.0 559.41L823.0 559.26L824.0 559.11L825.0 558.95L826.0 558.80L827.0 558.65L828.0 558.50L829.0 558.35L830.0 558.20L831.0 558.06L832.0 557.91L833.0 557.76L834.0 557.61L835.0 557.47L836.0 557.32L837.0 557.18L838.0 557.03L839.0 556.89L840.0 556.74L841.0 556.60L842.0 556.46L843.0 556.31L844.0 556.17L845.0 556.03L846.0 555.89L847.0 555.75L848.0 555.60L849.0 555.46L850.0 555.32L851.0 555.18L852.0 555.04L853.0 554.90L854.0 554.76L855.0 554.62L856.0 554.48L857.0 554.33L858.0 554.19L859.0 554.05L860.0 553.91L861.0 553.77L862.0 553.63L863.0 553.49L864.0 553.35L865.0 553.21L866.0 553.07L867.0 552.92L868.0 552.78L869.0 552.64L870.0 552.50L871.0 552.36L872.0 552.22L873.0 552.07L874.0 551.93L875.0 551.79L876.0 551.65L877.0 551.51L878.0 551.37L879.0 551.23L880.0 551.09L881.0 550.95L882.0 550.81L883.0 550.67L884.0 550.53L885.0 550.39L886.0 550.25L887.0 550.11L888.0 549.97L889.0 549.83L890.0 549.69L891.0 549.55L892.0 549.41L893.0 549.27L894.0 549.14L895.0 549.00L896.0 548.86L897.0 548.72L898.0 548.58L899.0 548.45L900.0 548.31L901.0 548.17L902.0 548.04L903.0 547.90L904.0 547.76L905.0 547.63L906.0 547.49L907.0 547.36L908.0 547.22L909.0 547.09L910.0 546.95L911.0 546.81L912.0 546.68L913.0 546.55L914.0 546.41L915.0 546.28L916.0 546.14L917.0 546.01L918.0 545.88L919.0 545.74L920.0 545.61L921.0 545.48L922.0 545.34L923.0 545.21L924.0 545.08L925.0 544.95L926.0 544.82L927.0 544.68L928.0 544.55L929.0 544.42L930.0 544.29L931.0 544.16L932.0 544.04L933.0 543.91L934.0 543.79L935.0 543.67L936.0 543.55L937.0 543.44L938.0 543.33L939.0 543.23L940.0 543.14L941.0 543.05L942.0 542.98L943.0 542.91" stroke="#45bed4" stroke-width="2.3" fill="none" stroke-linejoin="round" stroke-linecap="round" clip-path="url(#clipc)"/>
<path d="M168.00 515.50C170.33 515.33 172.38 514.09 175.00 515.00C179.74 516.64 185.79 528.90 192.00 530.50C197.57 531.94 203.86 525.38 210.00 526.20C217.14 527.15 225.07 537.21 232.00 538.20C237.60 539.00 242.11 534.18 248.00 534.70C255.71 535.38 265.97 545.14 274.00 545.40C280.78 545.62 286.15 538.82 293.00 539.00C301.25 539.22 311.21 549.36 320.00 549.70C328.18 550.02 335.48 541.99 344.00 542.30C353.96 542.67 365.97 551.93 376.00 554.80C384.45 557.22 392.20 556.56 400.00 559.30C408.23 562.19 415.88 568.41 424.00 572.10C431.89 575.68 440.97 577.64 448.00 581.20C454.06 584.27 458.56 588.59 464.00 591.60C469.23 594.49 475.29 596.20 480.00 599.00C484.15 601.47 487.07 603.98 491.00 607.20C495.92 611.23 502.00 615.82 507.00 621.60C512.78 628.29 518.44 637.26 523.00 645.60C527.49 653.81 531.22 661.98 534.20 671.20C537.47 681.31 539.42 694.16 541.30 704.00C542.82 711.99 543.87 718.86 544.90 725.80C545.84 732.11 546.64 740.60 547.30 743.90C547.55 745.17 547.77 745.63 548.00 746.50C548.40 745.63 548.79 745.17 549.20 743.90C550.16 740.91 551.07 734.00 552.20 728.20C553.60 721.00 555.50 712.06 557.00 704.00C558.49 695.99 559.69 686.60 561.20 680.00C562.28 675.28 562.72 672.85 564.60 668.00C567.79 659.78 573.84 645.02 580.60 636.00C586.85 627.66 594.26 622.01 603.00 615.20C613.50 607.02 627.04 597.63 640.00 591.20C652.73 584.89 666.59 581.09 680.00 576.80C693.26 572.56 706.63 569.07 720.00 565.60C733.30 562.14 746.63 558.87 760.00 556.00C773.30 553.14 784.77 550.74 800.00 548.40C820.04 545.33 846.42 542.94 870.00 540.20C894.08 537.40 918.67 534.60 943.00 531.80" stroke="#2f5aa6" stroke-width="2.3" fill="none" stroke-linejoin="round" stroke-linecap="round" clip-path="url(#clipc)"/>
<path d="M168.00 514.30C170.33 514.13 172.38 512.89 175.00 513.80C179.74 515.44 185.79 527.70 192.00 529.30C197.57 530.74 203.86 524.18 210.00 525.00C217.14 525.95 225.07 536.01 232.00 537.00C237.60 537.80 242.11 532.98 248.00 533.50C255.71 534.18 265.97 543.94 274.00 544.20C280.78 544.42 286.15 537.62 293.00 537.80C301.25 538.02 311.21 548.16 320.00 548.50C328.18 548.82 335.48 540.79 344.00 541.10C353.96 541.47 365.97 550.73 376.00 553.60C384.45 556.02 392.20 555.36 400.00 558.10C408.23 560.99 415.88 567.21 424.00 570.90C431.89 574.48 440.97 576.44 448.00 580.00C454.06 583.07 458.75 586.64 464.00 590.40C469.42 594.29 475.10 599.43 480.00 603.00C483.95 605.88 487.15 607.23 491.00 610.40C496.03 614.54 502.19 620.58 507.00 626.40C511.87 632.30 516.51 638.72 520.00 645.60C523.53 652.57 525.79 659.54 528.00 668.00C530.74 678.48 532.48 691.97 534.10 704.00C535.71 715.97 536.70 727.99 537.70 740.00C538.70 751.99 539.52 765.21 540.10 776.00C540.58 784.80 540.83 792.00 541.10 800.00C541.37 808.00 541.50 816.00 541.70 824.00M541.70 824.00C541.97 812.00 542.07 800.00 542.50 788.00C542.93 776.00 543.50 763.99 544.30 752.00C545.10 739.99 546.02 726.77 547.30 716.00C548.35 707.17 549.21 699.94 551.00 692.00C552.82 683.94 554.86 676.42 558.20 668.00C562.19 657.94 567.65 645.08 574.20 636.00C580.14 627.76 586.26 622.14 595.00 615.20C606.74 605.88 625.01 594.13 640.00 587.20C653.34 581.03 666.63 578.41 680.00 574.40C693.30 570.41 706.62 566.54 720.00 563.20C733.29 559.88 746.66 557.24 760.00 554.40C773.32 551.57 784.75 548.63 800.00 546.20C820.03 543.01 846.42 540.87 870.00 538.20C894.08 535.47 918.67 532.73 943.00 530.00" stroke="#9a35a0" stroke-width="2.3" fill="none" stroke-linejoin="round" stroke-linecap="round" clip-path="url(#clipc)"/>
<path d="M168.0 516.08L169.0 515.92L170.0 515.73L171.0 515.59L172.0 515.49L173.0 515.44L174.0 515.44L175.0 515.54L176.0 515.81L177.0 516.35L178.0 517.17L179.0 518.24L180.0 519.52L181.0 520.97L182.0 522.54L183.0 524.17L184.0 525.83L185.0 527.46L186.0 529.03L187.0 530.48L188.0 531.76L189.0 532.83L190.0 533.65L191.0 534.18L192.0 534.43L193.0 534.46L194.0 534.33L195.0 534.11L196.0 533.81L197.0 533.45L198.0 533.04L199.0 532.60L200.0 532.13L201.0 531.65L202.0 531.17L203.0 530.70L204.0 530.26L205.0 529.85L206.0 529.49L207.0 529.19L208.0 528.96L209.0 528.83L210.0 528.80L211.0 528.91L212.0 529.17L213.0 529.59L214.0 530.14L215.0 530.81L216.0 531.59L217.0 532.46L218.0 533.40L219.0 534.38L220.0 535.41L221.0 536.45L222.0 537.49L223.0 538.52L224.0 539.50L225.0 540.44L226.0 541.31L227.0 542.09L228.0 542.76L229.0 543.31L230.0 543.73L231.0 543.99L232.0 544.10L233.0 544.07L234.0 543.93L235.0 543.71L236.0 543.41L237.0 543.06L238.0 542.66L239.0 542.24L240.0 541.80L241.0 541.36L242.0 540.94L243.0 540.54L244.0 540.19L245.0 539.89L246.0 539.67L247.0 539.53L248.0 539.48L249.0 539.55L250.0 539.72L251.0 540.00L252.0 540.38L253.0 540.85L254.0 541.40L255.0 542.01L256.0 542.69L257.0 543.41L258.0 544.17L259.0 544.97L260.0 545.78L261.0 546.60L262.0 547.42L263.0 548.23L264.0 549.03L265.0 549.79L266.0 550.51L267.0 551.19L268.0 551.80L269.0 552.35L270.0 552.82L271.0 553.20L272.0 553.48L273.0 553.65L274.0 553.70L275.0 553.62L276.0 553.41L277.0 553.08L278.0 552.64L279.0 552.10L280.0 551.49L281.0 550.82L282.0 550.11L283.0 549.37L284.0 548.63L285.0 547.89L286.0 547.18L287.0 546.51L288.0 545.90L289.0 545.36L290.0 544.92L291.0 544.59L292.0 544.37L293.0 544.29L294.0 544.33L295.0 544.47L296.0 544.71L297.0 545.03L298.0 545.43L299.0 545.90L300.0 546.42L301.0 547.00L302.0 547.62L303.0 548.28L304.0 548.97L305.0 549.67L306.0 550.39L307.0 551.11L308.0 551.83L309.0 552.53L310.0 553.22L311.0 553.88L312.0 554.50L313.0 555.08L314.0 555.60L315.0 556.07L316.0 556.47L317.0 556.79L318.0 557.03L319.0 557.18L320.0 557.23L321.0 557.20L322.0 557.08L323.0 556.89L324.0 556.63L325.0 556.31L326.0 555.94L327.0 555.53L328.0 555.08L329.0 554.59L330.0 554.09L331.0 553.57L332.0 553.05L333.0 552.53L334.0 552.01L335.0 551.51L336.0 551.02L337.0 550.57L338.0 550.16L339.0 549.79L340.0 549.47L341.0 549.21L342.0 549.02L343.0 548.90L344.0 548.85L345.0 548.88L346.0 548.97L347.0 549.12L348.0 549.33L349.0 549.60L350.0 549.91L351.0 550.27L352.0 550.68L353.0 551.12L354.0 551.61L355.0 552.13L356.0 552.67L357.0 553.25L358.0 553.85L359.0 554.48L360.0 555.12L361.0 555.78L362.0 556.45L363.0 557.13L364.0 557.81L365.0 558.50L366.0 559.19L367.0 559.87L368.0 560.55L369.0 561.21L370.0 561.86L371.0 562.50L372.0 563.12L373.0 563.71L374.0 564.28L375.0 564.82L376.0 565.33L377.0 565.80L378.0 566.23L379.0 566.62L380.0 566.97L381.0 567.29L382.0 567.59L383.0 567.86L384.0 568.11L385.0 568.35L386.0 568.58L387.0 568.80L388.0 569.01L389.0 569.22L390.0 569.43L391.0 569.64L392.0 569.85L393.0 570.07L394.0 570.30L395.0 570.54L396.0 570.80L397.0 571.07L398.0 571.36L399.0 571.68L400.0 572.02L401.0 572.39L402.0 572.80L403.0 573.23L404.0 573.70L405.0 574.20L406.0 574.72L407.0 575.27L408.0 575.84L409.0 576.44L410.0 577.06L411.0 577.69L412.0 578.34L413.0 579.01L414.0 579.70L415.0 580.39L416.0 581.10L417.0 581.82L418.0 582.54L419.0 583.28L420.0 584.04L421.0 584.84L422.0 585.70L423.0 586.63L424.0 587.59L425.0 588.56L426.0 589.54L427.0 590.48L428.0 591.37L429.0 592.20L430.0 592.95L431.0 593.64L432.0 594.29L433.0 594.90L434.0 595.49L435.0 596.05L436.0 596.59L437.0 597.10L438.0 597.58L439.0 598.04L440.0 598.47L441.0 598.87L442.0 599.23L443.0 599.56L444.0 599.88L445.0 600.18L446.0 600.49L447.0 600.82L448.0 601.18L449.0 601.59L450.0 602.05L451.0 602.58L452.0 603.18L453.0 603.85L454.0 604.58L455.0 605.37L456.0 606.22L457.0 607.11L458.0 608.05L459.0 609.03L460.0 610.06L461.0 611.17L462.0 612.37L463.0 613.67L464.0 615.05L465.0 616.49L466.0 617.98L467.0 619.49L468.0 621.00L469.0 622.51L470.0 624.00L471.0 625.49L472.0 626.99L473.0 628.51L474.0 630.04L475.0 631.58L476.0 633.11L477.0 634.63L478.0 636.11L479.0 637.56L480.0 638.98L481.0 640.36L482.0 641.72L483.0 643.05L484.0 644.35L485.0 645.60L486.0 646.82L487.0 648.02L488.0 649.23L489.0 650.48L490.0 651.75L491.0 652.98L492.0 654.12L493.0 655.11L494.0 655.88L495.0 656.39L496.0 656.63L497.0 656.64L498.0 656.49L499.0 656.23L500.0 655.88L501.0 655.45L502.0 654.96L503.0 654.42L504.0 653.84L505.0 653.24L506.0 652.61L507.0 651.95L508.0 651.22L509.0 650.39L510.0 649.44L511.0 648.40L512.0 647.25L513.0 646.04L514.0 644.76L515.0 643.43L516.0 642.07L517.0 640.69L518.0 639.31L519.0 637.93L520.0 636.59L521.0 635.29L522.0 634.03L523.0 632.82L524.0 631.65L525.0 630.48L526.0 629.32L527.0 628.15L528.0 626.99L529.0 625.83L530.0 624.68L531.0 623.54L532.0 622.42L533.0 621.31L534.0 620.23L535.0 619.17L536.0 618.13L537.0 617.13L538.0 616.16L539.0 615.22L540.0 614.30L541.0 613.40L542.0 612.52L543.0 611.64L544.0 610.78L545.0 609.93L546.0 609.09L547.0 608.26L548.0 607.45L549.0 606.65L550.0 605.86L551.0 605.08L552.0 604.32L553.0 603.57L554.0 602.83L555.0 602.11L556.0 601.40L557.0 600.70L558.0 600.02L559.0 599.35L560.0 598.69L561.0 598.05L562.0 597.42L563.0 596.81L564.0 596.21L565.0 595.63L566.0 595.06L567.0 594.50L568.0 593.95L569.0 593.41L570.0 592.89L571.0 592.37L572.0 591.86L573.0 591.36L574.0 590.87L575.0 590.38L576.0 589.90L577.0 589.43L578.0 588.96L579.0 588.49L580.0 588.02L581.0 587.56L582.0 587.10L583.0 586.64L584.0 586.18L585.0 585.72L586.0 585.26L587.0 584.80L588.0 584.34L589.0 583.87L590.0 583.41L591.0 582.94L592.0 582.48L593.0 582.02L594.0 581.56L595.0 581.10L596.0 580.65L597.0 580.19L598.0 579.74L599.0 579.30L600.0 578.86L601.0 578.42L602.0 577.99L603.0 577.57L604.0 577.15L605.0 576.73L606.0 576.33L607.0 575.93L608.0 575.53L609.0 575.15L610.0 574.77L611.0 574.41L612.0 574.05L613.0 573.69L614.0 573.35L615.0 573.01L616.0 572.68L617.0 572.35L618.0 572.03L619.0 571.71L620.0 571.40L621.0 571.09L622.0 570.78L623.0 570.48L624.0 570.18L625.0 569.88L626.0 569.58L627.0 569.29L628.0 568.99L629.0 568.70L630.0 568.40L631.0 568.11L632.0 567.82L633.0 567.54L634.0 567.25L635.0 566.97L636.0 566.70L637.0 566.42L638.0 566.15L639.0 565.88L640.0 565.61L641.0 565.34L642.0 565.08L643.0 564.81L644.0 564.55L645.0 564.29L646.0 564.03L647.0 563.77L648.0 563.51L649.0 563.25L650.0 562.99L651.0 562.74L652.0 562.48L653.0 562.23L654.0 561.97L655.0 561.72L656.0 561.47L657.0 561.22L658.0 560.97L659.0 560.72L660.0 560.47L661.0 560.23L662.0 559.98L663.0 559.74L664.0 559.49L665.0 559.25L666.0 559.01L667.0 558.77L668.0 558.53L669.0 558.29L670.0 558.05L671.0 557.81L672.0 557.57L673.0 557.34L674.0 557.10L675.0 556.87L676.0 556.64L677.0 556.40L678.0 556.17L679.0 555.94L680.0 555.71L681.0 555.48L682.0 555.25L683.0 555.02L684.0 554.80L685.0 554.57L686.0 554.34L687.0 554.11L688.0 553.89L689.0 553.66L690.0 553.44L691.0 553.22L692.0 552.99L693.0 552.77L694.0 552.55L695.0 552.33L696.0 552.11L697.0 551.89L698.0 551.67L699.0 551.46L700.0 551.24L701.0 551.03L702.0 550.81L703.0 550.60L704.0 550.39L705.0 550.18L706.0 549.97L707.0 549.77L708.0 549.56L709.0 549.36L710.0 549.16L711.0 548.96L712.0 548.76L713.0 548.56L714.0 548.37L715.0 548.17L716.0 547.98L717.0 547.79L718.0 547.60L719.0 547.42L720.0 547.23L721.0 547.05L722.0 546.87L723.0 546.69L724.0 546.51L725.0 546.34L726.0 546.16L727.0 545.99L728.0 545.82L729.0 545.65L730.0 545.48L731.0 545.31L732.0 545.15L733.0 544.98L734.0 544.82L735.0 544.66L736.0 544.50L737.0 544.34L738.0 544.18L739.0 544.02L740.0 543.86L741.0 543.70L742.0 543.55L743.0 543.39L744.0 543.24L745.0 543.08L746.0 542.93L747.0 542.78L748.0 542.62L749.0 542.47L750.0 542.32L751.0 542.16L752.0 542.01L753.0 541.86L754.0 541.71L755.0 541.56L756.0 541.40L757.0 541.25L758.0 541.10L759.0 540.95L760.0 540.80L761.0 540.64L762.0 540.49L763.0 540.34L764.0 540.19L765.0 540.03L766.0 539.88L767.0 539.73L768.0 539.58L769.0 539.42L770.0 539.27L771.0 539.12L772.0 538.97L773.0 538.82L774.0 538.67L775.0 538.51L776.0 538.36L777.0 538.21L778.0 538.06L779.0 537.92L780.0 537.77L781.0 537.62L782.0 537.47L783.0 537.33L784.0 537.18L785.0 537.04L786.0 536.90L787.0 536.76L788.0 536.61L789.0 536.47L790.0 536.34L791.0 536.20L792.0 536.06L793.0 535.93L794.0 535.80L795.0 535.66L796.0 535.53L797.0 535.40L798.0 535.28L799.0 535.15L800.0 535.02L801.0 534.90L802.0 534.78L803.0 534.66L804.0 534.53L805.0 534.42L806.0 534.30L807.0 534.18L808.0 534.06L809.0 533.95L810.0 533.83L811.0 533.72L812.0 533.61L813.0 533.50L814.0 533.38L815.0 533.27L816.0 533.16L817.0 533.06L818.0 532.95L819.0 532.84L820.0 532.73L821.0 532.63L822.0 532.52L823.0 532.42L824.0 532.31L825.0 532.21L826.0 532.10L827.0 532.00L828.0 531.90L829.0 531.79L830.0 531.69L831.0 531.59L832.0 531.49L833.0 531.39L834.0 531.29L835.0 531.19L836.0 531.09L837.0 530.99L838.0 530.89L839.0 530.79L840.0 530.69L841.0 530.59L842.0 530.49L843.0 530.40L844.0 530.30L845.0 530.20L846.0 530.10L847.0 530.00L848.0 529.90L849.0 529.81L850.0 529.71L851.0 529.61L852.0 529.51L853.0 529.41L854.0 529.31L855.0 529.21L856.0 529.11L857.0 529.01L858.0 528.91L859.0 528.81L860.0 528.71L861.0 528.61L862.0 528.51L863.0 528.41L864.0 528.31L865.0 528.21L866.0 528.11L867.0 528.00L868.0 527.90L869.0 527.80L870.0 527.70L871.0 527.59L872.0 527.49L873.0 527.39L874.0 527.28L875.0 527.18L876.0 527.07L877.0 526.97L878.0 526.87L879.0 526.76L880.0 526.66L881.0 526.55L882.0 526.45L883.0 526.35L884.0 526.24L885.0 526.14L886.0 526.03L887.0 525.93L888.0 525.82L889.0 525.72L890.0 525.62L891.0 525.51L892.0 525.41L893.0 525.30L894.0 525.20L895.0 525.10L896.0 524.99L897.0 524.89L898.0 524.78L899.0 524.68L900.0 524.58L901.0 524.47L902.0 524.37L903.0 524.26L904.0 524.16L905.0 524.05L906.0 523.95L907.0 523.85L908.0 523.74L909.0 523.64L910.0 523.53L911.0 523.43L912.0 523.33L913.0 523.22L914.0 523.12L915.0 523.01L916.0 522.91L917.0 522.81L918.0 522.70L919.0 522.60L920.0 522.49L921.0 522.39L922.0 522.29L923.0 522.18L924.0 522.08L925.0 521.97L926.0 521.87L927.0 521.77L928.0 521.66L929.0 521.56L930.0 521.46L931.0 521.35L932.0 521.25L933.0 521.15L934.0 521.05L935.0 520.96L936.0 520.87L937.0 520.78L938.0 520.69L939.0 520.61L940.0 520.53L941.0 520.47L942.0 520.40L943.0 520.35" stroke="#de4f36" stroke-width="2.3" fill="none" stroke-linejoin="round" stroke-linecap="round" clip-path="url(#clipc)"/>
<path d="M168.0 518.01L169.0 517.89L170.0 517.75L171.0 517.64L172.0 517.57L173.0 517.53L174.0 517.54L175.0 517.64L176.0 517.94L177.0 518.51L178.0 519.38L179.0 520.54L180.0 521.94L181.0 523.54L182.0 525.29L183.0 527.15L184.0 529.08L185.0 531.02L186.0 532.95L187.0 534.81L188.0 536.56L189.0 538.16L190.0 539.56L191.0 540.71L192.0 541.59L193.0 542.15L194.0 542.39L195.0 542.35L196.0 542.09L197.0 541.66L198.0 541.10L199.0 540.43L200.0 539.68L201.0 538.88L202.0 538.05L203.0 537.22L204.0 536.42L205.0 535.67L206.0 535.00L207.0 534.44L208.0 534.01L209.0 533.74L210.0 533.66L211.0 533.78L212.0 534.12L213.0 534.66L214.0 535.38L215.0 536.27L216.0 537.29L217.0 538.42L218.0 539.65L219.0 540.95L220.0 542.29L221.0 543.65L222.0 545.01L223.0 546.35L224.0 547.65L225.0 548.88L226.0 550.01L227.0 551.03L228.0 551.92L229.0 552.64L230.0 553.18L231.0 553.52L232.0 553.66L233.0 553.60L234.0 553.38L235.0 553.03L236.0 552.56L237.0 552.01L238.0 551.40L239.0 550.73L240.0 550.05L241.0 549.37L242.0 548.70L243.0 548.09L244.0 547.54L245.0 547.07L246.0 546.72L247.0 546.49L248.0 546.42L249.0 546.51L250.0 546.75L251.0 547.15L252.0 547.68L253.0 548.34L254.0 549.11L255.0 549.98L256.0 550.93L257.0 551.95L258.0 553.03L259.0 554.15L260.0 555.29L261.0 556.45L262.0 557.61L263.0 558.75L264.0 559.87L265.0 560.95L266.0 561.97L267.0 562.92L268.0 563.79L269.0 564.56L270.0 565.22L271.0 565.75L272.0 566.15L273.0 566.39L274.0 566.47L275.0 566.39L276.0 566.14L277.0 565.73L278.0 565.19L279.0 564.53L280.0 563.76L281.0 562.91L282.0 562.00L283.0 561.03L284.0 560.02L285.0 559.00L286.0 557.98L287.0 556.97L288.0 556.00L289.0 555.09L290.0 554.24L291.0 553.47L292.0 552.81L293.0 552.27L294.0 551.87L295.0 551.61L296.0 551.53L297.0 551.63L298.0 551.92L299.0 552.37L300.0 552.97L301.0 553.72L302.0 554.58L303.0 555.55L304.0 556.61L305.0 557.73L306.0 558.91L307.0 560.12L308.0 561.35L309.0 562.58L310.0 563.79L311.0 564.97L312.0 566.09L313.0 567.15L314.0 568.12L315.0 568.98L316.0 569.73L317.0 570.33L318.0 570.78L319.0 571.07L320.0 571.18L321.0 571.14L322.0 570.96L323.0 570.66L324.0 570.26L325.0 569.76L326.0 569.19L327.0 568.55L328.0 567.84L329.0 567.10L330.0 566.32L331.0 565.51L332.0 564.70L333.0 563.89L334.0 563.08L335.0 562.30L336.0 561.56L337.0 560.85L338.0 560.21L339.0 559.64L340.0 559.14L341.0 558.74L342.0 558.44L343.0 558.25L344.0 558.18L345.0 558.20L346.0 558.31L347.0 558.49L348.0 558.74L349.0 559.05L350.0 559.41L351.0 559.82L352.0 560.28L353.0 560.77L354.0 561.30L355.0 561.85L356.0 562.42L357.0 563.00L358.0 563.60L359.0 564.21L360.0 564.86L361.0 565.60L362.0 566.45L363.0 567.44L364.0 568.53L365.0 569.72L366.0 570.98L367.0 572.27L368.0 573.58L369.0 574.88L370.0 576.13L371.0 577.33L372.0 578.43L373.0 579.42L374.0 580.27L375.0 580.97L376.0 581.51L377.0 581.94L378.0 582.29L379.0 582.59L380.0 582.86L381.0 583.10L382.0 583.32L383.0 583.52L384.0 583.72L385.0 583.91L386.0 584.10L387.0 584.30L388.0 584.52L389.0 584.75L390.0 585.01L391.0 585.30L392.0 585.62L393.0 585.98L394.0 586.36L395.0 586.77L396.0 587.21L397.0 587.67L398.0 588.16L399.0 588.68L400.0 589.22L401.0 589.78L402.0 590.37L403.0 590.99L404.0 591.63L405.0 592.29L406.0 592.98L407.0 593.69L408.0 594.45L409.0 595.28L410.0 596.19L411.0 597.20L412.0 598.29L413.0 599.45L414.0 600.67L415.0 601.93L416.0 603.21L417.0 604.51L418.0 605.80L419.0 607.08L420.0 608.33L421.0 609.53L422.0 610.68L423.0 611.75L424.0 612.78L425.0 613.76L426.0 614.74L427.0 615.73L428.0 616.72L429.0 617.70L430.0 618.67L431.0 619.61L432.0 620.52L433.0 621.39L434.0 622.21L435.0 622.96L436.0 623.65L437.0 624.26L438.0 624.78L439.0 625.21L440.0 625.56L441.0 625.85L442.0 626.11L443.0 626.34L444.0 626.54L445.0 626.72L446.0 626.85L447.0 626.92L448.0 626.94L449.0 626.86L450.0 626.69L451.0 626.42L452.0 626.06L453.0 625.63L454.0 625.13L455.0 624.57L456.0 623.97L457.0 623.34L458.0 622.69L459.0 622.03L460.0 621.38L461.0 620.74L462.0 620.13L463.0 619.56L464.0 619.02L465.0 618.52L466.0 618.03L467.0 617.55L468.0 617.07L469.0 616.59L470.0 616.11L471.0 615.63L472.0 615.14L473.0 614.63L474.0 614.12L475.0 613.59L476.0 613.05L477.0 612.49L478.0 611.92L479.0 611.34L480.0 610.74L481.0 610.14L482.0 609.54L483.0 608.92L484.0 608.31L485.0 607.69L486.0 607.07L487.0 606.45L488.0 605.83L489.0 605.22L490.0 604.61L491.0 604.00L492.0 603.39L493.0 602.79L494.0 602.17L495.0 601.56L496.0 600.94L497.0 600.31L498.0 599.69L499.0 599.07L500.0 598.44L501.0 597.82L502.0 597.20L503.0 596.58L504.0 595.96L505.0 595.35L506.0 594.74L507.0 594.14L508.0 593.54L509.0 592.95L510.0 592.37L511.0 591.80L512.0 591.24L513.0 590.68L514.0 590.14L515.0 589.61L516.0 589.08L517.0 588.57L518.0 588.05L519.0 587.55L520.0 587.05L521.0 586.55L522.0 586.06L523.0 585.58L524.0 585.10L525.0 584.62L526.0 584.15L527.0 583.68L528.0 583.22L529.0 582.76L530.0 582.31L531.0 581.86L532.0 581.41L533.0 580.97L534.0 580.54L535.0 580.10L536.0 579.67L537.0 579.25L538.0 578.82L539.0 578.40L540.0 577.99L541.0 577.57L542.0 577.16L543.0 576.75L544.0 576.35L545.0 575.94L546.0 575.54L547.0 575.15L548.0 574.75L549.0 574.36L550.0 573.97L551.0 573.58L552.0 573.20L553.0 572.82L554.0 572.44L555.0 572.06L556.0 571.69L557.0 571.32L558.0 570.95L559.0 570.59L560.0 570.22L561.0 569.86L562.0 569.50L563.0 569.15L564.0 568.80L565.0 568.45L566.0 568.10L567.0 567.76L568.0 567.41L569.0 567.07L570.0 566.74L571.0 566.40L572.0 566.07L573.0 565.74L574.0 565.41L575.0 565.09L576.0 564.77L577.0 564.45L578.0 564.13L579.0 563.81L580.0 563.50L581.0 563.19L582.0 562.88L583.0 562.57L584.0 562.26L585.0 561.96L586.0 561.66L587.0 561.36L588.0 561.06L589.0 560.77L590.0 560.47L591.0 560.18L592.0 559.89L593.0 559.60L594.0 559.32L595.0 559.03L596.0 558.75L597.0 558.46L598.0 558.18L599.0 557.90L600.0 557.63L601.0 557.35L602.0 557.07L603.0 556.80L604.0 556.53L605.0 556.26L606.0 555.99L607.0 555.73L608.0 555.46L609.0 555.20L610.0 554.94L611.0 554.68L612.0 554.42L613.0 554.17L614.0 553.91L615.0 553.66L616.0 553.41L617.0 553.16L618.0 552.91L619.0 552.66L620.0 552.42L621.0 552.17L622.0 551.93L623.0 551.68L624.0 551.44L625.0 551.20L626.0 550.96L627.0 550.72L628.0 550.48L629.0 550.24L630.0 550.00L631.0 549.76L632.0 549.52L633.0 549.28L634.0 549.05L635.0 548.81L636.0 548.58L637.0 548.36L638.0 548.14L639.0 547.93L640.0 547.73L641.0 547.53L642.0 547.34L643.0 547.16L644.0 546.97L645.0 546.79L646.0 546.61L647.0 546.44L648.0 546.27L649.0 546.10L650.0 545.93L651.0 545.77L652.0 545.60L653.0 545.44L654.0 545.28L655.0 545.13L656.0 544.97L657.0 544.82L658.0 544.66L659.0 544.51L660.0 544.36L661.0 544.21L662.0 544.06L663.0 543.91L664.0 543.76L665.0 543.61L666.0 543.46L667.0 543.31L668.0 543.16L669.0 543.01L670.0 542.85L671.0 542.70L672.0 542.55L673.0 542.39L674.0 542.24L675.0 542.08L676.0 541.92L677.0 541.76L678.0 541.60L679.0 541.44L680.0 541.27L681.0 541.11L682.0 540.94L683.0 540.77L684.0 540.60L685.0 540.43L686.0 540.26L687.0 540.09L688.0 539.92L689.0 539.74L690.0 539.57L691.0 539.39L692.0 539.21L693.0 539.04L694.0 538.86L695.0 538.68L696.0 538.51L697.0 538.33L698.0 538.15L699.0 537.97L700.0 537.80L701.0 537.62L702.0 537.44L703.0 537.27L704.0 537.09L705.0 536.92L706.0 536.74L707.0 536.57L708.0 536.40L709.0 536.23L710.0 536.06L711.0 535.89L712.0 535.72L713.0 535.55L714.0 535.39L715.0 535.22L716.0 535.06L717.0 534.90L718.0 534.74L719.0 534.58L720.0 534.42L721.0 534.27L722.0 534.11L723.0 533.96L724.0 533.81L725.0 533.66L726.0 533.50L727.0 533.36L728.0 533.21L729.0 533.06L730.0 532.91L731.0 532.77L732.0 532.62L733.0 532.48L734.0 532.33L735.0 532.19L736.0 532.05L737.0 531.91L738.0 531.76L739.0 531.62L740.0 531.48L741.0 531.35L742.0 531.21L743.0 531.07L744.0 530.93L745.0 530.80L746.0 530.66L747.0 530.52L748.0 530.39L749.0 530.25L750.0 530.12L751.0 529.99L752.0 529.85L753.0 529.72L754.0 529.59L755.0 529.46L756.0 529.33L757.0 529.20L758.0 529.07L759.0 528.94L760.0 528.81L761.0 528.68L762.0 528.55L763.0 528.42L764.0 528.29L765.0 528.16L766.0 528.03L767.0 527.91L768.0 527.78L769.0 527.65L770.0 527.53L771.0 527.40L772.0 527.27L773.0 527.15L774.0 527.02L775.0 526.90L776.0 526.78L777.0 526.65L778.0 526.53L779.0 526.41L780.0 526.29L781.0 526.17L782.0 526.05L783.0 525.93L784.0 525.81L785.0 525.69L786.0 525.57L787.0 525.45L788.0 525.34L789.0 525.22L790.0 525.11L791.0 525.00L792.0 524.88L793.0 524.77L794.0 524.66L795.0 524.55L796.0 524.44L797.0 524.33L798.0 524.23L799.0 524.12L800.0 524.02L801.0 523.91L802.0 523.81L803.0 523.71L804.0 523.60L805.0 523.50L806.0 523.40L807.0 523.30L808.0 523.20L809.0 523.10L810.0 523.01L811.0 522.91L812.0 522.81L813.0 522.72L814.0 522.62L815.0 522.53L816.0 522.43L817.0 522.34L818.0 522.25L819.0 522.15L820.0 522.06L821.0 521.97L822.0 521.88L823.0 521.79L824.0 521.70L825.0 521.61L826.0 521.52L827.0 521.43L828.0 521.34L829.0 521.25L830.0 521.16L831.0 521.07L832.0 520.99L833.0 520.90L834.0 520.81L835.0 520.73L836.0 520.64L837.0 520.55L838.0 520.47L839.0 520.38L840.0 520.29L841.0 520.21L842.0 520.12L843.0 520.04L844.0 519.95L845.0 519.86L846.0 519.78L847.0 519.69L848.0 519.61L849.0 519.52L850.0 519.44L851.0 519.35L852.0 519.27L853.0 519.18L854.0 519.09L855.0 519.01L856.0 518.92L857.0 518.84L858.0 518.75L859.0 518.66L860.0 518.58L861.0 518.49L862.0 518.40L863.0 518.31L864.0 518.23L865.0 518.14L866.0 518.05L867.0 517.96L868.0 517.87L869.0 517.79L870.0 517.70L871.0 517.61L872.0 517.52L873.0 517.43L874.0 517.34L875.0 517.25L876.0 517.16L877.0 517.07L878.0 516.98L879.0 516.89L880.0 516.81L881.0 516.72L882.0 516.63L883.0 516.54L884.0 516.45L885.0 516.36L886.0 516.27L887.0 516.18L888.0 516.09L889.0 516.00L890.0 515.91L891.0 515.82L892.0 515.73L893.0 515.64L894.0 515.56L895.0 515.47L896.0 515.38L897.0 515.29L898.0 515.20L899.0 515.11L900.0 515.02L901.0 514.93L902.0 514.84L903.0 514.75L904.0 514.66L905.0 514.57L906.0 514.49L907.0 514.40L908.0 514.31L909.0 514.22L910.0 514.13L911.0 514.04L912.0 513.95L913.0 513.86L914.0 513.77L915.0 513.69L916.0 513.60L917.0 513.51L918.0 513.42L919.0 513.33L920.0 513.24L921.0 513.15L922.0 513.06L923.0 512.97L924.0 512.89L925.0 512.80L926.0 512.71L927.0 512.62L928.0 512.53L929.0 512.44L930.0 512.36L931.0 512.27L932.0 512.18L933.0 512.10L934.0 512.01L935.0 511.93L936.0 511.85L937.0 511.78L938.0 511.70L939.0 511.63L940.0 511.57L941.0 511.51L942.0 511.46L943.0 511.41" stroke="#eca83a" stroke-width="2.3" fill="none" stroke-linejoin="round" stroke-linecap="round" clip-path="url(#clipc)"/>
<path d="M168.0 991.60L169.0 992.17L170.0 992.91L171.0 993.68L172.0 994.39L173.0 995.05L174.0 995.65L175.0 996.19L176.0 996.68L177.0 997.12L178.0 997.50L179.0 997.83L180.0 998.12L181.0 998.35L182.0 998.54L183.0 998.69L184.0 998.79L185.0 998.84L186.0 998.82L187.0 998.69L188.0 998.43L189.0 998.04L190.0 997.53L191.0 996.95L192.0 996.32L193.0 995.68L194.0 995.05L195.0 994.47L196.0 993.96L197.0 993.57L198.0 993.31L199.0 993.19L200.0 993.17L201.0 993.24L202.0 993.35L203.0 993.51L204.0 993.70L205.0 993.93L206.0 994.18L207.0 994.45L208.0 994.74L209.0 995.04L210.0 995.35L211.0 995.65L212.0 995.96L213.0 996.26L214.0 996.55L215.0 996.82L216.0 997.07L217.0 997.30L218.0 997.49L219.0 997.65L220.0 997.76L221.0 997.83L222.0 997.85L223.0 997.79L224.0 997.66L225.0 997.45L226.0 997.18L227.0 996.85L228.0 996.48L229.0 996.07L230.0 995.64L231.0 995.20L232.0 994.76L233.0 994.33L234.0 993.92L235.0 993.55L236.0 993.22L237.0 992.95L238.0 992.74L239.0 992.61L240.0 992.55L241.0 992.55L242.0 992.59L243.0 992.67L244.0 992.77L245.0 992.90L246.0 993.05L247.0 993.22L248.0 993.40L249.0 993.59L250.0 993.79L251.0 994.00L252.0 994.20L253.0 994.41L254.0 994.61L255.0 994.80L256.0 994.98L257.0 995.15L258.0 995.30L259.0 995.43L260.0 995.53L261.0 995.61L262.0 995.65L263.0 995.65L264.0 995.58L265.0 995.42L266.0 995.18L267.0 994.86L268.0 994.48L269.0 994.04L270.0 993.56L271.0 993.05L272.0 992.52L273.0 991.98L274.0 991.45L275.0 990.94L276.0 990.46L277.0 990.02L278.0 989.64L279.0 989.32L280.0 989.08L281.0 988.92L282.0 988.85L283.0 988.85L284.0 988.91L285.0 989.00L286.0 989.13L287.0 989.29L288.0 989.48L289.0 989.69L290.0 989.92L291.0 990.17L292.0 990.44L293.0 990.72L294.0 991.01L295.0 991.30L296.0 991.60L297.0 991.90L298.0 992.19L299.0 992.48L300.0 992.76L301.0 993.03L302.0 993.28L303.0 993.51L304.0 993.72L305.0 993.91L306.0 994.07L307.0 994.20L308.0 994.29L309.0 994.35L310.0 994.35L311.0 994.27L312.0 994.12L313.0 993.88L314.0 993.56L315.0 993.18L316.0 992.76L317.0 992.31L318.0 991.85L319.0 991.39L320.0 990.94L321.0 990.52L322.0 990.14L323.0 989.82L324.0 989.58L325.0 989.43L326.0 989.35L327.0 989.35L328.0 989.39L329.0 989.47L330.0 989.58L331.0 989.71L332.0 989.87L333.0 990.05L334.0 990.25L335.0 990.47L336.0 990.71L337.0 990.96L338.0 991.22L339.0 991.50L340.0 991.78L341.0 992.06L342.0 992.36L343.0 992.65L344.0 992.94L345.0 993.24L346.0 993.52L347.0 993.80L348.0 994.08L349.0 994.34L350.0 994.59L351.0 994.83L352.0 995.05L353.0 995.25L354.0 995.43L355.0 995.59L356.0 995.72L357.0 995.83L358.0 995.91L359.0 995.96L360.0 995.99L361.0 995.99L362.0 995.98L363.0 995.96L364.0 995.94L365.0 995.91L366.0 995.87L367.0 995.83L368.0 995.79L369.0 995.75L370.0 995.70L371.0 995.65L372.0 995.60L373.0 995.55L374.0 995.50L375.0 995.45L376.0 995.41L377.0 995.37L378.0 995.33L379.0 995.29L380.0 995.26L381.0 995.24L382.0 995.22L383.0 995.21L384.0 995.21L385.0 995.22L386.0 995.24L387.0 995.27L388.0 995.32L389.0 995.37L390.0 995.44L391.0 995.51L392.0 995.60L393.0 995.69L394.0 995.78L395.0 995.88L396.0 995.98L397.0 996.09L398.0 996.20L399.0 996.30L400.0 996.41L401.0 996.52L402.0 996.62L403.0 996.72L404.0 996.81L405.0 996.90L406.0 996.99L407.0 997.06L408.0 997.13L409.0 997.18L410.0 997.23L411.0 997.26L412.0 997.28L413.0 997.29L414.0 997.29L415.0 997.28L416.0 997.26L417.0 997.24L418.0 997.21L419.0 997.18L420.0 997.14L421.0 997.10L422.0 997.05L423.0 997.00L424.0 996.95L425.0 996.90L426.0 996.85L427.0 996.79L428.0 996.73L429.0 996.68L430.0 996.62L431.0 996.57L432.0 996.51L433.0 996.46L434.0 996.41L435.0 996.37L436.0 996.33L437.0 996.29L438.0 996.26L439.0 996.23L440.0 996.20L441.0 996.18L442.0 996.16L443.0 996.15L444.0 996.13L445.0 996.11L446.0 996.10L447.0 996.08L448.0 996.07L449.0 996.06L450.0 996.05L451.0 996.03L452.0 996.02L453.0 996.01L454.0 996.00L455.0 995.99L456.0 995.99L457.0 995.98L458.0 995.97L459.0 995.96L460.0 995.95L461.0 995.94L462.0 995.94L463.0 995.93L464.0 995.92L465.0 995.91L466.0 995.90L467.0 995.90L468.0 995.89L469.0 995.88L470.0 995.87L471.0 995.86L472.0 995.85L473.0 995.84L474.0 995.83L475.0 995.82L476.0 995.81L477.0 995.79L478.0 995.78L479.0 995.77L480.0 995.75L481.0 995.74L482.0 995.72L483.0 995.70L484.0 995.68L485.0 995.66L486.0 995.64L487.0 995.62L488.0 995.60L489.0 995.57L490.0 995.53L491.0 995.48L492.0 995.43L493.0 995.37L494.0 995.30L495.0 995.23L496.0 995.15L497.0 995.06L498.0 994.97L499.0 994.87L500.0 994.77L501.0 994.66L502.0 994.55L503.0 994.44L504.0 994.32L505.0 994.20L506.0 994.08L507.0 993.95L508.0 993.82L509.0 993.70L510.0 993.57L511.0 993.44L512.0 993.31L513.0 993.18L514.0 993.05L515.0 992.92L516.0 992.79L517.0 992.66L518.0 992.54L519.0 992.42L520.0 992.30L521.0 992.18L522.0 992.07L523.0 991.95L524.0 991.83L525.0 991.71L526.0 991.59L527.0 991.47L528.0 991.35L529.0 991.23L530.0 991.11L531.0 990.98L532.0 990.86L533.0 990.73L534.0 990.60L535.0 990.47L536.0 990.34L537.0 990.20L538.0 990.06L539.0 989.92L540.0 989.78L541.0 989.63L542.0 989.49L543.0 989.33L544.0 989.18L545.0 989.02L546.0 988.86L547.0 988.70L548.0 988.53L549.0 988.36L550.0 988.18L551.0 988.00L552.0 987.82L553.0 987.64L554.0 987.45L555.0 987.26L556.0 987.06L557.0 986.87L558.0 986.67L559.0 986.46L560.0 986.25L561.0 986.04L562.0 985.83L563.0 985.61L564.0 985.39L565.0 985.17L566.0 984.95L567.0 984.72L568.0 984.49L569.0 984.26L570.0 984.02L571.0 983.79L572.0 983.55L573.0 983.30L574.0 983.06L575.0 982.81L576.0 982.56L577.0 982.31L578.0 982.05L579.0 981.80L580.0 981.54L581.0 981.28L582.0 981.02L583.0 980.75L584.0 980.49L585.0 980.22L586.0 979.95L587.0 979.67L588.0 979.40L589.0 979.13L590.0 978.85L591.0 978.57L592.0 978.29L593.0 978.01L594.0 977.72L595.0 977.44L596.0 977.15L597.0 976.86L598.0 976.57L599.0 976.27L600.0 975.98L601.0 975.68L602.0 975.38L603.0 975.07L604.0 974.76L605.0 974.44L606.0 974.12L607.0 973.80L608.0 973.47L609.0 973.13L610.0 972.78L611.0 972.43L612.0 972.07L613.0 971.71L614.0 971.34L615.0 970.95L616.0 970.56L617.0 970.16L618.0 969.75L619.0 969.33L620.0 968.90L621.0 968.45L622.0 968.00L623.0 967.53L624.0 967.05L625.0 966.55L626.0 966.04L627.0 965.52L628.0 964.99L629.0 964.45L630.0 963.90L631.0 963.33L632.0 962.76L633.0 962.18L634.0 961.60L635.0 961.00L636.0 960.40L637.0 959.80L638.0 959.18L639.0 958.56L640.0 957.93L641.0 957.30L642.0 956.65L643.0 955.99L644.0 955.33L645.0 954.66L646.0 953.98L647.0 953.29L648.0 952.59L649.0 951.89L650.0 951.18L651.0 950.46L652.0 949.75L653.0 949.03L654.0 948.31L655.0 947.59L656.0 946.87L657.0 946.15L658.0 945.43L659.0 944.71L660.0 943.99L661.0 943.27L662.0 942.55L663.0 941.83L664.0 941.10L665.0 940.37L666.0 939.65L667.0 938.92L668.0 938.20L669.0 937.47L670.0 936.76L671.0 936.04L672.0 935.34L673.0 934.64L674.0 933.96L675.0 933.28L676.0 932.62L677.0 931.98L678.0 931.34L679.0 930.72L680.0 930.12L681.0 929.53L682.0 928.95L683.0 928.39L684.0 927.83L685.0 927.29L686.0 926.76L687.0 926.23L688.0 925.72L689.0 925.21L690.0 924.71L691.0 924.22L692.0 923.73L693.0 923.25L694.0 922.77L695.0 922.30L696.0 921.84L697.0 921.38L698.0 920.93L699.0 920.48L700.0 920.03L701.0 919.59L702.0 919.15L703.0 918.71L704.0 918.28L705.0 917.85L706.0 917.43L707.0 917.01L708.0 916.60L709.0 916.19L710.0 915.79L711.0 915.39L712.0 914.99L713.0 914.60L714.0 914.22L715.0 913.84L716.0 913.47L717.0 913.11L718.0 912.75L719.0 912.39L720.0 912.04L721.0 911.69L722.0 911.35L723.0 911.02L724.0 910.68L725.0 910.36L726.0 910.03L727.0 909.71L728.0 909.40L729.0 909.09L730.0 908.78L731.0 908.48L732.0 908.19L733.0 907.90L734.0 907.62L735.0 907.34L736.0 907.07L737.0 906.80L738.0 906.54L739.0 906.29L740.0 906.04L741.0 905.80L742.0 905.56L743.0 905.33L744.0 905.10L745.0 904.87L746.0 904.65L747.0 904.43L748.0 904.22L749.0 904.01L750.0 903.81L751.0 903.61L752.0 903.42L753.0 903.23L754.0 903.04L755.0 902.86L756.0 902.69L757.0 902.52L758.0 902.35L759.0 902.19L760.0 902.04L761.0 901.88L762.0 901.74L763.0 901.59L764.0 901.45L765.0 901.32L766.0 901.19L767.0 901.06L768.0 900.93L769.0 900.81L770.0 900.69L771.0 900.57L772.0 900.45L773.0 900.34L774.0 900.23L775.0 900.12L776.0 900.02L777.0 899.91L778.0 899.81L779.0 899.72L780.0 899.62L781.0 899.53L782.0 899.44L783.0 899.35L784.0 899.26L785.0 899.18L786.0 899.09L787.0 899.01L788.0 898.93L789.0 898.86L790.0 898.78L791.0 898.70L792.0 898.63L793.0 898.55L794.0 898.47L795.0 898.39L796.0 898.32L797.0 898.24L798.0 898.15L799.0 898.07L800.0 897.99L801.0 897.90L802.0 897.82L803.0 897.73L804.0 897.65L805.0 897.56L806.0 897.47L807.0 897.38L808.0 897.29L809.0 897.20L810.0 897.11L811.0 897.02L812.0 896.92L813.0 896.83L814.0 896.74L815.0 896.64L816.0 896.55L817.0 896.46L818.0 896.36L819.0 896.27L820.0 896.17L821.0 896.07L822.0 895.98L823.0 895.88L824.0 895.79L825.0 895.69L826.0 895.59L827.0 895.49L828.0 895.40L829.0 895.30L830.0 895.20L831.0 895.10L832.0 895.00L833.0 894.90L834.0 894.80L835.0 894.70L836.0 894.60L837.0 894.50L838.0 894.40L839.0 894.30L840.0 894.20L841.0 894.10L842.0 894.00L843.0 893.90L844.0 893.80L845.0 893.70L846.0 893.60L847.0 893.50L848.0 893.39L849.0 893.29L850.0 893.19L851.0 893.09L852.0 892.99L853.0 892.89L854.0 892.79L855.0 892.69L856.0 892.58L857.0 892.48L858.0 892.38L859.0 892.28L860.0 892.18L861.0 892.08L862.0 891.98L863.0 891.88L864.0 891.78L865.0 891.68L866.0 891.58L867.0 891.48L868.0 891.38L869.0 891.28L870.0 891.18L871.0 891.08L872.0 890.98L873.0 890.88L874.0 890.78L875.0 890.69L876.0 890.59L877.0 890.49L878.0 890.39L879.0 890.30L880.0 890.20L881.0 890.10L882.0 890.00L883.0 889.91L884.0 889.81L885.0 889.72L886.0 889.62L887.0 889.52L888.0 889.43L889.0 889.33L890.0 889.24L891.0 889.14L892.0 889.04L893.0 888.95L894.0 888.85L895.0 888.76L896.0 888.66L897.0 888.56L898.0 888.47L899.0 888.37L900.0 888.28L901.0 888.18L902.0 888.09L903.0 887.99L904.0 887.90L905.0 887.80L906.0 887.71L907.0 887.61L908.0 887.51L909.0 887.42L910.0 887.32L911.0 887.23L912.0 887.13L913.0 887.04L914.0 886.94L915.0 886.85L916.0 886.75L917.0 886.66L918.0 886.56L919.0 886.47L920.0 886.37L921.0 886.28L922.0 886.18L923.0 886.09L924.0 885.99L925.0 885.90L926.0 885.81L927.0 885.71L928.0 885.62L929.0 885.52L930.0 885.43L931.0 885.33L932.0 885.24L933.0 885.14L934.0 885.05L935.0 884.96L936.0 884.87L937.0 884.78L938.0 884.69L939.0 884.61L940.0 884.53L941.0 884.46L942.0 884.40L943.0 884.35" stroke="#5bb04a" stroke-width="2.3" fill="none" stroke-linejoin="round" stroke-linecap="round" clip-path="url(#clipd)"/>
<path d="M168.0 992.96L169.0 993.63L170.0 994.50L171.0 995.39L172.0 996.23L173.0 997.00L174.0 997.71L175.0 998.35L176.0 998.93L177.0 999.45L178.0 999.91L179.0 1000.31L180.0 1000.65L181.0 1000.93L182.0 1001.16L183.0 1001.34L184.0 1001.46L185.0 1001.53L186.0 1001.51L187.0 1001.37L188.0 1001.08L189.0 1000.65L190.0 1000.09L191.0 999.45L192.0 998.76L193.0 998.04L194.0 997.35L195.0 996.71L196.0 996.15L197.0 995.72L198.0 995.43L199.0 995.29L200.0 995.28L201.0 995.35L202.0 995.48L203.0 995.65L204.0 995.87L205.0 996.11L206.0 996.39L207.0 996.69L208.0 997.01L209.0 997.34L210.0 997.68L211.0 998.02L212.0 998.36L213.0 998.69L214.0 999.01L215.0 999.31L216.0 999.59L217.0 999.83L218.0 1000.05L219.0 1000.22L220.0 1000.35L221.0 1000.43L222.0 1000.44L223.0 1000.37L224.0 1000.21L225.0 999.97L226.0 999.64L227.0 999.25L228.0 998.81L229.0 998.33L230.0 997.82L231.0 997.30L232.0 996.78L233.0 996.27L234.0 995.79L235.0 995.35L236.0 994.96L237.0 994.63L238.0 994.38L239.0 994.23L240.0 994.15L241.0 994.14L242.0 994.18L243.0 994.24L244.0 994.33L245.0 994.44L246.0 994.57L247.0 994.71L248.0 994.86L249.0 995.02L250.0 995.19L251.0 995.36L252.0 995.54L253.0 995.71L254.0 995.88L255.0 996.04L256.0 996.19L257.0 996.33L258.0 996.46L259.0 996.57L260.0 996.66L261.0 996.72L262.0 996.76L263.0 996.75L264.0 996.67L265.0 996.51L266.0 996.26L267.0 995.93L268.0 995.53L269.0 995.07L270.0 994.57L271.0 994.03L272.0 993.48L273.0 992.92L274.0 992.37L275.0 991.83L276.0 991.33L277.0 990.87L278.0 990.47L279.0 990.14L280.0 989.89L281.0 989.73L282.0 989.66L283.0 989.66L284.0 989.72L285.0 989.83L286.0 989.98L287.0 990.16L288.0 990.38L289.0 990.62L290.0 990.88L291.0 991.17L292.0 991.48L293.0 991.79L294.0 992.12L295.0 992.46L296.0 992.80L297.0 993.14L298.0 993.48L299.0 993.81L300.0 994.12L301.0 994.43L302.0 994.72L303.0 994.98L304.0 995.22L305.0 995.44L306.0 995.62L307.0 995.77L308.0 995.88L309.0 995.94L310.0 995.94L311.0 995.87L312.0 995.71L313.0 995.47L314.0 995.14L315.0 994.75L316.0 994.32L317.0 993.84L318.0 993.35L319.0 992.85L320.0 992.36L321.0 991.88L322.0 991.45L323.0 991.06L324.0 990.73L325.0 990.49L326.0 990.33L327.0 990.26L328.0 990.26L329.0 990.32L330.0 990.42L331.0 990.56L332.0 990.73L333.0 990.94L334.0 991.17L335.0 991.43L336.0 991.71L337.0 992.02L338.0 992.34L339.0 992.67L340.0 993.02L341.0 993.38L342.0 993.75L343.0 994.11L344.0 994.49L345.0 994.85L346.0 995.22L347.0 995.58L348.0 995.93L349.0 996.26L350.0 996.58L351.0 996.89L352.0 997.17L353.0 997.43L354.0 997.66L355.0 997.87L356.0 998.04L357.0 998.18L358.0 998.29L359.0 998.35L360.0 998.38L361.0 998.39L362.0 998.39L363.0 998.38L364.0 998.36L365.0 998.34L366.0 998.32L367.0 998.30L368.0 998.27L369.0 998.24L370.0 998.21L371.0 998.18L372.0 998.15L373.0 998.12L374.0 998.09L375.0 998.06L376.0 998.03L377.0 998.00L378.0 997.98L379.0 997.96L380.0 997.94L381.0 997.92L382.0 997.91L383.0 997.91L384.0 997.91L385.0 997.92L386.0 997.95L387.0 997.99L388.0 998.04L389.0 998.11L390.0 998.20L391.0 998.29L392.0 998.39L393.0 998.50L394.0 998.62L395.0 998.74L396.0 998.87L397.0 999.00L398.0 999.13L399.0 999.27L400.0 999.40L401.0 999.53L402.0 999.66L403.0 999.78L404.0 999.90L405.0 1000.01L406.0 1000.11L407.0 1000.20L408.0 1000.29L409.0 1000.36L410.0 1000.41L411.0 1000.45L412.0 1000.48L413.0 1000.49L414.0 1000.49L415.0 1000.48L416.0 1000.47L417.0 1000.45L418.0 1000.42L419.0 1000.39L420.0 1000.35L421.0 1000.31L422.0 1000.27L423.0 1000.23L424.0 1000.18L425.0 1000.13L426.0 1000.08L427.0 1000.03L428.0 999.98L429.0 999.93L430.0 999.88L431.0 999.83L432.0 999.78L433.0 999.73L434.0 999.69L435.0 999.65L436.0 999.61L437.0 999.58L438.0 999.55L439.0 999.52L440.0 999.50L441.0 999.48L442.0 999.47L443.0 999.45L444.0 999.44L445.0 999.43L446.0 999.41L447.0 999.40L448.0 999.39L449.0 999.38L450.0 999.37L451.0 999.36L452.0 999.35L453.0 999.34L454.0 999.34L455.0 999.33L456.0 999.32L457.0 999.31L458.0 999.31L459.0 999.30L460.0 999.29L461.0 999.29L462.0 999.28L463.0 999.28L464.0 999.27L465.0 999.26L466.0 999.26L467.0 999.25L468.0 999.24L469.0 999.24L470.0 999.23L471.0 999.22L472.0 999.21L473.0 999.20L474.0 999.20L475.0 999.19L476.0 999.18L477.0 999.17L478.0 999.16L479.0 999.14L480.0 999.13L481.0 999.12L482.0 999.10L483.0 999.09L484.0 999.07L485.0 999.06L486.0 999.04L487.0 999.02L488.0 999.00L489.0 998.97L490.0 998.93L491.0 998.89L492.0 998.83L493.0 998.77L494.0 998.69L495.0 998.61L496.0 998.52L497.0 998.43L498.0 998.32L499.0 998.21L500.0 998.10L501.0 997.97L502.0 997.84L503.0 997.71L504.0 997.57L505.0 997.43L506.0 997.28L507.0 997.13L508.0 996.98L509.0 996.82L510.0 996.66L511.0 996.50L512.0 996.33L513.0 996.17L514.0 996.00L515.0 995.83L516.0 995.67L517.0 995.50L518.0 995.33L519.0 995.17L520.0 995.00L521.0 994.83L522.0 994.66L523.0 994.49L524.0 994.31L525.0 994.13L526.0 993.95L527.0 993.76L528.0 993.57L529.0 993.37L530.0 993.16L531.0 992.95L532.0 992.74L533.0 992.52L534.0 992.29L535.0 992.06L536.0 991.82L537.0 991.57L538.0 991.32L539.0 991.06L540.0 990.79L541.0 990.52L542.0 990.24L543.0 989.94L544.0 989.64L545.0 989.34L546.0 989.02L547.0 988.69L548.0 988.34L549.0 987.97L550.0 987.58L551.0 987.16L552.0 986.72L553.0 986.26L554.0 985.78L555.0 985.28L556.0 984.76L557.0 984.22L558.0 983.67L559.0 983.10L560.0 982.52L561.0 981.92L562.0 981.31L563.0 980.69L564.0 980.06L565.0 979.42L566.0 978.77L567.0 978.11L568.0 977.45L569.0 976.78L570.0 976.11L571.0 975.43L572.0 974.75L573.0 974.06L574.0 973.37L575.0 972.68L576.0 971.96L577.0 971.24L578.0 970.50L579.0 969.75L580.0 968.98L581.0 968.20L582.0 967.40L583.0 966.58L584.0 965.74L585.0 964.88L586.0 964.01L587.0 963.11L588.0 962.19L589.0 961.25L590.0 960.28L591.0 959.28L592.0 958.25L593.0 957.19L594.0 956.09L595.0 954.95L596.0 953.78L597.0 952.58L598.0 951.36L599.0 950.12L600.0 948.85L601.0 947.57L602.0 946.28L603.0 944.97L604.0 943.64L605.0 942.31L606.0 940.97L607.0 939.63L608.0 938.29L609.0 936.94L610.0 935.60L611.0 934.27L612.0 932.95L613.0 931.64L614.0 930.36L615.0 929.10L616.0 927.89L617.0 926.72L618.0 925.59L619.0 924.52L620.0 923.50L621.0 922.54L622.0 921.62L623.0 920.75L624.0 919.92L625.0 919.13L626.0 918.36L627.0 917.63L628.0 916.93L629.0 916.25L630.0 915.59L631.0 914.96L632.0 914.35L633.0 913.76L634.0 913.18L635.0 912.63L636.0 912.09L637.0 911.57L638.0 911.07L639.0 910.58L640.0 910.10L641.0 909.64L642.0 909.18L643.0 908.74L644.0 908.31L645.0 907.89L646.0 907.48L647.0 907.08L648.0 906.69L649.0 906.30L650.0 905.93L651.0 905.56L652.0 905.20L653.0 904.85L654.0 904.51L655.0 904.18L656.0 903.85L657.0 903.54L658.0 903.23L659.0 902.93L660.0 902.64L661.0 902.35L662.0 902.08L663.0 901.81L664.0 901.55L665.0 901.30L666.0 901.05L667.0 900.81L668.0 900.57L669.0 900.34L670.0 900.12L671.0 899.90L672.0 899.68L673.0 899.47L674.0 899.27L675.0 899.06L676.0 898.86L677.0 898.67L678.0 898.47L679.0 898.29L680.0 898.10L681.0 897.92L682.0 897.74L683.0 897.56L684.0 897.39L685.0 897.22L686.0 897.06L687.0 896.89L688.0 896.73L689.0 896.58L690.0 896.42L691.0 896.27L692.0 896.12L693.0 895.97L694.0 895.83L695.0 895.69L696.0 895.55L697.0 895.41L698.0 895.28L699.0 895.15L700.0 895.02L701.0 894.89L702.0 894.76L703.0 894.64L704.0 894.51L705.0 894.39L706.0 894.28L707.0 894.16L708.0 894.04L709.0 893.93L710.0 893.82L711.0 893.71L712.0 893.60L713.0 893.49L714.0 893.38L715.0 893.28L716.0 893.17L717.0 893.07L718.0 892.97L719.0 892.87L720.0 892.77L721.0 892.67L722.0 892.58L723.0 892.48L724.0 892.39L725.0 892.30L726.0 892.20L727.0 892.11L728.0 892.02L729.0 891.93L730.0 891.85L731.0 891.76L732.0 891.67L733.0 891.59L734.0 891.50L735.0 891.42L736.0 891.33L737.0 891.25L738.0 891.17L739.0 891.09L740.0 891.00L741.0 890.92L742.0 890.84L743.0 890.76L744.0 890.69L745.0 890.61L746.0 890.53L747.0 890.45L748.0 890.38L749.0 890.30L750.0 890.22L751.0 890.15L752.0 890.08L753.0 890.00L754.0 889.93L755.0 889.86L756.0 889.78L757.0 889.71L758.0 889.64L759.0 889.57L760.0 889.50L761.0 889.43L762.0 889.36L763.0 889.29L764.0 889.23L765.0 889.16L766.0 889.09L767.0 889.02L768.0 888.96L769.0 888.89L770.0 888.83L771.0 888.76L772.0 888.70L773.0 888.63L774.0 888.57L775.0 888.50L776.0 888.44L777.0 888.38L778.0 888.31L779.0 888.25L780.0 888.19L781.0 888.13L782.0 888.07L783.0 888.00L784.0 887.94L785.0 887.88L786.0 887.82L787.0 887.76L788.0 887.70L789.0 887.64L790.0 887.58L791.0 887.52L792.0 887.47L793.0 887.41L794.0 887.35L795.0 887.29L796.0 887.23L797.0 887.17L798.0 887.12L799.0 887.06L800.0 887.00L801.0 886.95L802.0 886.89L803.0 886.83L804.0 886.78L805.0 886.72L806.0 886.67L807.0 886.61L808.0 886.56L809.0 886.50L810.0 886.45L811.0 886.39L812.0 886.34L813.0 886.29L814.0 886.24L815.0 886.18L816.0 886.13L817.0 886.08L818.0 886.03L819.0 885.98L820.0 885.93L821.0 885.87L822.0 885.82L823.0 885.77L824.0 885.72L825.0 885.67L826.0 885.62L827.0 885.57L828.0 885.52L829.0 885.48L830.0 885.43L831.0 885.38L832.0 885.33L833.0 885.28L834.0 885.23L835.0 885.18L836.0 885.14L837.0 885.09L838.0 885.04L839.0 884.99L840.0 884.94L841.0 884.90L842.0 884.85L843.0 884.80L844.0 884.75L845.0 884.70L846.0 884.66L847.0 884.61L848.0 884.56L849.0 884.51L850.0 884.47L851.0 884.42L852.0 884.37L853.0 884.32L854.0 884.28L855.0 884.23L856.0 884.18L857.0 884.13L858.0 884.08L859.0 884.04L860.0 883.99L861.0 883.94L862.0 883.89L863.0 883.84L864.0 883.79L865.0 883.74L866.0 883.70L867.0 883.65L868.0 883.60L869.0 883.55L870.0 883.50L871.0 883.45L872.0 883.40L873.0 883.35L874.0 883.30L875.0 883.25L876.0 883.20L877.0 883.15L878.0 883.10L879.0 883.05L880.0 883.00L881.0 882.95L882.0 882.90L883.0 882.86L884.0 882.81L885.0 882.76L886.0 882.71L887.0 882.66L888.0 882.61L889.0 882.56L890.0 882.51L891.0 882.46L892.0 882.41L893.0 882.36L894.0 882.31L895.0 882.26L896.0 882.21L897.0 882.16L898.0 882.11L899.0 882.06L900.0 882.01L901.0 881.97L902.0 881.92L903.0 881.87L904.0 881.82L905.0 881.77L906.0 881.72L907.0 881.67L908.0 881.62L909.0 881.57L910.0 881.52L911.0 881.47L912.0 881.42L913.0 881.37L914.0 881.32L915.0 881.27L916.0 881.23L917.0 881.18L918.0 881.13L919.0 881.08L920.0 881.03L921.0 880.98L922.0 880.93L923.0 880.88L924.0 880.83L925.0 880.78L926.0 880.73L927.0 880.68L928.0 880.64L929.0 880.59L930.0 880.54L931.0 880.49L932.0 880.44L933.0 880.39L934.0 880.34L935.0 880.29L936.0 880.25L937.0 880.20L938.0 880.15L939.0 880.11L940.0 880.07L941.0 880.04L942.0 880.00L943.0 879.98" stroke="#45bed4" stroke-width="2.3" fill="none" stroke-linejoin="round" stroke-linecap="round" clip-path="url(#clipd)"/>
<path d="M168.0 996.22L169.0 996.97L170.0 997.94L171.0 998.94L172.0 999.88L173.0 1000.74L174.0 1001.52L175.0 1002.24L176.0 1002.88L177.0 1003.45L178.0 1003.95L179.0 1004.39L180.0 1004.77L181.0 1005.08L182.0 1005.33L183.0 1005.52L184.0 1005.65L185.0 1005.72L186.0 1005.69L187.0 1005.53L188.0 1005.19L189.0 1004.68L190.0 1004.03L191.0 1003.28L192.0 1002.47L193.0 1001.63L194.0 1000.82L195.0 1000.07L196.0 999.42L197.0 998.91L198.0 998.57L199.0 998.41L200.0 998.40L201.0 998.49L202.0 998.65L203.0 998.87L204.0 999.14L205.0 999.46L206.0 999.81L207.0 1000.18L208.0 1000.59L209.0 1001.01L210.0 1001.43L211.0 1001.87L212.0 1002.29L213.0 1002.71L214.0 1003.12L215.0 1003.49L216.0 1003.84L217.0 1004.16L218.0 1004.43L219.0 1004.65L220.0 1004.81L221.0 1004.91L222.0 1004.93L223.0 1004.85L224.0 1004.66L225.0 1004.36L226.0 1003.97L227.0 1003.50L228.0 1002.97L229.0 1002.39L230.0 1001.78L231.0 1001.15L232.0 1000.52L233.0 999.91L234.0 999.33L235.0 998.80L236.0 998.33L237.0 997.94L238.0 997.64L239.0 997.45L240.0 997.36L241.0 997.36L242.0 997.42L243.0 997.52L244.0 997.66L245.0 997.83L246.0 998.02L247.0 998.24L248.0 998.48L249.0 998.73L250.0 999.00L251.0 999.26L252.0 999.54L253.0 999.80L254.0 1000.07L255.0 1000.32L256.0 1000.56L257.0 1000.78L258.0 1000.97L259.0 1001.14L260.0 1001.28L261.0 1001.38L262.0 1001.44L263.0 1001.43L264.0 1001.32L265.0 1001.09L266.0 1000.74L267.0 1000.28L268.0 999.71L269.0 999.07L270.0 998.37L271.0 997.62L272.0 996.84L273.0 996.06L274.0 995.28L275.0 994.53L276.0 993.83L277.0 993.19L278.0 992.62L279.0 992.16L280.0 991.81L281.0 991.58L282.0 991.48L283.0 991.48L284.0 991.56L285.0 991.71L286.0 991.90L287.0 992.15L288.0 992.43L289.0 992.75L290.0 993.11L291.0 993.49L292.0 993.89L293.0 994.31L294.0 994.75L295.0 995.20L296.0 995.65L297.0 996.10L298.0 996.55L299.0 996.99L300.0 997.41L301.0 997.81L302.0 998.19L303.0 998.55L304.0 998.87L305.0 999.15L306.0 999.40L307.0 999.59L308.0 999.74L309.0 999.82L310.0 999.83L311.0 999.74L312.0 999.53L313.0 999.22L314.0 998.81L315.0 998.31L316.0 997.75L317.0 997.15L318.0 996.52L319.0 995.88L320.0 995.25L321.0 994.65L322.0 994.09L323.0 993.59L324.0 993.18L325.0 992.87L326.0 992.66L327.0 992.57L328.0 992.58L329.0 992.67L330.0 992.81L331.0 993.01L332.0 993.26L333.0 993.55L334.0 993.88L335.0 994.25L336.0 994.66L337.0 995.09L338.0 995.55L339.0 996.03L340.0 996.53L341.0 997.04L342.0 997.56L343.0 998.09L344.0 998.61L345.0 999.14L346.0 999.66L347.0 1000.17L348.0 1000.67L349.0 1001.15L350.0 1001.61L351.0 1002.04L352.0 1002.45L353.0 1002.82L354.0 1003.15L355.0 1003.44L356.0 1003.69L357.0 1003.89L358.0 1004.04L359.0 1004.13L360.0 1004.17L361.0 1004.18L362.0 1004.17L363.0 1004.15L364.0 1004.11L365.0 1004.07L366.0 1004.02L367.0 1003.97L368.0 1003.91L369.0 1003.85L370.0 1003.78L371.0 1003.72L372.0 1003.65L373.0 1003.58L374.0 1003.52L375.0 1003.45L376.0 1003.39L377.0 1003.33L378.0 1003.28L379.0 1003.23L380.0 1003.19L381.0 1003.15L382.0 1003.13L383.0 1003.11L384.0 1003.12L385.0 1003.14L386.0 1003.19L387.0 1003.27L388.0 1003.38L389.0 1003.52L390.0 1003.68L391.0 1003.86L392.0 1004.06L393.0 1004.28L394.0 1004.51L395.0 1004.75L396.0 1005.00L397.0 1005.26L398.0 1005.52L399.0 1005.78L400.0 1006.04L401.0 1006.30L402.0 1006.55L403.0 1006.79L404.0 1007.02L405.0 1007.24L406.0 1007.44L407.0 1007.62L408.0 1007.78L409.0 1007.92L410.0 1008.03L411.0 1008.11L412.0 1008.16L413.0 1008.18L414.0 1008.18L415.0 1008.16L416.0 1008.13L417.0 1008.08L418.0 1008.02L419.0 1007.95L420.0 1007.88L421.0 1007.79L422.0 1007.70L423.0 1007.61L424.0 1007.51L425.0 1007.41L426.0 1007.30L427.0 1007.20L428.0 1007.09L429.0 1006.99L430.0 1006.89L431.0 1006.80L432.0 1006.71L433.0 1006.62L434.0 1006.55L435.0 1006.48L436.0 1006.42L437.0 1006.37L438.0 1006.34L439.0 1006.32L440.0 1006.32L441.0 1006.34L442.0 1006.39L443.0 1006.47L444.0 1006.57L445.0 1006.70L446.0 1006.85L447.0 1007.02L448.0 1007.20L449.0 1007.40L450.0 1007.60L451.0 1007.82L452.0 1008.03L453.0 1008.25L454.0 1008.46L455.0 1008.67L456.0 1008.88L457.0 1009.07L458.0 1009.25L459.0 1009.41L460.0 1009.55L461.0 1009.67L462.0 1009.77L463.0 1009.84L464.0 1009.89L465.0 1009.92L466.0 1009.94L467.0 1009.97L468.0 1009.99L469.0 1010.01L470.0 1010.02L471.0 1010.04L472.0 1010.06L473.0 1010.08L474.0 1010.09L475.0 1010.11L476.0 1010.12L477.0 1010.13L478.0 1010.14L479.0 1010.15L480.0 1010.16L481.0 1010.17L482.0 1010.18L483.0 1010.18L484.0 1010.19L485.0 1010.19L486.0 1010.20L487.0 1010.20L488.0 1010.19L489.0 1010.18L490.0 1010.15L491.0 1010.10L492.0 1010.03L493.0 1009.95L494.0 1009.85L495.0 1009.74L496.0 1009.61L497.0 1009.47L498.0 1009.32L499.0 1009.17L500.0 1009.00L501.0 1008.83L502.0 1008.65L503.0 1008.47L504.0 1008.28L505.0 1008.09L506.0 1007.90L507.0 1007.71L508.0 1007.52L509.0 1007.34L510.0 1007.15L511.0 1006.98L512.0 1006.80L513.0 1006.63L514.0 1006.46L515.0 1006.29L516.0 1006.12L517.0 1005.94L518.0 1005.76L519.0 1005.57L520.0 1005.37L521.0 1005.17L522.0 1004.96L523.0 1004.73L524.0 1004.50L525.0 1004.25L526.0 1003.99L527.0 1003.72L528.0 1003.42L529.0 1003.11L530.0 1002.76L531.0 1002.38L532.0 1001.96L533.0 1001.48L534.0 1000.93L535.0 1000.28L536.0 999.50L537.0 998.58L538.0 997.50L539.0 996.26L540.0 994.81L541.0 993.06L542.0 990.81L543.0 987.65L544.0 982.85L545.0 975.59L546.0 965.76L547.0 954.13L548.0 942.11L549.0 931.12L550.0 922.12L551.0 915.42L552.0 910.67L553.0 907.27L554.0 904.81L555.0 902.98L556.0 901.52L557.0 900.26L558.0 899.14L559.0 898.14L560.0 897.26L561.0 896.50L562.0 895.83L563.0 895.24L564.0 894.73L565.0 894.27L566.0 893.86L567.0 893.46L568.0 893.09L569.0 892.73L570.0 892.39L571.0 892.06L572.0 891.75L573.0 891.44L574.0 891.16L575.0 890.88L576.0 890.62L577.0 890.37L578.0 890.13L579.0 889.91L580.0 889.69L581.0 889.49L582.0 889.30L583.0 889.12L584.0 888.95L585.0 888.79L586.0 888.64L587.0 888.50L588.0 888.37L589.0 888.25L590.0 888.14L591.0 888.04L592.0 887.94L593.0 887.85L594.0 887.76L595.0 887.68L596.0 887.60L597.0 887.53L598.0 887.45L599.0 887.38L600.0 887.32L601.0 887.25L602.0 887.19L603.0 887.13L604.0 887.07L605.0 887.01L606.0 886.96L607.0 886.90L608.0 886.85L609.0 886.80L610.0 886.75L611.0 886.71L612.0 886.66L613.0 886.62L614.0 886.58L615.0 886.54L616.0 886.50L617.0 886.46L618.0 886.42L619.0 886.38L620.0 886.35L621.0 886.32L622.0 886.28L623.0 886.25L624.0 886.22L625.0 886.19L626.0 886.16L627.0 886.13L628.0 886.11L629.0 886.08L630.0 886.05L631.0 886.03L632.0 886.00L633.0 885.98L634.0 885.95L635.0 885.93L636.0 885.91L637.0 885.89L638.0 885.87L639.0 885.84L640.0 885.82L641.0 885.80L642.0 885.79L643.0 885.77L644.0 885.75L645.0 885.73L646.0 885.71L647.0 885.70L648.0 885.68L649.0 885.66L650.0 885.65L651.0 885.63L652.0 885.61L653.0 885.60L654.0 885.58L655.0 885.57L656.0 885.55L657.0 885.54L658.0 885.52L659.0 885.51L660.0 885.50L661.0 885.48L662.0 885.47L663.0 885.45L664.0 885.44L665.0 885.42L666.0 885.41L667.0 885.40L668.0 885.38L669.0 885.37L670.0 885.35L671.0 885.34L672.0 885.32L673.0 885.31L674.0 885.29L675.0 885.28L676.0 885.26L677.0 885.24L678.0 885.23L679.0 885.21L680.0 885.19L681.0 885.17L682.0 885.16L683.0 885.14L684.0 885.12L685.0 885.10L686.0 885.08L687.0 885.06L688.0 885.04L689.0 885.02L690.0 885.00L691.0 884.97L692.0 884.95L693.0 884.93L694.0 884.91L695.0 884.88L696.0 884.86L697.0 884.83L698.0 884.81L699.0 884.78L700.0 884.76L701.0 884.73L702.0 884.71L703.0 884.68L704.0 884.66L705.0 884.63L706.0 884.60L707.0 884.57L708.0 884.55L709.0 884.52L710.0 884.49L711.0 884.46L712.0 884.43L713.0 884.40L714.0 884.38L715.0 884.35L716.0 884.32L717.0 884.29L718.0 884.26L719.0 884.23L720.0 884.20L721.0 884.17L722.0 884.13L723.0 884.10L724.0 884.07L725.0 884.04L726.0 884.01L727.0 883.98L728.0 883.94L729.0 883.91L730.0 883.88L731.0 883.85L732.0 883.81L733.0 883.78L734.0 883.75L735.0 883.72L736.0 883.68L737.0 883.65L738.0 883.62L739.0 883.58L740.0 883.55L741.0 883.51L742.0 883.48L743.0 883.44L744.0 883.41L745.0 883.38L746.0 883.34L747.0 883.31L748.0 883.27L749.0 883.24L750.0 883.20L751.0 883.17L752.0 883.13L753.0 883.10L754.0 883.06L755.0 883.03L756.0 882.99L757.0 882.96L758.0 882.92L759.0 882.88L760.0 882.85L761.0 882.81L762.0 882.78L763.0 882.74L764.0 882.71L765.0 882.67L766.0 882.63L767.0 882.60L768.0 882.56L769.0 882.53L770.0 882.49L771.0 882.46L772.0 882.42L773.0 882.38L774.0 882.35L775.0 882.31L776.0 882.28L777.0 882.24L778.0 882.21L779.0 882.17L780.0 882.14L781.0 882.10L782.0 882.06L783.0 882.03L784.0 881.99L785.0 881.96L786.0 881.92L787.0 881.89L788.0 881.85L789.0 881.82L790.0 881.79L791.0 881.75L792.0 881.72L793.0 881.68L794.0 881.65L795.0 881.61L796.0 881.58L797.0 881.55L798.0 881.51L799.0 881.48L800.0 881.44L801.0 881.41L802.0 881.38L803.0 881.35L804.0 881.31L805.0 881.28L806.0 881.25L807.0 881.21L808.0 881.18L809.0 881.15L810.0 881.12L811.0 881.09L812.0 881.06L813.0 881.02L814.0 880.99L815.0 880.96L816.0 880.93L817.0 880.90L818.0 880.87L819.0 880.84L820.0 880.81L821.0 880.78L822.0 880.75L823.0 880.72L824.0 880.69L825.0 880.66L826.0 880.63L827.0 880.60L828.0 880.57L829.0 880.54L830.0 880.51L831.0 880.48L832.0 880.45L833.0 880.42L834.0 880.39L835.0 880.36L836.0 880.33L837.0 880.30L838.0 880.27L839.0 880.24L840.0 880.21L841.0 880.18L842.0 880.15L843.0 880.12L844.0 880.09L845.0 880.06L846.0 880.03L847.0 880.00L848.0 879.97L849.0 879.94L850.0 879.91L851.0 879.88L852.0 879.86L853.0 879.83L854.0 879.80L855.0 879.77L856.0 879.74L857.0 879.71L858.0 879.68L859.0 879.65L860.0 879.62L861.0 879.59L862.0 879.56L863.0 879.53L864.0 879.50L865.0 879.48L866.0 879.45L867.0 879.42L868.0 879.39L869.0 879.36L870.0 879.33L871.0 879.30L872.0 879.27L873.0 879.24L874.0 879.22L875.0 879.19L876.0 879.16L877.0 879.13L878.0 879.10L879.0 879.07L880.0 879.04L881.0 879.02L882.0 878.99L883.0 878.96L884.0 878.93L885.0 878.90L886.0 878.87L887.0 878.84L888.0 878.82L889.0 878.79L890.0 878.76L891.0 878.73L892.0 878.70L893.0 878.67L894.0 878.65L895.0 878.62L896.0 878.59L897.0 878.56L898.0 878.53L899.0 878.51L900.0 878.48L901.0 878.45L902.0 878.42L903.0 878.39L904.0 878.37L905.0 878.34L906.0 878.31L907.0 878.28L908.0 878.25L909.0 878.23L910.0 878.20L911.0 878.17L912.0 878.14L913.0 878.12L914.0 878.09L915.0 878.06L916.0 878.03L917.0 878.01L918.0 877.98L919.0 877.95L920.0 877.92L921.0 877.90L922.0 877.87L923.0 877.84L924.0 877.81L925.0 877.79L926.0 877.76L927.0 877.73L928.0 877.70L929.0 877.68L930.0 877.65L931.0 877.62L932.0 877.60L933.0 877.57L934.0 877.54L935.0 877.52L936.0 877.49L937.0 877.46L938.0 877.44L939.0 877.42L940.0 877.39L941.0 877.37L942.0 877.36L943.0 877.34" stroke="#2f5aa6" stroke-width="2.3" fill="none" stroke-linejoin="round" stroke-linecap="round" clip-path="url(#clipd)"/>
<path d="M168.00 994.70C174.00 998.07 180.50 1004.83 186.00 1004.80C190.69 1004.77 193.90 997.91 199.00 997.30C205.44 996.52 214.87 1004.43 222.00 1004.00C228.44 1003.61 233.51 997.03 240.00 996.30C247.09 995.50 255.88 1001.61 263.00 1000.50C269.83 999.44 274.90 991.09 282.00 990.40C290.28 989.59 301.90 999.37 310.00 998.90C316.45 998.53 320.35 991.73 327.00 991.50C336.14 991.18 349.73 1001.68 360.00 1003.20C368.50 1004.46 375.65 1001.56 384.00 1002.10C393.24 1002.69 403.48 1006.71 413.00 1007.20C422.13 1007.67 431.28 1004.96 440.00 1005.30C448.25 1005.62 455.98 1008.25 464.00 1008.90C471.98 1009.55 480.00 1009.02 488.00 1009.20C496.00 1009.38 504.27 1009.78 512.00 1010.00C519.23 1010.21 526.00 1010.33 533.00 1010.50C536 1010.6 539.5 1011 540.2 1014L541.2 1128C541.6 1136 542.5 1139 545.6 1139.6C553.07 1140.13 560.56 1140.83 568.00 1141.20C575.36 1141.56 580.18 1141.75 590.00 1141.80C609.85 1141.89 650.00 1140.83 680.00 1140.20C710.00 1139.57 735.14 1138.93 770.00 1138.00C818.33 1136.71 885.33 1134.67 943.00 1133.00" stroke="#9a35a0" stroke-width="2.3" fill="none" stroke-linejoin="round" stroke-linecap="round" clip-path="url(#clipd)"/>
<path d="M168.0 996.93L169.0 997.84L170.0 999.02L171.0 1000.23L172.0 1001.37L173.0 1002.41L174.0 1003.36L175.0 1004.22L176.0 1005.00L177.0 1005.69L178.0 1006.29L179.0 1006.82L180.0 1007.27L181.0 1007.64L182.0 1007.94L183.0 1008.17L184.0 1008.33L185.0 1008.40L186.0 1008.37L187.0 1008.16L188.0 1007.75L189.0 1007.12L190.0 1006.31L191.0 1005.38L192.0 1004.37L193.0 1003.33L194.0 1002.32L195.0 1001.39L196.0 1000.59L197.0 999.95L198.0 999.54L199.0 999.34L200.0 999.32L201.0 999.44L202.0 999.64L203.0 999.91L204.0 1000.24L205.0 1000.63L206.0 1001.06L207.0 1001.53L208.0 1002.03L209.0 1002.55L210.0 1003.08L211.0 1003.62L212.0 1004.15L213.0 1004.67L214.0 1005.17L215.0 1005.64L216.0 1006.07L217.0 1006.46L218.0 1006.79L219.0 1007.06L220.0 1007.27L221.0 1007.39L222.0 1007.41L223.0 1007.32L224.0 1007.09L225.0 1006.75L226.0 1006.28L227.0 1005.73L228.0 1005.10L229.0 1004.41L230.0 1003.69L231.0 1002.95L232.0 1002.21L233.0 1001.49L234.0 1000.80L235.0 1000.17L236.0 999.62L237.0 999.15L238.0 998.81L239.0 998.58L240.0 998.48L241.0 998.48L242.0 998.56L243.0 998.69L244.0 998.88L245.0 999.10L246.0 999.37L247.0 999.66L248.0 999.98L249.0 1000.31L250.0 1000.66L251.0 1001.02L252.0 1001.38L253.0 1001.74L254.0 1002.09L255.0 1002.42L256.0 1002.74L257.0 1003.03L258.0 1003.30L259.0 1003.52L260.0 1003.71L261.0 1003.84L262.0 1003.92L263.0 1003.91L264.0 1003.78L265.0 1003.50L266.0 1003.06L267.0 1002.48L268.0 1001.79L269.0 1000.99L270.0 1000.12L271.0 999.19L272.0 998.24L273.0 997.26L274.0 996.31L275.0 995.38L276.0 994.51L277.0 993.71L278.0 993.02L279.0 992.44L280.0 992.00L281.0 991.72L282.0 991.60L283.0 991.60L284.0 991.71L285.0 991.90L286.0 992.15L287.0 992.46L288.0 992.82L289.0 993.23L290.0 993.69L291.0 994.18L292.0 994.70L293.0 995.24L294.0 995.80L295.0 996.37L296.0 996.95L297.0 997.53L298.0 998.10L299.0 998.66L300.0 999.20L301.0 999.72L302.0 1000.21L303.0 1000.67L304.0 1001.08L305.0 1001.44L306.0 1001.75L307.0 1002.00L308.0 1002.19L309.0 1002.30L310.0 1002.30L311.0 1002.19L312.0 1001.92L313.0 1001.52L314.0 1000.98L315.0 1000.34L316.0 999.61L317.0 998.83L318.0 998.01L319.0 997.19L320.0 996.37L321.0 995.59L322.0 994.86L323.0 994.22L324.0 993.68L325.0 993.28L326.0 993.01L327.0 992.90L328.0 992.91L329.0 993.03L330.0 993.22L331.0 993.50L332.0 993.83L333.0 994.23L334.0 994.69L335.0 995.20L336.0 995.75L337.0 996.34L338.0 996.97L339.0 997.63L340.0 998.31L341.0 999.01L342.0 999.72L343.0 1000.44L344.0 1001.16L345.0 1001.88L346.0 1002.59L347.0 1003.29L348.0 1003.97L349.0 1004.63L350.0 1005.26L351.0 1005.85L352.0 1006.40L353.0 1006.91L354.0 1007.37L355.0 1007.77L356.0 1008.10L357.0 1008.38L358.0 1008.58L359.0 1008.70L360.0 1008.76L361.0 1008.78L362.0 1008.77L363.0 1008.74L364.0 1008.70L365.0 1008.65L366.0 1008.59L367.0 1008.53L368.0 1008.46L369.0 1008.39L370.0 1008.31L371.0 1008.23L372.0 1008.15L373.0 1008.07L374.0 1007.99L375.0 1007.91L376.0 1007.84L377.0 1007.77L378.0 1007.71L379.0 1007.65L380.0 1007.60L381.0 1007.56L382.0 1007.53L383.0 1007.52L384.0 1007.53L385.0 1007.57L386.0 1007.67L387.0 1007.82L388.0 1008.02L389.0 1008.27L390.0 1008.56L391.0 1008.90L392.0 1009.27L393.0 1009.66L394.0 1010.09L395.0 1010.54L396.0 1011.00L397.0 1011.47L398.0 1011.96L399.0 1012.44L400.0 1012.93L401.0 1013.41L402.0 1013.87L403.0 1014.33L404.0 1014.76L405.0 1015.17L406.0 1015.56L407.0 1015.90L408.0 1016.22L409.0 1016.49L410.0 1016.71L411.0 1016.88L412.0 1017.00L413.0 1017.08L414.0 1017.12L415.0 1017.15L416.0 1017.17L417.0 1017.19L418.0 1017.20L419.0 1017.22L420.0 1017.23L421.0 1017.24L422.0 1017.25L423.0 1017.26L424.0 1017.27L425.0 1017.28L426.0 1017.29L427.0 1017.29L428.0 1017.30L429.0 1017.31L430.0 1017.32L431.0 1017.33L432.0 1017.34L433.0 1017.35L434.0 1017.37L435.0 1017.38L436.0 1017.40L437.0 1017.42L438.0 1017.45L439.0 1017.48L440.0 1017.53L441.0 1017.62L442.0 1017.77L443.0 1017.98L444.0 1018.26L445.0 1018.60L446.0 1018.98L447.0 1019.42L448.0 1019.89L449.0 1020.40L450.0 1020.93L451.0 1021.49L452.0 1022.06L453.0 1022.64L454.0 1023.23L455.0 1023.82L456.0 1024.42L457.0 1025.04L458.0 1025.71L459.0 1026.43L460.0 1027.19L461.0 1028.00L462.0 1028.84L463.0 1029.71L464.0 1030.59L465.0 1031.50L466.0 1032.41L467.0 1033.35L468.0 1034.31L469.0 1035.29L470.0 1036.30L471.0 1037.34L472.0 1038.40L473.0 1039.48L474.0 1040.59L475.0 1041.71L476.0 1042.86L477.0 1044.02L478.0 1045.20L479.0 1046.40L480.0 1047.61L481.0 1048.85L482.0 1050.10L483.0 1051.38L484.0 1052.69L485.0 1054.01L486.0 1055.36L487.0 1056.73L488.0 1058.13L489.0 1059.54L490.0 1060.98L491.0 1062.43L492.0 1063.91L493.0 1065.41L494.0 1066.92L495.0 1068.46L496.0 1070.04L497.0 1071.67L498.0 1073.36L499.0 1075.11L500.0 1076.91L501.0 1078.73L502.0 1080.56L503.0 1082.38L504.0 1084.16L505.0 1085.89L506.0 1087.56L507.0 1089.16L508.0 1090.71L509.0 1092.24L510.0 1093.74L511.0 1095.22L512.0 1096.68L513.0 1098.11L514.0 1099.50L515.0 1100.85L516.0 1102.15L517.0 1103.39L518.0 1104.58L519.0 1105.70L520.0 1106.77L521.0 1107.78L522.0 1108.77L523.0 1109.73L524.0 1110.66L525.0 1111.57L526.0 1112.46L527.0 1113.31L528.0 1114.14L529.0 1114.94L530.0 1115.70L531.0 1116.44L532.0 1117.14L533.0 1117.80L534.0 1118.43L535.0 1119.02L536.0 1119.58L537.0 1120.11L538.0 1120.63L539.0 1121.13L540.0 1121.61L541.0 1122.07L542.0 1122.52L543.0 1122.95L544.0 1123.37L545.0 1123.77L546.0 1124.14L547.0 1124.50L548.0 1124.84L549.0 1125.16L550.0 1125.46L551.0 1125.73L552.0 1125.99L553.0 1126.23L554.0 1126.46L555.0 1126.68L556.0 1126.89L557.0 1127.09L558.0 1127.29L559.0 1127.47L560.0 1127.65L561.0 1127.83L562.0 1128.00L563.0 1128.16L564.0 1128.32L565.0 1128.47L566.0 1128.62L567.0 1128.77L568.0 1128.91L569.0 1129.05L570.0 1129.19L571.0 1129.33L572.0 1129.46L573.0 1129.60L574.0 1129.73L575.0 1129.87L576.0 1130.00L577.0 1130.13L578.0 1130.27L579.0 1130.40L580.0 1130.53L581.0 1130.66L582.0 1130.79L583.0 1130.92L584.0 1131.05L585.0 1131.17L586.0 1131.29L587.0 1131.41L588.0 1131.53L589.0 1131.65L590.0 1131.76L591.0 1131.87L592.0 1131.97L593.0 1132.07L594.0 1132.17L595.0 1132.26L596.0 1132.35L597.0 1132.44L598.0 1132.52L599.0 1132.60L600.0 1132.68L601.0 1132.75L602.0 1132.83L603.0 1132.90L604.0 1132.97L605.0 1133.04L606.0 1133.10L607.0 1133.17L608.0 1133.24L609.0 1133.31L610.0 1133.37L611.0 1133.44L612.0 1133.50L613.0 1133.57L614.0 1133.63L615.0 1133.70L616.0 1133.76L617.0 1133.82L618.0 1133.89L619.0 1133.95L620.0 1134.01L621.0 1134.07L622.0 1134.14L623.0 1134.20L624.0 1134.26L625.0 1134.32L626.0 1134.37L627.0 1134.43L628.0 1134.49L629.0 1134.55L630.0 1134.60L631.0 1134.66L632.0 1134.71L633.0 1134.77L634.0 1134.82L635.0 1134.87L636.0 1134.93L637.0 1134.98L638.0 1135.03L639.0 1135.08L640.0 1135.13L641.0 1135.18L642.0 1135.22L643.0 1135.27L644.0 1135.31L645.0 1135.36L646.0 1135.40L647.0 1135.44L648.0 1135.49L649.0 1135.53L650.0 1135.57L651.0 1135.60L652.0 1135.64L653.0 1135.68L654.0 1135.71L655.0 1135.75L656.0 1135.78L657.0 1135.81L658.0 1135.84L659.0 1135.87L660.0 1135.90L661.0 1135.93L662.0 1135.95L663.0 1135.98L664.0 1136.00L665.0 1136.02L666.0 1136.04L667.0 1136.06L668.0 1136.08L669.0 1136.10L670.0 1136.11L671.0 1136.13L672.0 1136.14L673.0 1136.15L674.0 1136.16L675.0 1136.17L676.0 1136.18L677.0 1136.18L678.0 1136.19L679.0 1136.19L680.0 1136.19L681.0 1136.20L682.0 1136.20L683.0 1136.20L684.0 1136.20L685.0 1136.20L686.0 1136.20L687.0 1136.20L688.0 1136.20L689.0 1136.20L690.0 1136.20L691.0 1136.20L692.0 1136.19L693.0 1136.19L694.0 1136.19L695.0 1136.19L696.0 1136.19L697.0 1136.19L698.0 1136.19L699.0 1136.19L700.0 1136.19L701.0 1136.19L702.0 1136.18L703.0 1136.18L704.0 1136.18L705.0 1136.18L706.0 1136.18L707.0 1136.18L708.0 1136.18L709.0 1136.17L710.0 1136.17L711.0 1136.17L712.0 1136.17L713.0 1136.17L714.0 1136.17L715.0 1136.16L716.0 1136.16L717.0 1136.16L718.0 1136.16L719.0 1136.15L720.0 1136.15L721.0 1136.15L722.0 1136.15L723.0 1136.15L724.0 1136.14L725.0 1136.14L726.0 1136.14L727.0 1136.14L728.0 1136.13L729.0 1136.13L730.0 1136.13L731.0 1136.13L732.0 1136.12L733.0 1136.12L734.0 1136.12L735.0 1136.12L736.0 1136.11L737.0 1136.11L738.0 1136.11L739.0 1136.10L740.0 1136.10L741.0 1136.10L742.0 1136.09L743.0 1136.09L744.0 1136.09L745.0 1136.09L746.0 1136.08L747.0 1136.08L748.0 1136.08L749.0 1136.07L750.0 1136.07L751.0 1136.07L752.0 1136.06L753.0 1136.06L754.0 1136.06L755.0 1136.05L756.0 1136.05L757.0 1136.05L758.0 1136.04L759.0 1136.04L760.0 1136.04L761.0 1136.03L762.0 1136.03L763.0 1136.03L764.0 1136.02L765.0 1136.02L766.0 1136.01L767.0 1136.01L768.0 1136.01L769.0 1136.00L770.0 1136.00L771.0 1135.99L772.0 1135.99L773.0 1135.99L774.0 1135.98L775.0 1135.98L776.0 1135.97L777.0 1135.97L778.0 1135.96L779.0 1135.96L780.0 1135.95L781.0 1135.94L782.0 1135.94L783.0 1135.93L784.0 1135.92L785.0 1135.92L786.0 1135.91L787.0 1135.90L788.0 1135.89L789.0 1135.88L790.0 1135.88L791.0 1135.87L792.0 1135.86L793.0 1135.85L794.0 1135.84L795.0 1135.83L796.0 1135.82L797.0 1135.81L798.0 1135.80L799.0 1135.79L800.0 1135.78L801.0 1135.77L802.0 1135.76L803.0 1135.75L804.0 1135.74L805.0 1135.73L806.0 1135.71L807.0 1135.70L808.0 1135.69L809.0 1135.68L810.0 1135.66L811.0 1135.65L812.0 1135.64L813.0 1135.63L814.0 1135.61L815.0 1135.60L816.0 1135.58L817.0 1135.57L818.0 1135.56L819.0 1135.54L820.0 1135.53L821.0 1135.51L822.0 1135.50L823.0 1135.48L824.0 1135.47L825.0 1135.45L826.0 1135.43L827.0 1135.42L828.0 1135.40L829.0 1135.39L830.0 1135.37L831.0 1135.35L832.0 1135.34L833.0 1135.32L834.0 1135.30L835.0 1135.28L836.0 1135.27L837.0 1135.25L838.0 1135.23L839.0 1135.21L840.0 1135.19L841.0 1135.17L842.0 1135.16L843.0 1135.14L844.0 1135.12L845.0 1135.10L846.0 1135.08L847.0 1135.06L848.0 1135.04L849.0 1135.02L850.0 1135.00L851.0 1134.98L852.0 1134.96L853.0 1134.94L854.0 1134.92L855.0 1134.89L856.0 1134.87L857.0 1134.85L858.0 1134.83L859.0 1134.81L860.0 1134.79L861.0 1134.76L862.0 1134.74L863.0 1134.72L864.0 1134.70L865.0 1134.67L866.0 1134.65L867.0 1134.63L868.0 1134.61L869.0 1134.58L870.0 1134.56L871.0 1134.54L872.0 1134.51L873.0 1134.49L874.0 1134.46L875.0 1134.44L876.0 1134.42L877.0 1134.39L878.0 1134.37L879.0 1134.34L880.0 1134.32L881.0 1134.29L882.0 1134.27L883.0 1134.24L884.0 1134.22L885.0 1134.19L886.0 1134.16L887.0 1134.14L888.0 1134.11L889.0 1134.09L890.0 1134.06L891.0 1134.03L892.0 1134.01L893.0 1133.98L894.0 1133.95L895.0 1133.93L896.0 1133.90L897.0 1133.87L898.0 1133.84L899.0 1133.82L900.0 1133.79L901.0 1133.76L902.0 1133.73L903.0 1133.71L904.0 1133.68L905.0 1133.65L906.0 1133.62L907.0 1133.59L908.0 1133.56L909.0 1133.54L910.0 1133.51L911.0 1133.48L912.0 1133.45L913.0 1133.42L914.0 1133.39L915.0 1133.36L916.0 1133.33L917.0 1133.30L918.0 1133.27L919.0 1133.24L920.0 1133.21L921.0 1133.18L922.0 1133.15L923.0 1133.12L924.0 1133.09L925.0 1133.06L926.0 1133.03L927.0 1133.00L928.0 1132.97L929.0 1132.94L930.0 1132.91L931.0 1132.88L932.0 1132.85L933.0 1132.82L934.0 1132.79L935.0 1132.75L936.0 1132.72L937.0 1132.69L938.0 1132.67L939.0 1132.64L940.0 1132.61L941.0 1132.59L942.0 1132.57L943.0 1132.55" stroke="#de4f36" stroke-width="2.3" fill="none" stroke-linejoin="round" stroke-linecap="round" clip-path="url(#clipd)"/>
<path d="M168.0 999.24L169.0 1000.45L170.0 1002.01L171.0 1003.61L172.0 1005.11L173.0 1006.48L174.0 1007.73L175.0 1008.86L176.0 1009.87L177.0 1010.77L178.0 1011.56L179.0 1012.24L180.0 1012.82L181.0 1013.30L182.0 1013.68L183.0 1013.98L184.0 1014.18L185.0 1014.28L186.0 1014.22L187.0 1013.94L188.0 1013.36L189.0 1012.49L190.0 1011.38L191.0 1010.10L192.0 1008.71L193.0 1007.29L194.0 1005.90L195.0 1004.62L196.0 1003.51L197.0 1002.64L198.0 1002.06L199.0 1001.79L200.0 1001.77L201.0 1001.92L202.0 1002.19L203.0 1002.56L204.0 1003.01L205.0 1003.53L206.0 1004.12L207.0 1004.75L208.0 1005.42L209.0 1006.12L210.0 1006.84L211.0 1007.56L212.0 1008.28L213.0 1008.98L214.0 1009.65L215.0 1010.28L216.0 1010.87L217.0 1011.39L218.0 1011.84L219.0 1012.21L220.0 1012.48L221.0 1012.65L222.0 1012.68L223.0 1012.57L224.0 1012.28L225.0 1011.83L226.0 1011.24L227.0 1010.52L228.0 1009.71L229.0 1008.83L230.0 1007.90L231.0 1006.95L232.0 1006.00L233.0 1005.07L234.0 1004.19L235.0 1003.38L236.0 1002.66L237.0 1002.07L238.0 1001.62L239.0 1001.33L240.0 1001.20L241.0 1001.21L242.0 1001.33L243.0 1001.52L244.0 1001.78L245.0 1002.11L246.0 1002.48L247.0 1002.90L248.0 1003.35L249.0 1003.83L250.0 1004.33L251.0 1004.84L252.0 1005.36L253.0 1005.87L254.0 1006.37L255.0 1006.85L256.0 1007.30L257.0 1007.72L258.0 1008.09L259.0 1008.42L260.0 1008.68L261.0 1008.87L262.0 1008.98L263.0 1008.98L264.0 1008.82L265.0 1008.46L266.0 1007.90L267.0 1007.16L268.0 1006.27L269.0 1005.25L270.0 1004.13L271.0 1002.95L272.0 1001.72L273.0 1000.48L274.0 999.25L275.0 998.07L276.0 996.95L277.0 995.93L278.0 995.04L279.0 994.30L280.0 993.74L281.0 993.39L282.0 993.23L283.0 993.24L284.0 993.39L285.0 993.64L286.0 993.98L287.0 994.41L288.0 994.91L289.0 995.47L290.0 996.09L291.0 996.76L292.0 997.47L293.0 998.21L294.0 998.98L295.0 999.76L296.0 1000.55L297.0 1001.34L298.0 1002.12L299.0 1002.89L300.0 1003.63L301.0 1004.34L302.0 1005.01L303.0 1005.63L304.0 1006.19L305.0 1006.69L306.0 1007.12L307.0 1007.46L308.0 1007.71L309.0 1007.86L310.0 1007.86L311.0 1007.69L312.0 1007.31L313.0 1006.71L314.0 1005.93L315.0 1004.99L316.0 1003.94L317.0 1002.80L318.0 1001.60L319.0 1000.40L320.0 999.20L321.0 998.06L322.0 997.01L323.0 996.07L324.0 995.29L325.0 994.69L326.0 994.31L327.0 994.15L328.0 994.20L329.0 994.41L330.0 994.77L331.0 995.25L332.0 995.84L333.0 996.52L334.0 997.27L335.0 998.10L336.0 998.97L337.0 999.87L338.0 1000.80L339.0 1001.73L340.0 1002.65L341.0 1003.54L342.0 1004.40L343.0 1005.22L344.0 1005.99L345.0 1006.75L346.0 1007.52L347.0 1008.31L348.0 1009.11L349.0 1009.91L350.0 1010.70L351.0 1011.46L352.0 1012.18L353.0 1012.85L354.0 1013.46L355.0 1014.00L356.0 1014.47L357.0 1014.89L358.0 1015.29L359.0 1015.67L360.0 1016.05L361.0 1016.40L362.0 1016.72L363.0 1017.01L364.0 1017.26L365.0 1017.47L366.0 1017.62L367.0 1017.72L368.0 1017.76L369.0 1017.75L370.0 1017.70L371.0 1017.62L372.0 1017.52L373.0 1017.40L374.0 1017.27L375.0 1017.13L376.0 1017.00L377.0 1016.88L378.0 1016.78L379.0 1016.70L380.0 1016.65L381.0 1016.64L382.0 1016.69L383.0 1016.81L384.0 1017.00L385.0 1017.25L386.0 1017.56L387.0 1017.93L388.0 1018.34L389.0 1018.79L390.0 1019.28L391.0 1019.80L392.0 1020.34L393.0 1020.90L394.0 1021.47L395.0 1022.05L396.0 1022.63L397.0 1023.23L398.0 1023.88L399.0 1024.59L400.0 1025.37L401.0 1026.23L402.0 1027.14L403.0 1028.10L404.0 1029.09L405.0 1030.10L406.0 1031.13L407.0 1032.15L408.0 1033.15L409.0 1034.13L410.0 1035.07L411.0 1035.96L412.0 1036.79L413.0 1037.56L414.0 1038.27L415.0 1038.94L416.0 1039.58L417.0 1040.20L418.0 1040.79L419.0 1041.36L420.0 1041.92L421.0 1042.47L422.0 1043.01L423.0 1043.55L424.0 1044.09L425.0 1044.63L426.0 1045.18L427.0 1045.74L428.0 1046.31L429.0 1046.90L430.0 1047.52L431.0 1048.15L432.0 1048.81L433.0 1049.49L434.0 1050.17L435.0 1050.86L436.0 1051.57L437.0 1052.28L438.0 1053.01L439.0 1053.75L440.0 1054.51L441.0 1055.30L442.0 1056.10L443.0 1056.94L444.0 1057.81L445.0 1058.71L446.0 1059.64L447.0 1060.62L448.0 1061.66L449.0 1062.78L450.0 1063.99L451.0 1065.31L452.0 1066.71L453.0 1068.19L454.0 1069.73L455.0 1071.31L456.0 1072.92L457.0 1074.54L458.0 1076.15L459.0 1077.75L460.0 1079.31L461.0 1080.83L462.0 1082.28L463.0 1083.66L464.0 1084.96L465.0 1086.22L466.0 1087.45L467.0 1088.67L468.0 1089.87L469.0 1091.06L470.0 1092.23L471.0 1093.37L472.0 1094.49L473.0 1095.57L474.0 1096.62L475.0 1097.63L476.0 1098.60L477.0 1099.52L478.0 1100.39L479.0 1101.20L480.0 1101.97L481.0 1102.70L482.0 1103.40L483.0 1104.08L484.0 1104.74L485.0 1105.38L486.0 1106.01L487.0 1106.61L488.0 1107.21L489.0 1107.78L490.0 1108.34L491.0 1108.89L492.0 1109.42L493.0 1109.93L494.0 1110.43L495.0 1110.92L496.0 1111.40L497.0 1111.86L498.0 1112.31L499.0 1112.75L500.0 1113.18L501.0 1113.60L502.0 1114.01L503.0 1114.40L504.0 1114.79L505.0 1115.17L506.0 1115.54L507.0 1115.91L508.0 1116.26L509.0 1116.61L510.0 1116.95L511.0 1117.28L512.0 1117.60L513.0 1117.92L514.0 1118.23L515.0 1118.53L516.0 1118.83L517.0 1119.12L518.0 1119.40L519.0 1119.68L520.0 1119.96L521.0 1120.23L522.0 1120.49L523.0 1120.75L524.0 1121.01L525.0 1121.26L526.0 1121.51L527.0 1121.76L528.0 1122.00L529.0 1122.24L530.0 1122.47L531.0 1122.70L532.0 1122.93L533.0 1123.16L534.0 1123.38L535.0 1123.60L536.0 1123.81L537.0 1124.02L538.0 1124.23L539.0 1124.44L540.0 1124.64L541.0 1124.84L542.0 1125.03L543.0 1125.22L544.0 1125.41L545.0 1125.60L546.0 1125.78L547.0 1125.96L548.0 1126.13L549.0 1126.30L550.0 1126.47L551.0 1126.64L552.0 1126.80L553.0 1126.96L554.0 1127.12L555.0 1127.27L556.0 1127.43L557.0 1127.59L558.0 1127.74L559.0 1127.89L560.0 1128.04L561.0 1128.19L562.0 1128.33L563.0 1128.47L564.0 1128.61L565.0 1128.74L566.0 1128.88L567.0 1129.01L568.0 1129.13L569.0 1129.25L570.0 1129.37L571.0 1129.48L572.0 1129.59L573.0 1129.70L574.0 1129.80L575.0 1129.89L576.0 1129.99L577.0 1130.08L578.0 1130.16L579.0 1130.25L580.0 1130.33L581.0 1130.40L582.0 1130.48L583.0 1130.56L584.0 1130.63L585.0 1130.70L586.0 1130.77L587.0 1130.84L588.0 1130.90L589.0 1130.96L590.0 1131.03L591.0 1131.09L592.0 1131.15L593.0 1131.21L594.0 1131.27L595.0 1131.32L596.0 1131.38L597.0 1131.43L598.0 1131.49L599.0 1131.54L600.0 1131.60L601.0 1131.65L602.0 1131.70L603.0 1131.76L604.0 1131.81L605.0 1131.86L606.0 1131.92L607.0 1131.97L608.0 1132.02L609.0 1132.08L610.0 1132.13L611.0 1132.18L612.0 1132.24L613.0 1132.29L614.0 1132.34L615.0 1132.39L616.0 1132.45L617.0 1132.50L618.0 1132.55L619.0 1132.60L620.0 1132.66L621.0 1132.71L622.0 1132.76L623.0 1132.81L624.0 1132.86L625.0 1132.91L626.0 1132.97L627.0 1133.02L628.0 1133.07L629.0 1133.12L630.0 1133.17L631.0 1133.22L632.0 1133.26L633.0 1133.31L634.0 1133.36L635.0 1133.41L636.0 1133.45L637.0 1133.50L638.0 1133.55L639.0 1133.59L640.0 1133.64L641.0 1133.68L642.0 1133.73L643.0 1133.77L644.0 1133.81L645.0 1133.85L646.0 1133.90L647.0 1133.94L648.0 1133.98L649.0 1134.02L650.0 1134.05L651.0 1134.09L652.0 1134.13L653.0 1134.17L654.0 1134.20L655.0 1134.24L656.0 1134.27L657.0 1134.30L658.0 1134.34L659.0 1134.37L660.0 1134.40L661.0 1134.43L662.0 1134.46L663.0 1134.48L664.0 1134.51L665.0 1134.54L666.0 1134.56L667.0 1134.58L668.0 1134.61L669.0 1134.63L670.0 1134.65L671.0 1134.67L672.0 1134.69L673.0 1134.70L674.0 1134.72L675.0 1134.73L676.0 1134.75L677.0 1134.76L678.0 1134.77L679.0 1134.78L680.0 1134.79L681.0 1134.80L682.0 1134.81L683.0 1134.82L684.0 1134.83L685.0 1134.84L686.0 1134.85L687.0 1134.85L688.0 1134.86L689.0 1134.87L690.0 1134.88L691.0 1134.88L692.0 1134.89L693.0 1134.90L694.0 1134.91L695.0 1134.91L696.0 1134.92L697.0 1134.93L698.0 1134.93L699.0 1134.94L700.0 1134.95L701.0 1134.95L702.0 1134.96L703.0 1134.97L704.0 1134.97L705.0 1134.98L706.0 1134.99L707.0 1134.99L708.0 1135.00L709.0 1135.01L710.0 1135.01L711.0 1135.02L712.0 1135.02L713.0 1135.03L714.0 1135.03L715.0 1135.04L716.0 1135.05L717.0 1135.05L718.0 1135.06L719.0 1135.06L720.0 1135.07L721.0 1135.07L722.0 1135.08L723.0 1135.08L724.0 1135.09L725.0 1135.09L726.0 1135.10L727.0 1135.10L728.0 1135.10L729.0 1135.11L730.0 1135.11L731.0 1135.12L732.0 1135.12L733.0 1135.12L734.0 1135.13L735.0 1135.13L736.0 1135.14L737.0 1135.14L738.0 1135.14L739.0 1135.15L740.0 1135.15L741.0 1135.15L742.0 1135.16L743.0 1135.16L744.0 1135.16L745.0 1135.16L746.0 1135.17L747.0 1135.17L748.0 1135.17L749.0 1135.17L750.0 1135.18L751.0 1135.18L752.0 1135.18L753.0 1135.18L754.0 1135.18L755.0 1135.19L756.0 1135.19L757.0 1135.19L758.0 1135.19L759.0 1135.19L760.0 1135.19L761.0 1135.19L762.0 1135.20L763.0 1135.20L764.0 1135.20L765.0 1135.20L766.0 1135.20L767.0 1135.20L768.0 1135.20L769.0 1135.20L770.0 1135.20L771.0 1135.20L772.0 1135.20L773.0 1135.20L774.0 1135.20L775.0 1135.19L776.0 1135.19L777.0 1135.19L778.0 1135.19L779.0 1135.19L780.0 1135.19L781.0 1135.18L782.0 1135.18L783.0 1135.18L784.0 1135.17L785.0 1135.17L786.0 1135.17L787.0 1135.16L788.0 1135.16L789.0 1135.15L790.0 1135.15L791.0 1135.14L792.0 1135.14L793.0 1135.13L794.0 1135.13L795.0 1135.12L796.0 1135.11L797.0 1135.11L798.0 1135.10L799.0 1135.09L800.0 1135.09L801.0 1135.08L802.0 1135.07L803.0 1135.06L804.0 1135.06L805.0 1135.05L806.0 1135.04L807.0 1135.03L808.0 1135.02L809.0 1135.01L810.0 1135.00L811.0 1134.99L812.0 1134.98L813.0 1134.97L814.0 1134.96L815.0 1134.95L816.0 1134.94L817.0 1134.93L818.0 1134.92L819.0 1134.91L820.0 1134.90L821.0 1134.88L822.0 1134.87L823.0 1134.86L824.0 1134.85L825.0 1134.83L826.0 1134.82L827.0 1134.81L828.0 1134.79L829.0 1134.78L830.0 1134.77L831.0 1134.75L832.0 1134.74L833.0 1134.72L834.0 1134.71L835.0 1134.69L836.0 1134.68L837.0 1134.66L838.0 1134.65L839.0 1134.63L840.0 1134.62L841.0 1134.60L842.0 1134.58L843.0 1134.57L844.0 1134.55L845.0 1134.53L846.0 1134.52L847.0 1134.50L848.0 1134.48L849.0 1134.46L850.0 1134.45L851.0 1134.43L852.0 1134.41L853.0 1134.39L854.0 1134.37L855.0 1134.35L856.0 1134.33L857.0 1134.32L858.0 1134.30L859.0 1134.28L860.0 1134.26L861.0 1134.24L862.0 1134.22L863.0 1134.19L864.0 1134.17L865.0 1134.15L866.0 1134.13L867.0 1134.11L868.0 1134.09L869.0 1134.07L870.0 1134.05L871.0 1134.02L872.0 1134.00L873.0 1133.98L874.0 1133.96L875.0 1133.93L876.0 1133.91L877.0 1133.89L878.0 1133.87L879.0 1133.84L880.0 1133.82L881.0 1133.79L882.0 1133.77L883.0 1133.75L884.0 1133.72L885.0 1133.70L886.0 1133.67L887.0 1133.65L888.0 1133.62L889.0 1133.60L890.0 1133.57L891.0 1133.55L892.0 1133.52L893.0 1133.49L894.0 1133.47L895.0 1133.44L896.0 1133.42L897.0 1133.39L898.0 1133.36L899.0 1133.34L900.0 1133.31L901.0 1133.28L902.0 1133.25L903.0 1133.23L904.0 1133.20L905.0 1133.17L906.0 1133.14L907.0 1133.12L908.0 1133.09L909.0 1133.06L910.0 1133.03L911.0 1133.00L912.0 1132.97L913.0 1132.94L914.0 1132.91L915.0 1132.88L916.0 1132.85L917.0 1132.82L918.0 1132.79L919.0 1132.76L920.0 1132.73L921.0 1132.70L922.0 1132.67L923.0 1132.64L924.0 1132.61L925.0 1132.58L926.0 1132.55L927.0 1132.52L928.0 1132.49L929.0 1132.46L930.0 1132.42L931.0 1132.39L932.0 1132.36L933.0 1132.33L934.0 1132.30L935.0 1132.26L936.0 1132.23L937.0 1132.20L938.0 1132.17L939.0 1132.14L940.0 1132.12L941.0 1132.09L942.0 1132.07L943.0 1132.05" stroke="#eca83a" stroke-width="2.3" fill="none" stroke-linejoin="round" stroke-linecap="round" clip-path="url(#clipd)"/>
<path d="M367.3 484.2H412.3V329.5H456" stroke="#eca83a" stroke-width="3.6" fill="none" stroke-dasharray="7.5 7.5" stroke-linejoin="miter" clip-path="url(#clipb)"/>
<path d="M420 484.2H465V329.5H507" stroke="#de4f36" stroke-width="3.6" fill="none" stroke-dasharray="7.5 7.5" stroke-linejoin="miter" clip-path="url(#clipb)"/>
<path d="M495.5 484.2H540.5V329.5H581" stroke="#9a35a0" stroke-width="3.6" fill="none" stroke-dasharray="7.5 7.5" stroke-linejoin="miter" clip-path="url(#clipb)"/>
<path d="M502.1 484.2H547.1V329.5H587" stroke="#2f5aa6" stroke-width="3.6" fill="none" stroke-dasharray="7.5 7.5" stroke-linejoin="miter" clip-path="url(#clipb)"/>
<path d="M546.2 484.2H591.2V329.5H642" stroke="#45bed4" stroke-width="3.6" fill="none" stroke-dasharray="7.5 7.5" stroke-linejoin="miter" clip-path="url(#clipb)"/>
<path d="M621.5 484.2H666.5V329.5H709" stroke="#5bb04a" stroke-width="3.6" fill="none" stroke-dasharray="7.5 7.5" stroke-linejoin="miter" clip-path="url(#clipb)"/>
<path d="M366 1000.0H412.3V1130.3H453.5" stroke="#eca83a" stroke-width="3.6" fill="none" stroke-dasharray="7.5 7.5" stroke-linejoin="miter" clip-path="url(#clipd)"/>
<path d="M421 1000.0H465V1130.3H506.5" stroke="#de4f36" stroke-width="3.6" fill="none" stroke-dasharray="7.5 7.5" stroke-linejoin="miter" clip-path="url(#clipd)"/>
<path d="M494 1000.0H540.5V1130.3H587" stroke="#9a35a0" stroke-width="3.6" fill="none" stroke-dasharray="7.5 7.5" stroke-linejoin="miter" clip-path="url(#clipd)"/>
<path d="M501 1000.0H546.6V870.4H591" stroke="#2f5aa6" stroke-width="3.6" fill="none" stroke-dasharray="7.5 7.5" stroke-linejoin="miter" clip-path="url(#clipd)"/>
<path d="M546.6 1000.0H591.2V870.4H635" stroke="#45bed4" stroke-width="3.6" fill="none" stroke-dasharray="7.5 7.5" stroke-linejoin="miter" clip-path="url(#clipd)"/>
<path d="M622.6 1000.0H666.6V870.4H708" stroke="#5bb04a" stroke-width="3.6" fill="none" stroke-dasharray="7.5 7.5" stroke-linejoin="miter" clip-path="url(#clipd)"/>
<rect x="195" y="124.3" width="273.6" height="157.5" fill="#fff" stroke="#000" stroke-width="2"/>
<text x="210" y="167.0" textLength="58.5" lengthAdjust="spacingAndGlyphs">1.40</text>
<line x1="278.2" x2="313.2" y1="156.4" y2="156.4" stroke="#5bb04a" stroke-width="2"/>
<text x="210" y="214.3" textLength="58.5" lengthAdjust="spacingAndGlyphs">1.47</text>
<line x1="278.2" x2="313.2" y1="203.7" y2="203.7" stroke="#45bed4" stroke-width="2"/>
<text x="210" y="261.6" textLength="58.5" lengthAdjust="spacingAndGlyphs">1.54</text>
<line x1="278.2" x2="313.2" y1="251.0" y2="251.0" stroke="#2f5aa6" stroke-width="2"/>
<text x="345" y="167.0" textLength="58.5" lengthAdjust="spacingAndGlyphs">1.55</text>
<line x1="412.6" x2="447.6" y1="156.4" y2="156.4" stroke="#9a35a0" stroke-width="2"/>
<text x="345" y="214.3" textLength="58.5" lengthAdjust="spacingAndGlyphs">1.62</text>
<line x1="412.6" x2="447.6" y1="203.7" y2="203.7" stroke="#de4f36" stroke-width="2"/>
<text x="345" y="261.6" textLength="58.5" lengthAdjust="spacingAndGlyphs">1.70</text>
<line x1="412.6" x2="447.6" y1="251.0" y2="251.0" stroke="#eca83a" stroke-width="2"/>
</svg></body></html>
